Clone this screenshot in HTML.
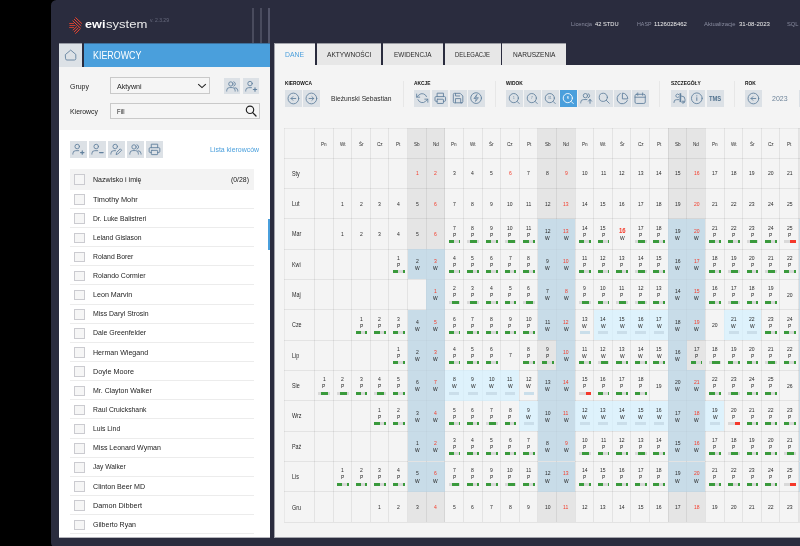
<!DOCTYPE html>
<html><head><meta charset="utf-8"><title>ewisystem</title>
<style>
html,body{margin:0;padding:0;background:#000;}
body{width:800px;height:546px;overflow:hidden;position:relative;font-family:"Liberation Sans",sans-serif;}
#app{will-change:transform;position:absolute;left:0;top:0;width:800px;height:546px;overflow:hidden;background:#000;}
</style></head><body><div id="app">
<div style="position:absolute;left:51.00px;top:0.00px;width:760.00px;height:547.50px;background:#2a2c3e;border-radius:5.5px 0 0 5.5px;"></div>
<svg style="position:absolute;left:69.00px;top:17.00px;" width="13.2" height="17.6" viewBox="0 0 13.2 17.6" fill="none"><g stroke="#f0452f" stroke-width="1.0" stroke-linecap="butt"><line x1="3.60" y1="3.70" x2="11.70" y2="11.40"/><line stroke-width="1.0" x1="3.80" y1="13.30" x2="7.90" y2="9.50"/><line x1="5.00" y1="2.05" x2="12.30" y2="9.00"/><line stroke-width="1.0" x1="5.10" y1="15.00" x2="9.45" y2="10.80"/><line x1="6.40" y1="0.40" x2="12.90" y2="6.60"/><line stroke-width="1.0" x1="6.40" y1="16.70" x2="11.00" y2="12.10"/><g stroke-width="0.8"><line x1="0.2" y1="6.5" x2="5.0" y2="6.5"/><line x1="0.5" y1="8.5" x2="6.4" y2="8.5"/><line x1="0.2" y1="10.5" x2="5.0" y2="10.5"/></g></g></svg>
<div style="position:absolute;left:84.90px;top:17.66px;font-size:11.8px;line-height:13.57px;color:#fff;white-space:nowrap;font-weight:bold;transform:scaleX(1.0726);transform-origin:0 50%;">ewi</div>
<div style="position:absolute;left:105.60px;top:17.66px;font-size:11.8px;line-height:13.57px;color:#ececec;white-space:nowrap;transform:scaleX(1.1078);transform-origin:0 50%;">system</div>
<div style="position:absolute;left:149.80px;top:17.96px;font-size:4.6px;line-height:5.29px;color:#686b7e;white-space:nowrap;transform:scaleX(1.0980);transform-origin:0 50%;">v. 2.3.29</div>
<div style="position:absolute;left:252.00px;top:8.00px;width:1.90px;height:35.50px;background:#494b5d;"></div>
<div style="position:absolute;left:260.30px;top:8.00px;width:1.90px;height:35.50px;background:#494b5d;"></div>
<div style="position:absolute;left:268.20px;top:8.00px;width:1.90px;height:35.50px;background:#525468;"></div>
<div style="position:absolute;left:571.40px;top:21.01px;font-size:5.9px;line-height:6.79px;color:#888b9e;white-space:nowrap;transform:scaleX(0.9701);transform-origin:0 50%;">Licencja</div>
<div style="position:absolute;left:595.40px;top:21.01px;font-size:5.9px;line-height:6.79px;color:#f0f0f0;white-space:nowrap;transform:scaleX(0.9727);transform-origin:0 50%;">42 STDU</div>
<div style="position:absolute;left:636.50px;top:21.01px;font-size:5.9px;line-height:6.79px;color:#888b9e;white-space:nowrap;transform:scaleX(0.9025);transform-origin:0 50%;">HASP</div>
<div style="position:absolute;left:654.00px;top:21.01px;font-size:5.9px;line-height:6.79px;color:#f0f0f0;white-space:nowrap;transform:scaleX(1.0193);transform-origin:0 50%;">1126028462</div>
<div style="position:absolute;left:704.00px;top:21.01px;font-size:5.9px;line-height:6.79px;color:#888b9e;white-space:nowrap;">Aktualizacje</div>
<div style="position:absolute;left:739.00px;top:21.01px;font-size:5.9px;line-height:6.79px;color:#f0f0f0;white-space:nowrap;transform:scaleX(1.0271);transform-origin:0 50%;">31-08-2023</div>
<div style="position:absolute;left:787.40px;top:21.01px;font-size:5.9px;line-height:6.79px;color:#888b9e;white-space:nowrap;transform:scaleX(0.9741);transform-origin:0 50%;">SQL</div>
<div style="position:absolute;left:59.00px;top:43.20px;width:211.10px;height:494.50px;background:#fff;"></div>
<div style="position:absolute;left:59.00px;top:43.20px;width:23.00px;height:23.60px;background:#dce1e6;"></div>
<div style="position:absolute;left:82.00px;top:43.20px;width:1.70px;height:23.60px;background:#2a2c3e;"></div>
<div style="position:absolute;left:83.70px;top:43.20px;width:186.40px;height:23.60px;background:#4a9fdc;"></div>
<svg style="position:absolute;left:64.00px;top:49.00px;" width="14" height="13" viewBox="0 0 14 13" fill="none"><path d="M1.6 5.4 L6.7 1.1 L11.8 5.4 V9.6 a1.4 1.4 0 0 1 -1.4 1.4 H2.9 a1.4 1.4 0 0 1 -1.4 -1.4 Z" stroke="#62819e" stroke-width="0.9" stroke-linecap="round" stroke-linejoin="round" fill="none"/></svg>
<div style="position:absolute;left:92.90px;top:49.53px;font-size:10.2px;line-height:11.73px;color:#fff;white-space:nowrap;transform:scaleX(0.8715);transform-origin:0 50%;">KIEROWCY</div>
<div style="position:absolute;left:59.00px;top:66.80px;width:211.10px;height:63.40px;background:#f4f4f4;"></div>
<div style="position:absolute;left:69.60px;top:82.83px;font-size:7.6px;line-height:8.74px;color:#222;white-space:nowrap;transform:scaleX(0.9180);transform-origin:0 50%;">Grupy</div>
<div style="position:absolute;left:110.00px;top:77.30px;width:99.80px;height:17.20px;background:#f5f5f5;box-sizing:border-box;border:1px solid #c9c9c9;"></div>
<div style="position:absolute;left:117.00px;top:82.53px;font-size:7.6px;line-height:8.74px;color:#222;white-space:nowrap;transform:scaleX(0.9395);transform-origin:0 50%;">Aktywni</div>
<svg style="position:absolute;left:196.60px;top:83.40px;" width="10" height="6" viewBox="0 0 10 6" fill="none"><path d="M1.2 1.2 L5 4.6 L8.8 1.2" stroke="#222" stroke-width="1.1" fill="none"/></svg>
<div style="position:absolute;left:223.70px;top:77.50px;width:16.60px;height:16.80px;background:#dce1e6;"></div>
<div style="position:absolute;left:242.90px;top:77.50px;width:16.60px;height:16.80px;background:#dce1e6;"></div>
<svg style="position:absolute;left:223.70px;top:77.50px;" width="16.6" height="16.8" viewBox="0 0 17 17" fill="none"><g stroke="#62819e" stroke-width="0.9" stroke-linecap="round" stroke-linejoin="round" fill="none"><circle cx="7.0" cy="6.0" r="2.2"/><path d="M2.8 13.3 v-0.7 a2.9 2.9 0 0 1 2.9 -2.9 h2.8 a2.9 2.9 0 0 1 2.9 2.9 v0.7"/><path d="M10.0 3.8 a2.3 2.3 0 0 1 0 4.4"/><path d="M11.3 9.8 a3.0 3.0 0 0 1 2.8 2.9 v0.6"/></g></svg>
<svg style="position:absolute;left:242.90px;top:77.50px;" width="16.6" height="16.8" viewBox="0 0 17 17" fill="none"><g stroke="#62819e" stroke-width="0.9" stroke-linecap="round" stroke-linejoin="round" fill="none"><circle cx="7.2" cy="5.6" r="2.3"/><path d="M2.8 13.3 v-0.6 a2.9 2.9 0 0 1 2.9 -2.9 h3.0"/><path d="M10.6 11.7 h3.4 M12.3 10 v3.4" stroke-width="1.2"/></g></svg>
<div style="position:absolute;left:69.60px;top:108.03px;font-size:7.6px;line-height:8.74px;color:#222;white-space:nowrap;transform:scaleX(0.9082);transform-origin:0 50%;">Kierowcy</div>
<div style="position:absolute;left:110.00px;top:103.10px;width:149.70px;height:16.40px;background:#f5f5f5;box-sizing:border-box;border:1px solid #c9c9c9;"></div>
<div style="position:absolute;left:117.00px;top:107.93px;font-size:7.6px;line-height:8.74px;color:#222;white-space:nowrap;transform:scaleX(0.7828);transform-origin:0 50%;">Fill</div>
<svg style="position:absolute;left:244.00px;top:103.70px;" width="14" height="14" viewBox="0 0 14 14" fill="none"><circle cx="6" cy="5.8" r="3.7" stroke="#222" stroke-width="1.15"/><path d="M8.7 8.6 L12 12" stroke="#222" stroke-width="1.3" stroke-linecap="round"/></svg>
<div style="position:absolute;left:69.60px;top:141.00px;width:17.00px;height:16.80px;background:#dce1e6;"></div>
<svg style="position:absolute;left:69.60px;top:141.40px;" width="17" height="16.8" viewBox="0 0 17 17" fill="none"><g stroke="#62819e" stroke-width="0.9" stroke-linecap="round" stroke-linejoin="round" fill="none"><circle cx="7.2" cy="5.6" r="2.3"/><path d="M2.8 13.3 v-0.6 a2.9 2.9 0 0 1 2.9 -2.9 h3.0"/><path d="M10.6 11.7 h3.4 M12.3 10 v3.4" stroke-width="1.2"/></g></svg>
<div style="position:absolute;left:88.80px;top:141.00px;width:17.00px;height:16.80px;background:#dce1e6;"></div>
<svg style="position:absolute;left:88.80px;top:141.40px;" width="17" height="16.8" viewBox="0 0 17 17" fill="none"><g stroke="#62819e" stroke-width="0.9" stroke-linecap="round" stroke-linejoin="round" fill="none"><circle cx="7.2" cy="5.6" r="2.3"/><path d="M2.8 13.3 v-0.6 a2.9 2.9 0 0 1 2.9 -2.9 h3.0"/><path d="M10.6 11.7 h3.6" stroke-width="1.2"/></g></svg>
<div style="position:absolute;left:108.00px;top:141.00px;width:17.00px;height:16.80px;background:#dce1e6;"></div>
<svg style="position:absolute;left:108.00px;top:141.40px;" width="17" height="16.8" viewBox="0 0 17 17" fill="none"><g stroke="#62819e" stroke-width="0.9" stroke-linecap="round" stroke-linejoin="round" fill="none"><circle cx="7.2" cy="5.6" r="2.3"/><path d="M2.8 13.3 v-0.6 a2.9 2.9 0 0 1 2.9 -2.9 h1.8"/><path d="M8.2 13.4 l0.5 -1.9 l3.6 -3.6 l1.4 1.4 l-3.6 3.6 Z"/></g></svg>
<div style="position:absolute;left:127.10px;top:141.00px;width:17.00px;height:16.80px;background:#dce1e6;"></div>
<svg style="position:absolute;left:127.10px;top:141.40px;" width="17" height="16.8" viewBox="0 0 17 17" fill="none"><g stroke="#62819e" stroke-width="0.9" stroke-linecap="round" stroke-linejoin="round" fill="none"><circle cx="7.0" cy="6.0" r="2.2"/><path d="M2.8 13.3 v-0.7 a2.9 2.9 0 0 1 2.9 -2.9 h2.8 a2.9 2.9 0 0 1 2.9 2.9 v0.7"/><path d="M10.0 3.8 a2.3 2.3 0 0 1 0 4.4"/><path d="M11.3 9.8 a3.0 3.0 0 0 1 2.8 2.9 v0.6"/></g></svg>
<div style="position:absolute;left:146.20px;top:141.00px;width:17.00px;height:16.80px;background:#dce1e6;"></div>
<svg style="position:absolute;left:146.20px;top:141.40px;" width="17" height="16.8" viewBox="0 0 17 17" fill="none"><g transform="translate(2.0 1.9) scale(0.54)" stroke="#62819e" stroke-width="1.7" stroke-linecap="round" stroke-linejoin="round" fill="none"><polyline points="6 9 6 2.5 18 2.5 18 9"/><path d="M6 18H4a2 2 0 0 1-2-2v-5a2 2 0 0 1 2-2h16a2 2 0 0 1 2 2v5a2 2 0 0 1-2 2h-2"/><rect x="6" y="14" width="12" height="8" rx="1"/></g></svg>
<div style="position:absolute;left:209.90px;top:145.62px;font-size:7.8px;line-height:8.97px;color:#4a9fdc;white-space:nowrap;transform:scaleX(0.8918);transform-origin:0 50%;">Lista kierowców</div>
<div style="position:absolute;left:69.60px;top:168.90px;width:184.70px;height:20.70px;background:#f3f3f3;"></div>
<div style="position:absolute;left:74px;top:174.15px;width:10.5px;height:10.5px;box-sizing:border-box;border:1px solid #cbcbd0;background:#f6f6f6"></div>
<div style="position:absolute;left:93.00px;top:175.82px;font-size:7.7px;line-height:8.85px;color:#1c1c1c;white-space:nowrap;transform:scaleX(0.9160);transform-origin:0 50%;">Nazwisko i imię</div>
<div style="position:absolute;left:74px;top:194.25px;width:10.5px;height:10.5px;box-sizing:border-box;border:1px solid #cbcbd0;background:#f6f6f6"></div>
<div style="position:absolute;left:93.00px;top:195.52px;font-size:7.7px;line-height:8.85px;color:#1c1c1c;white-space:nowrap;transform:scaleX(0.9577);transform-origin:0 50%;">Timothy Mohr</div>
<div style="position:absolute;left:69.60px;top:207.95px;width:184.70px;height:0.80px;background:#ececec;"></div>
<div style="position:absolute;left:74px;top:213.38px;width:10.5px;height:10.5px;box-sizing:border-box;border:1px solid #cbcbd0;background:#f6f6f6"></div>
<div style="position:absolute;left:93.00px;top:214.66px;font-size:7.7px;line-height:8.85px;color:#1c1c1c;white-space:nowrap;transform:scaleX(0.8771);transform-origin:0 50%;">Dr. Luke Balistreri</div>
<div style="position:absolute;left:69.60px;top:227.08px;width:184.70px;height:0.80px;background:#ececec;"></div>
<div style="position:absolute;left:74px;top:232.52px;width:10.5px;height:10.5px;box-sizing:border-box;border:1px solid #cbcbd0;background:#f6f6f6"></div>
<div style="position:absolute;left:93.00px;top:233.79px;font-size:7.7px;line-height:8.85px;color:#1c1c1c;white-space:nowrap;transform:scaleX(0.8801);transform-origin:0 50%;">Leland Gislason</div>
<div style="position:absolute;left:69.60px;top:246.22px;width:184.70px;height:0.80px;background:#ececec;"></div>
<div style="position:absolute;left:74px;top:251.66px;width:10.5px;height:10.5px;box-sizing:border-box;border:1px solid #cbcbd0;background:#f6f6f6"></div>
<div style="position:absolute;left:93.00px;top:252.93px;font-size:7.7px;line-height:8.85px;color:#1c1c1c;white-space:nowrap;transform:scaleX(0.8904);transform-origin:0 50%;">Roland Borer</div>
<div style="position:absolute;left:69.60px;top:265.36px;width:184.70px;height:0.80px;background:#ececec;"></div>
<div style="position:absolute;left:74px;top:270.79px;width:10.5px;height:10.5px;box-sizing:border-box;border:1px solid #cbcbd0;background:#f6f6f6"></div>
<div style="position:absolute;left:93.00px;top:272.06px;font-size:7.7px;line-height:8.85px;color:#1c1c1c;white-space:nowrap;transform:scaleX(0.9054);transform-origin:0 50%;">Rolando Cormier</div>
<div style="position:absolute;left:69.60px;top:284.49px;width:184.70px;height:0.80px;background:#ececec;"></div>
<div style="position:absolute;left:74px;top:289.93px;width:10.5px;height:10.5px;box-sizing:border-box;border:1px solid #cbcbd0;background:#f6f6f6"></div>
<div style="position:absolute;left:93.00px;top:291.20px;font-size:7.7px;line-height:8.85px;color:#1c1c1c;white-space:nowrap;transform:scaleX(0.9275);transform-origin:0 50%;">Leon Marvin</div>
<div style="position:absolute;left:69.60px;top:303.62px;width:184.70px;height:0.80px;background:#ececec;"></div>
<div style="position:absolute;left:74px;top:309.06px;width:10.5px;height:10.5px;box-sizing:border-box;border:1px solid #cbcbd0;background:#f6f6f6"></div>
<div style="position:absolute;left:93.00px;top:310.33px;font-size:7.7px;line-height:8.85px;color:#1c1c1c;white-space:nowrap;transform:scaleX(0.8978);transform-origin:0 50%;">Miss Daryl Strosin</div>
<div style="position:absolute;left:69.60px;top:322.76px;width:184.70px;height:0.80px;background:#ececec;"></div>
<div style="position:absolute;left:74px;top:328.19px;width:10.5px;height:10.5px;box-sizing:border-box;border:1px solid #cbcbd0;background:#f6f6f6"></div>
<div style="position:absolute;left:93.00px;top:329.47px;font-size:7.7px;line-height:8.85px;color:#1c1c1c;white-space:nowrap;transform:scaleX(0.9072);transform-origin:0 50%;">Dale Greenfelder</div>
<div style="position:absolute;left:69.60px;top:341.89px;width:184.70px;height:0.80px;background:#ececec;"></div>
<div style="position:absolute;left:74px;top:347.33px;width:10.5px;height:10.5px;box-sizing:border-box;border:1px solid #cbcbd0;background:#f6f6f6"></div>
<div style="position:absolute;left:93.00px;top:348.60px;font-size:7.7px;line-height:8.85px;color:#1c1c1c;white-space:nowrap;transform:scaleX(0.9213);transform-origin:0 50%;">Herman Wiegand</div>
<div style="position:absolute;left:69.60px;top:361.03px;width:184.70px;height:0.80px;background:#ececec;"></div>
<div style="position:absolute;left:74px;top:366.46px;width:10.5px;height:10.5px;box-sizing:border-box;border:1px solid #cbcbd0;background:#f6f6f6"></div>
<div style="position:absolute;left:93.00px;top:367.74px;font-size:7.7px;line-height:8.85px;color:#1c1c1c;white-space:nowrap;transform:scaleX(0.9415);transform-origin:0 50%;">Doyle Moore</div>
<div style="position:absolute;left:69.60px;top:380.16px;width:184.70px;height:0.80px;background:#ececec;"></div>
<div style="position:absolute;left:74px;top:385.60px;width:10.5px;height:10.5px;box-sizing:border-box;border:1px solid #cbcbd0;background:#f6f6f6"></div>
<div style="position:absolute;left:93.00px;top:386.87px;font-size:7.7px;line-height:8.85px;color:#1c1c1c;white-space:nowrap;transform:scaleX(0.9081);transform-origin:0 50%;">Mr. Clayton Walker</div>
<div style="position:absolute;left:69.60px;top:399.30px;width:184.70px;height:0.80px;background:#ececec;"></div>
<div style="position:absolute;left:74px;top:404.74px;width:10.5px;height:10.5px;box-sizing:border-box;border:1px solid #cbcbd0;background:#f6f6f6"></div>
<div style="position:absolute;left:93.00px;top:406.01px;font-size:7.7px;line-height:8.85px;color:#1c1c1c;white-space:nowrap;transform:scaleX(0.8850);transform-origin:0 50%;">Raul Cruickshank</div>
<div style="position:absolute;left:69.60px;top:418.44px;width:184.70px;height:0.80px;background:#ececec;"></div>
<div style="position:absolute;left:74px;top:423.87px;width:10.5px;height:10.5px;box-sizing:border-box;border:1px solid #cbcbd0;background:#f6f6f6"></div>
<div style="position:absolute;left:93.00px;top:425.14px;font-size:7.7px;line-height:8.85px;color:#1c1c1c;white-space:nowrap;transform:scaleX(0.8824);transform-origin:0 50%;">Luis Lind</div>
<div style="position:absolute;left:69.60px;top:437.57px;width:184.70px;height:0.80px;background:#ececec;"></div>
<div style="position:absolute;left:74px;top:443.01px;width:10.5px;height:10.5px;box-sizing:border-box;border:1px solid #cbcbd0;background:#f6f6f6"></div>
<div style="position:absolute;left:93.00px;top:444.28px;font-size:7.7px;line-height:8.85px;color:#1c1c1c;white-space:nowrap;transform:scaleX(0.9127);transform-origin:0 50%;">Miss Leonard Wyman</div>
<div style="position:absolute;left:69.60px;top:456.71px;width:184.70px;height:0.80px;background:#ececec;"></div>
<div style="position:absolute;left:74px;top:462.14px;width:10.5px;height:10.5px;box-sizing:border-box;border:1px solid #cbcbd0;background:#f6f6f6"></div>
<div style="position:absolute;left:93.00px;top:463.41px;font-size:7.7px;line-height:8.85px;color:#1c1c1c;white-space:nowrap;transform:scaleX(0.8652);transform-origin:0 50%;">Jay Walker</div>
<div style="position:absolute;left:69.60px;top:475.84px;width:184.70px;height:0.80px;background:#ececec;"></div>
<div style="position:absolute;left:74px;top:481.28px;width:10.5px;height:10.5px;box-sizing:border-box;border:1px solid #cbcbd0;background:#f6f6f6"></div>
<div style="position:absolute;left:93.00px;top:482.55px;font-size:7.7px;line-height:8.85px;color:#1c1c1c;white-space:nowrap;transform:scaleX(0.9241);transform-origin:0 50%;">Clinton Beer MD</div>
<div style="position:absolute;left:69.60px;top:494.98px;width:184.70px;height:0.80px;background:#ececec;"></div>
<div style="position:absolute;left:74px;top:500.41px;width:10.5px;height:10.5px;box-sizing:border-box;border:1px solid #cbcbd0;background:#f6f6f6"></div>
<div style="position:absolute;left:93.00px;top:501.68px;font-size:7.7px;line-height:8.85px;color:#1c1c1c;white-space:nowrap;transform:scaleX(0.9501);transform-origin:0 50%;">Damon Dibbert</div>
<div style="position:absolute;left:69.60px;top:514.11px;width:184.70px;height:0.80px;background:#ececec;"></div>
<div style="position:absolute;left:74px;top:519.54px;width:10.5px;height:10.5px;box-sizing:border-box;border:1px solid #cbcbd0;background:#f6f6f6"></div>
<div style="position:absolute;left:93.00px;top:520.82px;font-size:7.7px;line-height:8.85px;color:#1c1c1c;white-space:nowrap;transform:scaleX(0.9155);transform-origin:0 50%;">Gilberto Ryan</div>
<div style="position:absolute;left:69.60px;top:533.25px;width:184.70px;height:0.80px;background:#ececec;"></div>
<div style="position:absolute;left:231.10px;top:175.52px;font-size:7.7px;line-height:8.85px;color:#222;white-space:nowrap;transform:scaleX(0.8948);transform-origin:0 50%;">(0/28)</div>
<div style="position:absolute;left:267.60px;top:218.60px;width:2.50px;height:31.60px;background:#4a9fdc;"></div>
<div style="position:absolute;left:274.20px;top:64.60px;width:525.80px;height:473.00px;background:#f4f4f4;"></div>
<div style="position:absolute;left:274.20px;top:43.20px;width:40.80px;height:21.60px;background:#f4f4f4;"></div>
<div style="position:absolute;left:285.10px;top:50.74px;font-size:7.4px;line-height:8.51px;color:#4a9fdc;white-space:nowrap;transform:scaleX(0.9241);transform-origin:0 50%;">DANE</div>
<div style="position:absolute;left:316.70px;top:43.20px;width:64.70px;height:21.60px;background:#e7e7e7;"></div>
<div style="position:absolute;left:326.85px;top:50.74px;font-size:7.4px;line-height:8.51px;color:#2a2a2a;white-space:nowrap;transform:scaleX(0.8925);transform-origin:0 50%;">AKTYWNOŚCI</div>
<div style="position:absolute;left:383.00px;top:43.20px;width:59.60px;height:21.60px;background:#e7e7e7;"></div>
<div style="position:absolute;left:394.05px;top:50.74px;font-size:7.4px;line-height:8.51px;color:#2a2a2a;white-space:nowrap;transform:scaleX(0.8605);transform-origin:0 50%;">EWIDENCJA</div>
<div style="position:absolute;left:444.50px;top:43.20px;width:56.10px;height:21.60px;background:#e7e7e7;"></div>
<div style="position:absolute;left:455.05px;top:50.74px;font-size:7.4px;line-height:8.51px;color:#2a2a2a;white-space:nowrap;transform:scaleX(0.7954);transform-origin:0 50%;">DELEGACJE</div>
<div style="position:absolute;left:502.40px;top:43.20px;width:63.60px;height:21.60px;background:#e7e7e7;"></div>
<div style="position:absolute;left:512.95px;top:50.74px;font-size:7.4px;line-height:8.51px;color:#2a2a2a;white-space:nowrap;transform:scaleX(0.8910);transform-origin:0 50%;">NARUSZENIA</div>
<div style="position:absolute;left:285.00px;top:80.09px;font-size:5.4px;line-height:6.21px;color:#111;white-space:nowrap;font-weight:bold;transform:scaleX(0.9000);transform-origin:0 50%;">KIEROWCA</div>
<div style="position:absolute;left:285.00px;top:90.20px;width:16.60px;height:16.60px;background:#dce1e6;"></div>
<svg style="position:absolute;left:285.00px;top:90.20px;" width="16.6" height="16.6" viewBox="0 0 17 17" fill="none"><g stroke="#62819e" stroke-width="0.9" stroke-linecap="round" stroke-linejoin="round" fill="none"><circle cx="8.6" cy="8.7" r="5.5"/><path d="M11.0 8.7 H6.2 M8.1 6.8 L6.2 8.7 L8.1 10.6"/></g></svg>
<div style="position:absolute;left:303.30px;top:90.20px;width:16.60px;height:16.60px;background:#dce1e6;"></div>
<svg style="position:absolute;left:303.30px;top:90.20px;" width="16.6" height="16.6" viewBox="0 0 17 17" fill="none"><g stroke="#62819e" stroke-width="0.9" stroke-linecap="round" stroke-linejoin="round" fill="none"><circle cx="8.6" cy="8.7" r="5.5"/><path d="M6.2 8.7 H11.0 M9.1 6.8 L11.0 8.7 L9.1 10.6"/></g></svg>
<div style="position:absolute;left:331.00px;top:95.45px;font-size:7.4px;line-height:8.51px;color:#2a2a2a;white-space:nowrap;transform:scaleX(0.9093);transform-origin:0 50%;">Bieżunski Sebastian</div>
<div style="position:absolute;left:403.20px;top:81.00px;width:0.90px;height:25.80px;background:#e7e7e7;"></div>
<div style="position:absolute;left:495.20px;top:81.00px;width:0.90px;height:25.80px;background:#e7e7e7;"></div>
<div style="position:absolute;left:659.40px;top:81.00px;width:0.90px;height:25.80px;background:#e7e7e7;"></div>
<div style="position:absolute;left:734.20px;top:81.00px;width:0.90px;height:25.80px;background:#e7e7e7;"></div>
<div style="position:absolute;left:413.60px;top:80.09px;font-size:5.4px;line-height:6.21px;color:#111;white-space:nowrap;font-weight:bold;transform:scaleX(0.9000);transform-origin:0 50%;">AKCJE</div>
<div style="position:absolute;left:413.70px;top:90.20px;width:16.60px;height:16.60px;background:#dce1e6;"></div>
<svg style="position:absolute;left:413.70px;top:90.20px;" width="16.6" height="16.6" viewBox="0 0 17 17" fill="none"><g transform="translate(2.2 2.1) scale(0.52)" stroke="#62819e" stroke-width="1.7" stroke-linecap="round" stroke-linejoin="round" fill="none"><polyline points="1 4 1 10 7 10"/><polyline points="23 20 23 14 17 14"/><path d="M20.49 9A9 9 0 0 0 5.64 5.64L1 10m22 4l-4.64 4.36A9 9 0 0 1 3.51 15"/></g></svg>
<div style="position:absolute;left:431.87px;top:90.20px;width:16.60px;height:16.60px;background:#dce1e6;"></div>
<svg style="position:absolute;left:431.87px;top:90.20px;" width="16.6" height="16.6" viewBox="0 0 17 17" fill="none"><g transform="translate(2.0 1.9) scale(0.54)" stroke="#62819e" stroke-width="1.7" stroke-linecap="round" stroke-linejoin="round" fill="none"><polyline points="6 9 6 2.5 18 2.5 18 9"/><path d="M6 18H4a2 2 0 0 1-2-2v-5a2 2 0 0 1 2-2h16a2 2 0 0 1 2 2v5a2 2 0 0 1-2 2h-2"/><rect x="6" y="14" width="12" height="8" rx="1"/></g></svg>
<div style="position:absolute;left:450.04px;top:90.20px;width:16.60px;height:16.60px;background:#dce1e6;"></div>
<svg style="position:absolute;left:450.04px;top:90.20px;" width="16.6" height="16.6" viewBox="0 0 17 17" fill="none"><g transform="translate(1.8 1.8) scale(0.54)" stroke="#62819e" stroke-width="1.7" stroke-linecap="round" stroke-linejoin="round" fill="none"><path d="M19 21H5a2 2 0 0 1-2-2V5a2 2 0 0 1 2-2h11l5 5v11a2 2 0 0 1-2 2z"/><polyline points="17 21 17 13 7 13 7 21"/><polyline points="7 3 7 8 15 8"/></g></svg>
<div style="position:absolute;left:468.21px;top:90.20px;width:16.60px;height:16.60px;background:#dce1e6;"></div>
<svg style="position:absolute;left:468.21px;top:90.20px;" width="16.6" height="16.6" viewBox="0 0 17 17" fill="none"><g stroke="#62819e" stroke-width="0.9" stroke-linecap="round" stroke-linejoin="round" fill="none"><circle cx="8.3" cy="8.3" r="5.5"/><path d="M9 4.9 L6.1 8.7 H8.5 L7.7 11.7 L10.6 7.9 H8.2 Z" stroke-width="0.8"/></g></svg>
<div style="position:absolute;left:506.20px;top:80.09px;font-size:5.4px;line-height:6.21px;color:#111;white-space:nowrap;font-weight:bold;transform:scaleX(0.9000);transform-origin:0 50%;">WIDOK</div>
<div style="position:absolute;left:506.20px;top:90.20px;width:16.60px;height:16.60px;background:#dce1e6;"></div>
<svg style="position:absolute;left:506.20px;top:90.20px;" width="16.6" height="16.6" viewBox="0 0 17 17" fill="none"><g stroke="#62819e" stroke-width="0.9" stroke-linecap="round" stroke-linejoin="round" fill="none"><circle cx="8.0" cy="8.3" r="4.7"/><path d="M11.5 11.8 L13.6 13.9"/></g><text x="8.0" y="9.4" font-size="3.2" font-family="Liberation Sans, sans-serif" fill="#62819e" text-anchor="middle">1</text></svg>
<div style="position:absolute;left:524.20px;top:90.20px;width:16.60px;height:16.60px;background:#dce1e6;"></div>
<svg style="position:absolute;left:524.20px;top:90.20px;" width="16.6" height="16.6" viewBox="0 0 17 17" fill="none"><g stroke="#62819e" stroke-width="0.9" stroke-linecap="round" stroke-linejoin="round" fill="none"><circle cx="8.0" cy="8.3" r="4.7"/><path d="M11.5 11.8 L13.6 13.9"/></g><text x="8.0" y="9.4" font-size="3.2" font-family="Liberation Sans, sans-serif" fill="#62819e" text-anchor="middle">7</text></svg>
<div style="position:absolute;left:542.20px;top:90.20px;width:16.60px;height:16.60px;background:#dce1e6;"></div>
<svg style="position:absolute;left:542.20px;top:90.20px;" width="16.6" height="16.6" viewBox="0 0 17 17" fill="none"><g stroke="#62819e" stroke-width="0.9" stroke-linecap="round" stroke-linejoin="round" fill="none"><circle cx="8.0" cy="8.3" r="4.7"/><path d="M11.5 11.8 L13.6 13.9"/></g><text x="8.0" y="9.4" font-size="3.2" font-family="Liberation Sans, sans-serif" fill="#62819e" text-anchor="middle">31</text></svg>
<div style="position:absolute;left:560.20px;top:90.20px;width:16.60px;height:16.60px;background:#4a9fdc;"></div>
<svg style="position:absolute;left:560.20px;top:90.20px;" width="16.6" height="16.6" viewBox="0 0 17 17" fill="none"><g stroke="#ffffff" stroke-width="0.9" stroke-linecap="round" stroke-linejoin="round" fill="none"><circle cx="8.0" cy="8.3" r="4.7"/><path d="M11.5 11.8 L13.6 13.9"/></g><text x="8.0" y="9.4" font-size="3.2" font-family="Liberation Sans, sans-serif" fill="#ffffff" text-anchor="middle">R</text></svg>
<div style="position:absolute;left:578.20px;top:90.20px;width:16.60px;height:16.60px;background:#dce1e6;"></div>
<svg style="position:absolute;left:578.20px;top:90.20px;" width="16.6" height="16.6" viewBox="0 0 17 17" fill="none"><g stroke="#62819e" stroke-width="0.9" stroke-linecap="round" stroke-linejoin="round" fill="none"><circle cx="7.6" cy="5.8" r="2.2"/><path d="M2.8 13.3 v-0.6 a2.9 2.9 0 0 1 2.9 -2.9 h3.4"/><path d="M10.4 3.8 a2.2 2.2 0 0 1 0 4.2"/><path d="M12.3 13.6 V9.7 M10.7 11.4 L12.3 9.7 L13.9 11.4" stroke-width="1.0"/></g></svg>
<div style="position:absolute;left:596.20px;top:90.20px;width:16.60px;height:16.60px;background:#dce1e6;"></div>
<svg style="position:absolute;left:596.20px;top:90.20px;" width="16.6" height="16.6" viewBox="0 0 17 17" fill="none"><g stroke="#62819e" stroke-width="0.9" stroke-linecap="round" stroke-linejoin="round" fill="none"><circle cx="7.5" cy="7.5" r="4.2"/><path d="M10.6 10.6 L13.6 13.6"/></g></svg>
<div style="position:absolute;left:614.20px;top:90.20px;width:16.60px;height:16.60px;background:#dce1e6;"></div>
<svg style="position:absolute;left:614.20px;top:90.20px;" width="16.6" height="16.6" viewBox="0 0 17 17" fill="none"><g transform="translate(2.0 2.1) scale(0.55)" stroke="#62819e" stroke-width="1.7" stroke-linecap="round" stroke-linejoin="round" fill="none"><path d="M21.21 15.89A10 10 0 1 1 8 2.83"/><path d="M22 12A10 10 0 0 0 12 2v10z"/></g></svg>
<div style="position:absolute;left:632.20px;top:90.20px;width:16.60px;height:16.60px;background:#dce1e6;"></div>
<svg style="position:absolute;left:632.20px;top:90.20px;" width="16.6" height="16.6" viewBox="0 0 17 17" fill="none"><g stroke="#62819e" stroke-width="0.9" stroke-linecap="round" stroke-linejoin="round" fill="none"><rect x="3.1" y="4.4" width="10.5" height="9.4" rx="1.5"/><path d="M3.1 7.4 H13.6 M5.9 3.0 V5.4 M10.9 3.0 V5.4"/></g></svg>
<div style="position:absolute;left:670.50px;top:80.09px;font-size:5.4px;line-height:6.21px;color:#111;white-space:nowrap;font-weight:bold;transform:scaleX(0.9000);transform-origin:0 50%;">SZCZEGÓŁY</div>
<div style="position:absolute;left:670.50px;top:90.20px;width:16.60px;height:16.60px;background:#dce1e6;"></div>
<svg style="position:absolute;left:670.50px;top:90.20px;" width="16.6" height="16.6" viewBox="0 0 17 17" fill="none"><g stroke="#62819e" stroke-width="0.9" stroke-linecap="round" stroke-linejoin="round" fill="none"><path d="M7.9 4.6 a1.75 1.75 0 1 0 0 2.6"/><path d="M3.1 12.8 v-0.5 a2.5 2.5 0 0 1 2.5 -2.4 h2.3"/><path d="M9.6 3.3 V12.4" stroke-width="1.7" stroke-linecap="butt"/><path d="M10.5 6.3 h0.6 a3.2 3.2 0 0 1 3.2 3.2 V11.6 a0.6 0.6 0 0 1 -0.6 0.6"/><circle cx="12.3" cy="12.4" r="1.15" fill="#dce1e6"/></g></svg>
<div style="position:absolute;left:688.75px;top:90.20px;width:16.60px;height:16.60px;background:#dce1e6;"></div>
<svg style="position:absolute;left:688.75px;top:90.20px;" width="16.6" height="16.6" viewBox="0 0 17 17" fill="none"><g stroke="#62819e" stroke-width="0.9" stroke-linecap="round" stroke-linejoin="round" fill="none"><circle cx="8.0" cy="8.5" r="5.5"/><path d="M8.0 7.9 V10.7" stroke-width="1.0"/><circle cx="8.0" cy="6.0" r="0.6" fill="#62819e" stroke="none"/></g></svg>
<div style="position:absolute;left:707.00px;top:90.20px;width:16.60px;height:16.60px;background:#dce1e6;"></div>
<div style="position:absolute;left:709.10px;top:95.16px;font-size:6.5px;line-height:7.47px;color:#53738f;white-space:nowrap;font-weight:bold;transform:scaleX(0.8891);transform-origin:0 50%;">TMS</div>
<div style="position:absolute;left:744.80px;top:80.09px;font-size:5.4px;line-height:6.21px;color:#111;white-space:nowrap;font-weight:bold;transform:scaleX(0.9000);transform-origin:0 50%;">ROK</div>
<div style="position:absolute;left:745.00px;top:90.20px;width:16.60px;height:16.60px;background:#dce1e6;"></div>
<svg style="position:absolute;left:745.00px;top:90.20px;" width="16.6" height="16.6" viewBox="0 0 17 17" fill="none"><g stroke="#62819e" stroke-width="0.9" stroke-linecap="round" stroke-linejoin="round" fill="none"><circle cx="8.6" cy="8.7" r="5.5"/><path d="M11.0 8.7 H6.2 M8.1 6.8 L6.2 8.7 L8.1 10.6"/></g></svg>
<div style="position:absolute;left:772.00px;top:95.05px;font-size:7.4px;line-height:8.51px;color:#6d8399;white-space:nowrap;transform:scaleX(0.9476);transform-origin:0 50%;">2023</div>
<div style="position:absolute;left:799.00px;top:90.20px;width:2.00px;height:16.60px;background:#dce1e6;"></div>
<div style="position:absolute;left:284.40px;top:128.00px;width:0.90px;height:394.20px;background:rgba(0,0,0,0.048);"></div>
<div style="position:absolute;left:313.95px;top:128.00px;width:0.90px;height:394.20px;background:rgba(0,0,0,0.048);"></div>
<div style="position:absolute;left:332.57px;top:128.00px;width:0.90px;height:394.20px;background:rgba(0,0,0,0.048);"></div>
<div style="position:absolute;left:351.19px;top:128.00px;width:0.90px;height:394.20px;background:rgba(0,0,0,0.048);"></div>
<div style="position:absolute;left:369.81px;top:128.00px;width:0.90px;height:394.20px;background:rgba(0,0,0,0.048);"></div>
<div style="position:absolute;left:388.43px;top:128.00px;width:0.90px;height:394.20px;background:rgba(0,0,0,0.048);"></div>
<div style="position:absolute;left:407.05px;top:128.00px;width:0.90px;height:394.20px;background:rgba(0,0,0,0.048);"></div>
<div style="position:absolute;left:425.67px;top:128.00px;width:0.90px;height:394.20px;background:rgba(0,0,0,0.048);"></div>
<div style="position:absolute;left:444.29px;top:128.00px;width:0.90px;height:394.20px;background:rgba(0,0,0,0.048);"></div>
<div style="position:absolute;left:462.91px;top:128.00px;width:0.90px;height:394.20px;background:rgba(0,0,0,0.048);"></div>
<div style="position:absolute;left:481.53px;top:128.00px;width:0.90px;height:394.20px;background:rgba(0,0,0,0.048);"></div>
<div style="position:absolute;left:500.15px;top:128.00px;width:0.90px;height:394.20px;background:rgba(0,0,0,0.048);"></div>
<div style="position:absolute;left:518.77px;top:128.00px;width:0.90px;height:394.20px;background:rgba(0,0,0,0.048);"></div>
<div style="position:absolute;left:537.39px;top:128.00px;width:0.90px;height:394.20px;background:rgba(0,0,0,0.048);"></div>
<div style="position:absolute;left:556.01px;top:128.00px;width:0.90px;height:394.20px;background:rgba(0,0,0,0.048);"></div>
<div style="position:absolute;left:574.63px;top:128.00px;width:0.90px;height:394.20px;background:rgba(0,0,0,0.048);"></div>
<div style="position:absolute;left:593.25px;top:128.00px;width:0.90px;height:394.20px;background:rgba(0,0,0,0.048);"></div>
<div style="position:absolute;left:611.87px;top:128.00px;width:0.90px;height:394.20px;background:rgba(0,0,0,0.048);"></div>
<div style="position:absolute;left:630.49px;top:128.00px;width:0.90px;height:394.20px;background:rgba(0,0,0,0.048);"></div>
<div style="position:absolute;left:649.11px;top:128.00px;width:0.90px;height:394.20px;background:rgba(0,0,0,0.048);"></div>
<div style="position:absolute;left:667.73px;top:128.00px;width:0.90px;height:394.20px;background:rgba(0,0,0,0.048);"></div>
<div style="position:absolute;left:686.35px;top:128.00px;width:0.90px;height:394.20px;background:rgba(0,0,0,0.048);"></div>
<div style="position:absolute;left:704.97px;top:128.00px;width:0.90px;height:394.20px;background:rgba(0,0,0,0.048);"></div>
<div style="position:absolute;left:723.59px;top:128.00px;width:0.90px;height:394.20px;background:rgba(0,0,0,0.048);"></div>
<div style="position:absolute;left:742.21px;top:128.00px;width:0.90px;height:394.20px;background:rgba(0,0,0,0.048);"></div>
<div style="position:absolute;left:760.83px;top:128.00px;width:0.90px;height:394.20px;background:rgba(0,0,0,0.048);"></div>
<div style="position:absolute;left:779.45px;top:128.00px;width:0.90px;height:394.20px;background:rgba(0,0,0,0.048);"></div>
<div style="position:absolute;left:798.07px;top:128.00px;width:0.90px;height:394.20px;background:rgba(0,0,0,0.048);"></div>
<div style="position:absolute;left:816.69px;top:128.00px;width:0.90px;height:394.20px;background:rgba(0,0,0,0.048);"></div>
<div style="position:absolute;left:284.40px;top:127.55px;width:515.60px;height:0.90px;background:rgba(0,0,0,0.048);"></div>
<div style="position:absolute;left:284.40px;top:157.55px;width:515.60px;height:0.90px;background:rgba(0,0,0,0.048);"></div>
<div style="position:absolute;left:284.40px;top:187.90px;width:515.60px;height:0.90px;background:rgba(0,0,0,0.048);"></div>
<div style="position:absolute;left:284.40px;top:218.25px;width:515.60px;height:0.90px;background:rgba(0,0,0,0.048);"></div>
<div style="position:absolute;left:284.40px;top:248.60px;width:515.60px;height:0.90px;background:rgba(0,0,0,0.048);"></div>
<div style="position:absolute;left:284.40px;top:278.95px;width:515.60px;height:0.90px;background:rgba(0,0,0,0.048);"></div>
<div style="position:absolute;left:284.40px;top:309.30px;width:515.60px;height:0.90px;background:rgba(0,0,0,0.048);"></div>
<div style="position:absolute;left:284.40px;top:339.65px;width:515.60px;height:0.90px;background:rgba(0,0,0,0.048);"></div>
<div style="position:absolute;left:284.40px;top:370.00px;width:515.60px;height:0.90px;background:rgba(0,0,0,0.048);"></div>
<div style="position:absolute;left:284.40px;top:400.35px;width:515.60px;height:0.90px;background:rgba(0,0,0,0.048);"></div>
<div style="position:absolute;left:284.40px;top:430.70px;width:515.60px;height:0.90px;background:rgba(0,0,0,0.048);"></div>
<div style="position:absolute;left:284.40px;top:461.05px;width:515.60px;height:0.90px;background:rgba(0,0,0,0.048);"></div>
<div style="position:absolute;left:284.40px;top:491.40px;width:515.60px;height:0.90px;background:rgba(0,0,0,0.048);"></div>
<div style="position:absolute;left:284.40px;top:521.75px;width:515.60px;height:0.90px;background:rgba(0,0,0,0.048);"></div>
<div style="position:absolute;left:321.08px;top:140.54px;font-size:5.5px;line-height:6.32px;color:#2a2a2a;white-space:nowrap;transform:scaleX(0.8400);transform-origin:0 50%;">Pn</div>
<div style="position:absolute;left:339.71px;top:140.54px;font-size:5.5px;line-height:6.32px;color:#2a2a2a;white-space:nowrap;transform:scaleX(0.8400);transform-origin:0 50%;">Wt</div>
<div style="position:absolute;left:358.84px;top:140.54px;font-size:5.5px;line-height:6.32px;color:#2a2a2a;white-space:nowrap;transform:scaleX(0.8400);transform-origin:0 50%;">Śr</div>
<div style="position:absolute;left:376.95px;top:140.54px;font-size:5.5px;line-height:6.32px;color:#2a2a2a;white-space:nowrap;transform:scaleX(0.8400);transform-origin:0 50%;">Cz</div>
<div style="position:absolute;left:396.21px;top:140.54px;font-size:5.5px;line-height:6.32px;color:#2a2a2a;white-space:nowrap;transform:scaleX(0.8400);transform-origin:0 50%;">Pt</div>
<div style="position:absolute;left:407.50px;top:128.00px;width:18.62px;height:30.00px;background:rgba(0,0,0,0.058);"></div>
<div style="position:absolute;left:414.18px;top:140.54px;font-size:5.5px;line-height:6.32px;color:#2a2a2a;white-space:nowrap;transform:scaleX(0.8400);transform-origin:0 50%;">Sb</div>
<div style="position:absolute;left:426.12px;top:128.00px;width:18.62px;height:30.00px;background:rgba(0,0,0,0.058);"></div>
<div style="position:absolute;left:432.68px;top:140.54px;font-size:5.5px;line-height:6.32px;color:#2a2a2a;white-space:nowrap;transform:scaleX(0.8400);transform-origin:0 50%;">Nd</div>
<div style="position:absolute;left:451.42px;top:140.54px;font-size:5.5px;line-height:6.32px;color:#2a2a2a;white-space:nowrap;transform:scaleX(0.8400);transform-origin:0 50%;">Pn</div>
<div style="position:absolute;left:470.05px;top:140.54px;font-size:5.5px;line-height:6.32px;color:#2a2a2a;white-space:nowrap;transform:scaleX(0.8400);transform-origin:0 50%;">Wt</div>
<div style="position:absolute;left:489.18px;top:140.54px;font-size:5.5px;line-height:6.32px;color:#2a2a2a;white-space:nowrap;transform:scaleX(0.8400);transform-origin:0 50%;">Śr</div>
<div style="position:absolute;left:507.29px;top:140.54px;font-size:5.5px;line-height:6.32px;color:#2a2a2a;white-space:nowrap;transform:scaleX(0.8400);transform-origin:0 50%;">Cz</div>
<div style="position:absolute;left:526.55px;top:140.54px;font-size:5.5px;line-height:6.32px;color:#2a2a2a;white-space:nowrap;transform:scaleX(0.8400);transform-origin:0 50%;">Pt</div>
<div style="position:absolute;left:537.84px;top:128.00px;width:18.62px;height:30.00px;background:rgba(0,0,0,0.058);"></div>
<div style="position:absolute;left:544.52px;top:140.54px;font-size:5.5px;line-height:6.32px;color:#2a2a2a;white-space:nowrap;transform:scaleX(0.8400);transform-origin:0 50%;">Sb</div>
<div style="position:absolute;left:556.46px;top:128.00px;width:18.62px;height:30.00px;background:rgba(0,0,0,0.058);"></div>
<div style="position:absolute;left:563.02px;top:140.54px;font-size:5.5px;line-height:6.32px;color:#2a2a2a;white-space:nowrap;transform:scaleX(0.8400);transform-origin:0 50%;">Nd</div>
<div style="position:absolute;left:581.76px;top:140.54px;font-size:5.5px;line-height:6.32px;color:#2a2a2a;white-space:nowrap;transform:scaleX(0.8400);transform-origin:0 50%;">Pn</div>
<div style="position:absolute;left:600.39px;top:140.54px;font-size:5.5px;line-height:6.32px;color:#2a2a2a;white-space:nowrap;transform:scaleX(0.8400);transform-origin:0 50%;">Wt</div>
<div style="position:absolute;left:619.52px;top:140.54px;font-size:5.5px;line-height:6.32px;color:#2a2a2a;white-space:nowrap;transform:scaleX(0.8400);transform-origin:0 50%;">Śr</div>
<div style="position:absolute;left:637.63px;top:140.54px;font-size:5.5px;line-height:6.32px;color:#2a2a2a;white-space:nowrap;transform:scaleX(0.8400);transform-origin:0 50%;">Cz</div>
<div style="position:absolute;left:656.89px;top:140.54px;font-size:5.5px;line-height:6.32px;color:#2a2a2a;white-space:nowrap;transform:scaleX(0.8400);transform-origin:0 50%;">Pt</div>
<div style="position:absolute;left:668.18px;top:128.00px;width:18.62px;height:30.00px;background:rgba(0,0,0,0.058);"></div>
<div style="position:absolute;left:674.86px;top:140.54px;font-size:5.5px;line-height:6.32px;color:#2a2a2a;white-space:nowrap;transform:scaleX(0.8400);transform-origin:0 50%;">Sb</div>
<div style="position:absolute;left:686.80px;top:128.00px;width:18.62px;height:30.00px;background:rgba(0,0,0,0.058);"></div>
<div style="position:absolute;left:693.36px;top:140.54px;font-size:5.5px;line-height:6.32px;color:#2a2a2a;white-space:nowrap;transform:scaleX(0.8400);transform-origin:0 50%;">Nd</div>
<div style="position:absolute;left:712.10px;top:140.54px;font-size:5.5px;line-height:6.32px;color:#2a2a2a;white-space:nowrap;transform:scaleX(0.8400);transform-origin:0 50%;">Pn</div>
<div style="position:absolute;left:730.73px;top:140.54px;font-size:5.5px;line-height:6.32px;color:#2a2a2a;white-space:nowrap;transform:scaleX(0.8400);transform-origin:0 50%;">Wt</div>
<div style="position:absolute;left:749.86px;top:140.54px;font-size:5.5px;line-height:6.32px;color:#2a2a2a;white-space:nowrap;transform:scaleX(0.8400);transform-origin:0 50%;">Śr</div>
<div style="position:absolute;left:767.97px;top:140.54px;font-size:5.5px;line-height:6.32px;color:#2a2a2a;white-space:nowrap;transform:scaleX(0.8400);transform-origin:0 50%;">Cz</div>
<div style="position:absolute;left:787.23px;top:140.54px;font-size:5.5px;line-height:6.32px;color:#2a2a2a;white-space:nowrap;transform:scaleX(0.8400);transform-origin:0 50%;">Pt</div>
<div style="position:absolute;left:798.52px;top:128.00px;width:18.62px;height:30.00px;background:rgba(0,0,0,0.058);"></div>
<div style="position:absolute;left:805.20px;top:140.54px;font-size:5.5px;line-height:6.32px;color:#2a2a2a;white-space:nowrap;transform:scaleX(0.8400);transform-origin:0 50%;">Sb</div>
<div style="position:absolute;left:291.70px;top:169.66px;font-size:6.5px;line-height:7.47px;color:#2a2a2a;white-space:nowrap;transform:scaleX(0.8300);transform-origin:0 50%;">Sty</div>
<div style="position:absolute;left:407.50px;top:158.00px;width:18.62px;height:30.35px;background:rgba(0,0,0,0.058);"></div>
<div style="position:absolute;left:415.61px;top:170.22px;font-size:5.7px;line-height:6.55px;color:#f43b2a;white-space:nowrap;transform:scaleX(0.8849);transform-origin:0 50%;">1</div>
<div style="position:absolute;left:426.12px;top:158.00px;width:18.62px;height:30.35px;background:rgba(0,0,0,0.058);"></div>
<div style="position:absolute;left:434.23px;top:170.22px;font-size:5.7px;line-height:6.55px;color:#f43b2a;white-space:nowrap;transform:scaleX(0.8849);transform-origin:0 50%;">2</div>
<div style="position:absolute;left:452.85px;top:170.22px;font-size:5.7px;line-height:6.55px;color:#2a2a2a;white-space:nowrap;transform:scaleX(0.8849);transform-origin:0 50%;">3</div>
<div style="position:absolute;left:471.47px;top:170.22px;font-size:5.7px;line-height:6.55px;color:#2a2a2a;white-space:nowrap;transform:scaleX(0.8849);transform-origin:0 50%;">4</div>
<div style="position:absolute;left:490.09px;top:170.22px;font-size:5.7px;line-height:6.55px;color:#2a2a2a;white-space:nowrap;transform:scaleX(0.8849);transform-origin:0 50%;">5</div>
<div style="position:absolute;left:508.71px;top:170.22px;font-size:5.7px;line-height:6.55px;color:#f43b2a;white-space:nowrap;transform:scaleX(0.8849);transform-origin:0 50%;">6</div>
<div style="position:absolute;left:527.33px;top:170.22px;font-size:5.7px;line-height:6.55px;color:#2a2a2a;white-space:nowrap;transform:scaleX(0.8849);transform-origin:0 50%;">7</div>
<div style="position:absolute;left:537.84px;top:158.00px;width:18.62px;height:30.35px;background:rgba(0,0,0,0.058);"></div>
<div style="position:absolute;left:545.95px;top:170.22px;font-size:5.7px;line-height:6.55px;color:#2a2a2a;white-space:nowrap;transform:scaleX(0.8849);transform-origin:0 50%;">8</div>
<div style="position:absolute;left:556.46px;top:158.00px;width:18.62px;height:30.35px;background:rgba(0,0,0,0.058);"></div>
<div style="position:absolute;left:564.57px;top:170.22px;font-size:5.7px;line-height:6.55px;color:#f43b2a;white-space:nowrap;transform:scaleX(0.8849);transform-origin:0 50%;">9</div>
<div style="position:absolute;left:581.78px;top:170.22px;font-size:5.7px;line-height:6.55px;color:#2a2a2a;white-space:nowrap;transform:scaleX(0.8849);transform-origin:0 50%;">10</div>
<div style="position:absolute;left:600.59px;top:170.22px;font-size:5.7px;line-height:6.55px;color:#2a2a2a;white-space:nowrap;transform:scaleX(0.8849);transform-origin:0 50%;">11</div>
<div style="position:absolute;left:619.02px;top:170.22px;font-size:5.7px;line-height:6.55px;color:#2a2a2a;white-space:nowrap;transform:scaleX(0.8849);transform-origin:0 50%;">12</div>
<div style="position:absolute;left:637.64px;top:170.22px;font-size:5.7px;line-height:6.55px;color:#2a2a2a;white-space:nowrap;transform:scaleX(0.8849);transform-origin:0 50%;">13</div>
<div style="position:absolute;left:656.26px;top:170.22px;font-size:5.7px;line-height:6.55px;color:#2a2a2a;white-space:nowrap;transform:scaleX(0.8849);transform-origin:0 50%;">14</div>
<div style="position:absolute;left:668.18px;top:158.00px;width:18.62px;height:30.35px;background:rgba(0,0,0,0.058);"></div>
<div style="position:absolute;left:674.88px;top:170.22px;font-size:5.7px;line-height:6.55px;color:#2a2a2a;white-space:nowrap;transform:scaleX(0.8849);transform-origin:0 50%;">15</div>
<div style="position:absolute;left:686.80px;top:158.00px;width:18.62px;height:30.35px;background:rgba(0,0,0,0.058);"></div>
<div style="position:absolute;left:693.50px;top:170.22px;font-size:5.7px;line-height:6.55px;color:#f43b2a;white-space:nowrap;transform:scaleX(0.8849);transform-origin:0 50%;">16</div>
<div style="position:absolute;left:712.12px;top:170.22px;font-size:5.7px;line-height:6.55px;color:#2a2a2a;white-space:nowrap;transform:scaleX(0.8849);transform-origin:0 50%;">17</div>
<div style="position:absolute;left:730.74px;top:170.22px;font-size:5.7px;line-height:6.55px;color:#2a2a2a;white-space:nowrap;transform:scaleX(0.8849);transform-origin:0 50%;">18</div>
<div style="position:absolute;left:749.36px;top:170.22px;font-size:5.7px;line-height:6.55px;color:#2a2a2a;white-space:nowrap;transform:scaleX(0.8849);transform-origin:0 50%;">19</div>
<div style="position:absolute;left:767.98px;top:170.22px;font-size:5.7px;line-height:6.55px;color:#2a2a2a;white-space:nowrap;transform:scaleX(0.8849);transform-origin:0 50%;">20</div>
<div style="position:absolute;left:786.60px;top:170.22px;font-size:5.7px;line-height:6.55px;color:#2a2a2a;white-space:nowrap;transform:scaleX(0.8849);transform-origin:0 50%;">21</div>
<div style="position:absolute;left:798.52px;top:158.00px;width:18.62px;height:30.35px;background:rgba(0,0,0,0.058);"></div>
<div style="position:absolute;left:805.22px;top:170.22px;font-size:5.7px;line-height:6.55px;color:#2a2a2a;white-space:nowrap;transform:scaleX(0.8849);transform-origin:0 50%;">22</div>
<div style="position:absolute;left:291.70px;top:200.01px;font-size:6.5px;line-height:7.47px;color:#2a2a2a;white-space:nowrap;transform:scaleX(0.8300);transform-origin:0 50%;">Lut</div>
<div style="position:absolute;left:341.13px;top:200.57px;font-size:5.7px;line-height:6.55px;color:#2a2a2a;white-space:nowrap;transform:scaleX(0.8849);transform-origin:0 50%;">1</div>
<div style="position:absolute;left:359.75px;top:200.57px;font-size:5.7px;line-height:6.55px;color:#2a2a2a;white-space:nowrap;transform:scaleX(0.8849);transform-origin:0 50%;">2</div>
<div style="position:absolute;left:378.37px;top:200.57px;font-size:5.7px;line-height:6.55px;color:#2a2a2a;white-space:nowrap;transform:scaleX(0.8849);transform-origin:0 50%;">3</div>
<div style="position:absolute;left:396.99px;top:200.57px;font-size:5.7px;line-height:6.55px;color:#2a2a2a;white-space:nowrap;transform:scaleX(0.8849);transform-origin:0 50%;">4</div>
<div style="position:absolute;left:407.50px;top:188.35px;width:18.62px;height:30.35px;background:rgba(0,0,0,0.058);"></div>
<div style="position:absolute;left:415.61px;top:200.57px;font-size:5.7px;line-height:6.55px;color:#2a2a2a;white-space:nowrap;transform:scaleX(0.8849);transform-origin:0 50%;">5</div>
<div style="position:absolute;left:426.12px;top:188.35px;width:18.62px;height:30.35px;background:rgba(0,0,0,0.058);"></div>
<div style="position:absolute;left:434.23px;top:200.57px;font-size:5.7px;line-height:6.55px;color:#f43b2a;white-space:nowrap;transform:scaleX(0.8849);transform-origin:0 50%;">6</div>
<div style="position:absolute;left:452.85px;top:200.57px;font-size:5.7px;line-height:6.55px;color:#2a2a2a;white-space:nowrap;transform:scaleX(0.8849);transform-origin:0 50%;">7</div>
<div style="position:absolute;left:471.47px;top:200.57px;font-size:5.7px;line-height:6.55px;color:#2a2a2a;white-space:nowrap;transform:scaleX(0.8849);transform-origin:0 50%;">8</div>
<div style="position:absolute;left:490.09px;top:200.57px;font-size:5.7px;line-height:6.55px;color:#2a2a2a;white-space:nowrap;transform:scaleX(0.8849);transform-origin:0 50%;">9</div>
<div style="position:absolute;left:507.30px;top:200.57px;font-size:5.7px;line-height:6.55px;color:#2a2a2a;white-space:nowrap;transform:scaleX(0.8849);transform-origin:0 50%;">10</div>
<div style="position:absolute;left:526.11px;top:200.57px;font-size:5.7px;line-height:6.55px;color:#2a2a2a;white-space:nowrap;transform:scaleX(0.8849);transform-origin:0 50%;">11</div>
<div style="position:absolute;left:537.84px;top:188.35px;width:18.62px;height:30.35px;background:rgba(0,0,0,0.058);"></div>
<div style="position:absolute;left:544.54px;top:200.57px;font-size:5.7px;line-height:6.55px;color:#2a2a2a;white-space:nowrap;transform:scaleX(0.8849);transform-origin:0 50%;">12</div>
<div style="position:absolute;left:556.46px;top:188.35px;width:18.62px;height:30.35px;background:rgba(0,0,0,0.058);"></div>
<div style="position:absolute;left:563.16px;top:200.57px;font-size:5.7px;line-height:6.55px;color:#f43b2a;white-space:nowrap;transform:scaleX(0.8849);transform-origin:0 50%;">13</div>
<div style="position:absolute;left:581.78px;top:200.57px;font-size:5.7px;line-height:6.55px;color:#2a2a2a;white-space:nowrap;transform:scaleX(0.8849);transform-origin:0 50%;">14</div>
<div style="position:absolute;left:600.40px;top:200.57px;font-size:5.7px;line-height:6.55px;color:#2a2a2a;white-space:nowrap;transform:scaleX(0.8849);transform-origin:0 50%;">15</div>
<div style="position:absolute;left:619.02px;top:200.57px;font-size:5.7px;line-height:6.55px;color:#2a2a2a;white-space:nowrap;transform:scaleX(0.8849);transform-origin:0 50%;">16</div>
<div style="position:absolute;left:637.64px;top:200.57px;font-size:5.7px;line-height:6.55px;color:#2a2a2a;white-space:nowrap;transform:scaleX(0.8849);transform-origin:0 50%;">17</div>
<div style="position:absolute;left:656.26px;top:200.57px;font-size:5.7px;line-height:6.55px;color:#2a2a2a;white-space:nowrap;transform:scaleX(0.8849);transform-origin:0 50%;">18</div>
<div style="position:absolute;left:668.18px;top:188.35px;width:18.62px;height:30.35px;background:rgba(0,0,0,0.058);"></div>
<div style="position:absolute;left:674.88px;top:200.57px;font-size:5.7px;line-height:6.55px;color:#2a2a2a;white-space:nowrap;transform:scaleX(0.8849);transform-origin:0 50%;">19</div>
<div style="position:absolute;left:686.80px;top:188.35px;width:18.62px;height:30.35px;background:rgba(0,0,0,0.058);"></div>
<div style="position:absolute;left:693.50px;top:200.57px;font-size:5.7px;line-height:6.55px;color:#f43b2a;white-space:nowrap;transform:scaleX(0.8849);transform-origin:0 50%;">20</div>
<div style="position:absolute;left:712.12px;top:200.57px;font-size:5.7px;line-height:6.55px;color:#2a2a2a;white-space:nowrap;transform:scaleX(0.8849);transform-origin:0 50%;">21</div>
<div style="position:absolute;left:730.74px;top:200.57px;font-size:5.7px;line-height:6.55px;color:#2a2a2a;white-space:nowrap;transform:scaleX(0.8849);transform-origin:0 50%;">22</div>
<div style="position:absolute;left:749.36px;top:200.57px;font-size:5.7px;line-height:6.55px;color:#2a2a2a;white-space:nowrap;transform:scaleX(0.8849);transform-origin:0 50%;">23</div>
<div style="position:absolute;left:767.98px;top:200.57px;font-size:5.7px;line-height:6.55px;color:#2a2a2a;white-space:nowrap;transform:scaleX(0.8849);transform-origin:0 50%;">24</div>
<div style="position:absolute;left:786.60px;top:200.57px;font-size:5.7px;line-height:6.55px;color:#2a2a2a;white-space:nowrap;transform:scaleX(0.8849);transform-origin:0 50%;">25</div>
<div style="position:absolute;left:798.52px;top:188.35px;width:18.62px;height:30.35px;background:rgba(0,0,0,0.058);"></div>
<div style="position:absolute;left:805.22px;top:200.57px;font-size:5.7px;line-height:6.55px;color:#2a2a2a;white-space:nowrap;transform:scaleX(0.8849);transform-origin:0 50%;">26</div>
<div style="position:absolute;left:291.70px;top:230.36px;font-size:6.5px;line-height:7.47px;color:#2a2a2a;white-space:nowrap;transform:scaleX(0.8300);transform-origin:0 50%;">Mar</div>
<div style="position:absolute;left:341.13px;top:230.92px;font-size:5.7px;line-height:6.55px;color:#2a2a2a;white-space:nowrap;transform:scaleX(0.8849);transform-origin:0 50%;">1</div>
<div style="position:absolute;left:359.75px;top:230.92px;font-size:5.7px;line-height:6.55px;color:#2a2a2a;white-space:nowrap;transform:scaleX(0.8849);transform-origin:0 50%;">2</div>
<div style="position:absolute;left:378.37px;top:230.92px;font-size:5.7px;line-height:6.55px;color:#2a2a2a;white-space:nowrap;transform:scaleX(0.8849);transform-origin:0 50%;">3</div>
<div style="position:absolute;left:396.99px;top:230.92px;font-size:5.7px;line-height:6.55px;color:#2a2a2a;white-space:nowrap;transform:scaleX(0.8849);transform-origin:0 50%;">4</div>
<div style="position:absolute;left:407.50px;top:218.70px;width:18.62px;height:30.35px;background:rgba(0,0,0,0.058);"></div>
<div style="position:absolute;left:415.61px;top:230.92px;font-size:5.7px;line-height:6.55px;color:#2a2a2a;white-space:nowrap;transform:scaleX(0.8849);transform-origin:0 50%;">5</div>
<div style="position:absolute;left:426.12px;top:218.70px;width:18.62px;height:30.35px;background:rgba(0,0,0,0.058);"></div>
<div style="position:absolute;left:434.23px;top:230.92px;font-size:5.7px;line-height:6.55px;color:#f43b2a;white-space:nowrap;transform:scaleX(0.8849);transform-origin:0 50%;">6</div>
<div style="position:absolute;left:452.85px;top:224.62px;font-size:5.7px;line-height:6.55px;color:#2a2a2a;white-space:nowrap;transform:scaleX(0.8849);transform-origin:0 50%;">7</div>
<div style="position:absolute;left:452.60px;top:231.51px;font-size:5.2px;line-height:5.98px;color:#222;white-space:nowrap;transform:scaleX(0.9500);transform-origin:0 50%;">P</div>
<div style="position:absolute;left:448.64px;top:240.00px;width:11.80px;height:2.90px;background:#d9d9d9;"></div>
<div style="position:absolute;left:448.64px;top:240.00px;width:5.40px;height:2.90px;background:#3a9a3c;"></div>
<div style="position:absolute;left:458.54px;top:240.00px;width:1.90px;height:2.90px;background:#3a9a3c;"></div>
<div style="position:absolute;left:471.47px;top:224.62px;font-size:5.7px;line-height:6.55px;color:#2a2a2a;white-space:nowrap;transform:scaleX(0.8849);transform-origin:0 50%;">8</div>
<div style="position:absolute;left:471.22px;top:231.51px;font-size:5.2px;line-height:5.98px;color:#222;white-space:nowrap;transform:scaleX(0.9500);transform-origin:0 50%;">P</div>
<div style="position:absolute;left:467.26px;top:240.00px;width:11.80px;height:2.90px;background:#d9d9d9;"></div>
<div style="position:absolute;left:470.26px;top:240.00px;width:7.20px;height:2.90px;background:#3a9a3c;"></div>
<div style="position:absolute;left:490.09px;top:224.62px;font-size:5.7px;line-height:6.55px;color:#2a2a2a;white-space:nowrap;transform:scaleX(0.8849);transform-origin:0 50%;">9</div>
<div style="position:absolute;left:489.84px;top:231.51px;font-size:5.2px;line-height:5.98px;color:#222;white-space:nowrap;transform:scaleX(0.9500);transform-origin:0 50%;">P</div>
<div style="position:absolute;left:485.88px;top:240.00px;width:11.80px;height:2.90px;background:#d9d9d9;"></div>
<div style="position:absolute;left:485.88px;top:240.00px;width:5.40px;height:2.90px;background:#3a9a3c;"></div>
<div style="position:absolute;left:495.78px;top:240.00px;width:1.90px;height:2.90px;background:#3a9a3c;"></div>
<div style="position:absolute;left:507.30px;top:224.62px;font-size:5.7px;line-height:6.55px;color:#2a2a2a;white-space:nowrap;transform:scaleX(0.8849);transform-origin:0 50%;">10</div>
<div style="position:absolute;left:508.46px;top:231.51px;font-size:5.2px;line-height:5.98px;color:#222;white-space:nowrap;transform:scaleX(0.9500);transform-origin:0 50%;">P</div>
<div style="position:absolute;left:504.50px;top:240.00px;width:11.80px;height:2.90px;background:#d9d9d9;"></div>
<div style="position:absolute;left:507.50px;top:240.00px;width:7.20px;height:2.90px;background:#3a9a3c;"></div>
<div style="position:absolute;left:526.11px;top:224.62px;font-size:5.7px;line-height:6.55px;color:#2a2a2a;white-space:nowrap;transform:scaleX(0.8849);transform-origin:0 50%;">11</div>
<div style="position:absolute;left:527.08px;top:231.51px;font-size:5.2px;line-height:5.98px;color:#222;white-space:nowrap;transform:scaleX(0.9500);transform-origin:0 50%;">P</div>
<div style="position:absolute;left:523.12px;top:240.00px;width:11.80px;height:2.90px;background:#d9d9d9;"></div>
<div style="position:absolute;left:523.12px;top:240.00px;width:5.40px;height:2.90px;background:#3a9a3c;"></div>
<div style="position:absolute;left:533.02px;top:240.00px;width:1.90px;height:2.90px;background:#3a9a3c;"></div>
<div style="position:absolute;left:537.84px;top:218.70px;width:18.62px;height:30.35px;background:#c8dce8;"></div>
<div style="position:absolute;left:544.54px;top:227.62px;font-size:5.7px;line-height:6.55px;color:#2a2a2a;white-space:nowrap;transform:scaleX(0.8849);transform-origin:0 50%;">12</div>
<div style="position:absolute;left:545.02px;top:234.71px;font-size:5.2px;line-height:5.98px;color:#222;white-space:nowrap;transform:scaleX(0.9500);transform-origin:0 50%;">W</div>
<div style="position:absolute;left:556.46px;top:218.70px;width:18.62px;height:30.35px;background:#c8dce8;"></div>
<div style="position:absolute;left:563.16px;top:227.62px;font-size:5.7px;line-height:6.55px;color:#f43b2a;white-space:nowrap;transform:scaleX(0.8849);transform-origin:0 50%;">13</div>
<div style="position:absolute;left:563.64px;top:234.71px;font-size:5.2px;line-height:5.98px;color:#222;white-space:nowrap;transform:scaleX(0.9500);transform-origin:0 50%;">W</div>
<div style="position:absolute;left:581.78px;top:224.62px;font-size:5.7px;line-height:6.55px;color:#2a2a2a;white-space:nowrap;transform:scaleX(0.8849);transform-origin:0 50%;">14</div>
<div style="position:absolute;left:582.94px;top:231.51px;font-size:5.2px;line-height:5.98px;color:#222;white-space:nowrap;transform:scaleX(0.9500);transform-origin:0 50%;">P</div>
<div style="position:absolute;left:578.98px;top:240.00px;width:11.80px;height:2.90px;background:#d9d9d9;"></div>
<div style="position:absolute;left:578.98px;top:240.00px;width:5.40px;height:2.90px;background:#3a9a3c;"></div>
<div style="position:absolute;left:588.88px;top:240.00px;width:1.90px;height:2.90px;background:#3a9a3c;"></div>
<div style="position:absolute;left:600.40px;top:224.62px;font-size:5.7px;line-height:6.55px;color:#2a2a2a;white-space:nowrap;transform:scaleX(0.8849);transform-origin:0 50%;">15</div>
<div style="position:absolute;left:601.56px;top:231.51px;font-size:5.2px;line-height:5.98px;color:#222;white-space:nowrap;transform:scaleX(0.9500);transform-origin:0 50%;">P</div>
<div style="position:absolute;left:597.60px;top:240.00px;width:11.80px;height:2.90px;background:#d9d9d9;"></div>
<div style="position:absolute;left:597.60px;top:240.00px;width:5.40px;height:2.90px;background:#3a9a3c;"></div>
<div style="position:absolute;left:607.50px;top:240.00px;width:1.90px;height:2.90px;background:#3a9a3c;"></div>
<div style="position:absolute;left:618.50px;top:227.08px;font-size:6.3px;line-height:7.24px;color:#f43b2a;white-space:nowrap;font-weight:bold;transform:scaleX(0.9500);transform-origin:0 50%;">16</div>
<div style="position:absolute;left:619.50px;top:235.01px;font-size:5.2px;line-height:5.98px;color:#222;white-space:nowrap;transform:scaleX(0.9500);transform-origin:0 50%;">W</div>
<div style="position:absolute;left:637.64px;top:224.62px;font-size:5.7px;line-height:6.55px;color:#2a2a2a;white-space:nowrap;transform:scaleX(0.8849);transform-origin:0 50%;">17</div>
<div style="position:absolute;left:638.80px;top:231.51px;font-size:5.2px;line-height:5.98px;color:#222;white-space:nowrap;transform:scaleX(0.9500);transform-origin:0 50%;">P</div>
<div style="position:absolute;left:634.84px;top:240.00px;width:11.80px;height:2.90px;background:#d9d9d9;"></div>
<div style="position:absolute;left:637.84px;top:240.00px;width:7.20px;height:2.90px;background:#3a9a3c;"></div>
<div style="position:absolute;left:656.26px;top:224.62px;font-size:5.7px;line-height:6.55px;color:#2a2a2a;white-space:nowrap;transform:scaleX(0.8849);transform-origin:0 50%;">18</div>
<div style="position:absolute;left:657.42px;top:231.51px;font-size:5.2px;line-height:5.98px;color:#222;white-space:nowrap;transform:scaleX(0.9500);transform-origin:0 50%;">P</div>
<div style="position:absolute;left:653.46px;top:240.00px;width:11.80px;height:2.90px;background:#d9d9d9;"></div>
<div style="position:absolute;left:653.46px;top:240.00px;width:5.40px;height:2.90px;background:#3a9a3c;"></div>
<div style="position:absolute;left:663.36px;top:240.00px;width:1.90px;height:2.90px;background:#3a9a3c;"></div>
<div style="position:absolute;left:668.18px;top:218.70px;width:18.62px;height:30.35px;background:#c8dce8;"></div>
<div style="position:absolute;left:674.88px;top:227.62px;font-size:5.7px;line-height:6.55px;color:#2a2a2a;white-space:nowrap;transform:scaleX(0.8849);transform-origin:0 50%;">19</div>
<div style="position:absolute;left:675.36px;top:234.71px;font-size:5.2px;line-height:5.98px;color:#222;white-space:nowrap;transform:scaleX(0.9500);transform-origin:0 50%;">W</div>
<div style="position:absolute;left:686.80px;top:218.70px;width:18.62px;height:30.35px;background:#c8dce8;"></div>
<div style="position:absolute;left:693.50px;top:227.62px;font-size:5.7px;line-height:6.55px;color:#f43b2a;white-space:nowrap;transform:scaleX(0.8849);transform-origin:0 50%;">20</div>
<div style="position:absolute;left:693.98px;top:234.71px;font-size:5.2px;line-height:5.98px;color:#222;white-space:nowrap;transform:scaleX(0.9500);transform-origin:0 50%;">W</div>
<div style="position:absolute;left:712.12px;top:224.62px;font-size:5.7px;line-height:6.55px;color:#2a2a2a;white-space:nowrap;transform:scaleX(0.8849);transform-origin:0 50%;">21</div>
<div style="position:absolute;left:713.28px;top:231.51px;font-size:5.2px;line-height:5.98px;color:#222;white-space:nowrap;transform:scaleX(0.9500);transform-origin:0 50%;">P</div>
<div style="position:absolute;left:709.32px;top:240.00px;width:11.80px;height:2.90px;background:#d9d9d9;"></div>
<div style="position:absolute;left:709.32px;top:240.00px;width:5.40px;height:2.90px;background:#3a9a3c;"></div>
<div style="position:absolute;left:719.22px;top:240.00px;width:1.90px;height:2.90px;background:#3a9a3c;"></div>
<div style="position:absolute;left:730.74px;top:224.62px;font-size:5.7px;line-height:6.55px;color:#2a2a2a;white-space:nowrap;transform:scaleX(0.8849);transform-origin:0 50%;">22</div>
<div style="position:absolute;left:731.90px;top:231.51px;font-size:5.2px;line-height:5.98px;color:#222;white-space:nowrap;transform:scaleX(0.9500);transform-origin:0 50%;">P</div>
<div style="position:absolute;left:727.94px;top:240.00px;width:11.80px;height:2.90px;background:#d9d9d9;"></div>
<div style="position:absolute;left:727.94px;top:240.00px;width:5.40px;height:2.90px;background:#3a9a3c;"></div>
<div style="position:absolute;left:737.84px;top:240.00px;width:1.90px;height:2.90px;background:#3a9a3c;"></div>
<div style="position:absolute;left:749.36px;top:224.62px;font-size:5.7px;line-height:6.55px;color:#2a2a2a;white-space:nowrap;transform:scaleX(0.8849);transform-origin:0 50%;">23</div>
<div style="position:absolute;left:750.52px;top:231.51px;font-size:5.2px;line-height:5.98px;color:#222;white-space:nowrap;transform:scaleX(0.9500);transform-origin:0 50%;">P</div>
<div style="position:absolute;left:746.56px;top:240.00px;width:11.80px;height:2.90px;background:#d9d9d9;"></div>
<div style="position:absolute;left:749.56px;top:240.00px;width:7.20px;height:2.90px;background:#3a9a3c;"></div>
<div style="position:absolute;left:767.98px;top:224.62px;font-size:5.7px;line-height:6.55px;color:#2a2a2a;white-space:nowrap;transform:scaleX(0.8849);transform-origin:0 50%;">24</div>
<div style="position:absolute;left:769.14px;top:231.51px;font-size:5.2px;line-height:5.98px;color:#222;white-space:nowrap;transform:scaleX(0.9500);transform-origin:0 50%;">P</div>
<div style="position:absolute;left:765.18px;top:240.00px;width:11.80px;height:2.90px;background:#d9d9d9;"></div>
<div style="position:absolute;left:765.18px;top:240.00px;width:5.40px;height:2.90px;background:#3a9a3c;"></div>
<div style="position:absolute;left:775.08px;top:240.00px;width:1.90px;height:2.90px;background:#3a9a3c;"></div>
<div style="position:absolute;left:786.60px;top:224.62px;font-size:5.7px;line-height:6.55px;color:#2a2a2a;white-space:nowrap;transform:scaleX(0.8849);transform-origin:0 50%;">25</div>
<div style="position:absolute;left:787.76px;top:231.51px;font-size:5.2px;line-height:5.98px;color:#222;white-space:nowrap;transform:scaleX(0.9500);transform-origin:0 50%;">P</div>
<div style="position:absolute;left:783.80px;top:240.00px;width:11.80px;height:2.90px;background:#d9d9d9;"></div>
<div style="position:absolute;left:790.40px;top:240.00px;width:5.20px;height:2.90px;background:#f5382a;"></div>
<div style="position:absolute;left:798.52px;top:218.70px;width:18.62px;height:30.35px;background:#c8dce8;"></div>
<div style="position:absolute;left:805.22px;top:227.62px;font-size:5.7px;line-height:6.55px;color:#2a2a2a;white-space:nowrap;transform:scaleX(0.8849);transform-origin:0 50%;">26</div>
<div style="position:absolute;left:805.70px;top:234.71px;font-size:5.2px;line-height:5.98px;color:#222;white-space:nowrap;transform:scaleX(0.9500);transform-origin:0 50%;">W</div>
<div style="position:absolute;left:291.70px;top:260.71px;font-size:6.5px;line-height:7.47px;color:#2a2a2a;white-space:nowrap;transform:scaleX(0.8300);transform-origin:0 50%;">Kwi</div>
<div style="position:absolute;left:396.99px;top:254.97px;font-size:5.7px;line-height:6.55px;color:#2a2a2a;white-space:nowrap;transform:scaleX(0.8849);transform-origin:0 50%;">1</div>
<div style="position:absolute;left:396.74px;top:261.86px;font-size:5.2px;line-height:5.98px;color:#222;white-space:nowrap;transform:scaleX(0.9500);transform-origin:0 50%;">P</div>
<div style="position:absolute;left:392.78px;top:270.35px;width:11.80px;height:2.90px;background:#d9d9d9;"></div>
<div style="position:absolute;left:392.78px;top:270.35px;width:5.40px;height:2.90px;background:#3a9a3c;"></div>
<div style="position:absolute;left:402.68px;top:270.35px;width:1.90px;height:2.90px;background:#3a9a3c;"></div>
<div style="position:absolute;left:407.50px;top:249.05px;width:18.62px;height:30.35px;background:#c8dce8;"></div>
<div style="position:absolute;left:415.61px;top:257.97px;font-size:5.7px;line-height:6.55px;color:#2a2a2a;white-space:nowrap;transform:scaleX(0.8849);transform-origin:0 50%;">2</div>
<div style="position:absolute;left:414.68px;top:265.06px;font-size:5.2px;line-height:5.98px;color:#222;white-space:nowrap;transform:scaleX(0.9500);transform-origin:0 50%;">W</div>
<div style="position:absolute;left:426.12px;top:249.05px;width:18.62px;height:30.35px;background:#c8dce8;"></div>
<div style="position:absolute;left:434.23px;top:257.97px;font-size:5.7px;line-height:6.55px;color:#f43b2a;white-space:nowrap;transform:scaleX(0.8849);transform-origin:0 50%;">3</div>
<div style="position:absolute;left:433.30px;top:265.06px;font-size:5.2px;line-height:5.98px;color:#222;white-space:nowrap;transform:scaleX(0.9500);transform-origin:0 50%;">W</div>
<div style="position:absolute;left:452.85px;top:254.97px;font-size:5.7px;line-height:6.55px;color:#2a2a2a;white-space:nowrap;transform:scaleX(0.8849);transform-origin:0 50%;">4</div>
<div style="position:absolute;left:452.60px;top:261.86px;font-size:5.2px;line-height:5.98px;color:#222;white-space:nowrap;transform:scaleX(0.9500);transform-origin:0 50%;">P</div>
<div style="position:absolute;left:448.64px;top:270.35px;width:11.80px;height:2.90px;background:#d9d9d9;"></div>
<div style="position:absolute;left:448.64px;top:270.35px;width:5.40px;height:2.90px;background:#3a9a3c;"></div>
<div style="position:absolute;left:458.54px;top:270.35px;width:1.90px;height:2.90px;background:#3a9a3c;"></div>
<div style="position:absolute;left:471.47px;top:254.97px;font-size:5.7px;line-height:6.55px;color:#2a2a2a;white-space:nowrap;transform:scaleX(0.8849);transform-origin:0 50%;">5</div>
<div style="position:absolute;left:471.22px;top:261.86px;font-size:5.2px;line-height:5.98px;color:#222;white-space:nowrap;transform:scaleX(0.9500);transform-origin:0 50%;">P</div>
<div style="position:absolute;left:467.26px;top:270.35px;width:11.80px;height:2.90px;background:#d9d9d9;"></div>
<div style="position:absolute;left:467.26px;top:270.35px;width:5.40px;height:2.90px;background:#3a9a3c;"></div>
<div style="position:absolute;left:477.16px;top:270.35px;width:1.90px;height:2.90px;background:#3a9a3c;"></div>
<div style="position:absolute;left:490.09px;top:254.97px;font-size:5.7px;line-height:6.55px;color:#2a2a2a;white-space:nowrap;transform:scaleX(0.8849);transform-origin:0 50%;">6</div>
<div style="position:absolute;left:489.84px;top:261.86px;font-size:5.2px;line-height:5.98px;color:#222;white-space:nowrap;transform:scaleX(0.9500);transform-origin:0 50%;">P</div>
<div style="position:absolute;left:485.88px;top:270.35px;width:11.80px;height:2.90px;background:#d9d9d9;"></div>
<div style="position:absolute;left:485.88px;top:270.35px;width:5.40px;height:2.90px;background:#3a9a3c;"></div>
<div style="position:absolute;left:495.78px;top:270.35px;width:1.90px;height:2.90px;background:#3a9a3c;"></div>
<div style="position:absolute;left:508.71px;top:254.97px;font-size:5.7px;line-height:6.55px;color:#2a2a2a;white-space:nowrap;transform:scaleX(0.8849);transform-origin:0 50%;">7</div>
<div style="position:absolute;left:508.46px;top:261.86px;font-size:5.2px;line-height:5.98px;color:#222;white-space:nowrap;transform:scaleX(0.9500);transform-origin:0 50%;">P</div>
<div style="position:absolute;left:504.50px;top:270.35px;width:11.80px;height:2.90px;background:#d9d9d9;"></div>
<div style="position:absolute;left:504.50px;top:270.35px;width:5.40px;height:2.90px;background:#3a9a3c;"></div>
<div style="position:absolute;left:514.40px;top:270.35px;width:1.90px;height:2.90px;background:#3a9a3c;"></div>
<div style="position:absolute;left:527.33px;top:254.97px;font-size:5.7px;line-height:6.55px;color:#2a2a2a;white-space:nowrap;transform:scaleX(0.8849);transform-origin:0 50%;">8</div>
<div style="position:absolute;left:527.08px;top:261.86px;font-size:5.2px;line-height:5.98px;color:#222;white-space:nowrap;transform:scaleX(0.9500);transform-origin:0 50%;">P</div>
<div style="position:absolute;left:523.12px;top:270.35px;width:11.80px;height:2.90px;background:#d9d9d9;"></div>
<div style="position:absolute;left:523.12px;top:270.35px;width:5.40px;height:2.90px;background:#3a9a3c;"></div>
<div style="position:absolute;left:533.02px;top:270.35px;width:1.90px;height:2.90px;background:#3a9a3c;"></div>
<div style="position:absolute;left:537.84px;top:249.05px;width:18.62px;height:30.35px;background:#c8dce8;"></div>
<div style="position:absolute;left:545.95px;top:257.97px;font-size:5.7px;line-height:6.55px;color:#2a2a2a;white-space:nowrap;transform:scaleX(0.8849);transform-origin:0 50%;">9</div>
<div style="position:absolute;left:545.02px;top:265.06px;font-size:5.2px;line-height:5.98px;color:#222;white-space:nowrap;transform:scaleX(0.9500);transform-origin:0 50%;">W</div>
<div style="position:absolute;left:556.46px;top:249.05px;width:18.62px;height:30.35px;background:#c8dce8;"></div>
<div style="position:absolute;left:563.16px;top:257.97px;font-size:5.7px;line-height:6.55px;color:#f43b2a;white-space:nowrap;transform:scaleX(0.8849);transform-origin:0 50%;">10</div>
<div style="position:absolute;left:563.64px;top:265.06px;font-size:5.2px;line-height:5.98px;color:#222;white-space:nowrap;transform:scaleX(0.9500);transform-origin:0 50%;">W</div>
<div style="position:absolute;left:581.97px;top:254.97px;font-size:5.7px;line-height:6.55px;color:#2a2a2a;white-space:nowrap;transform:scaleX(0.8849);transform-origin:0 50%;">11</div>
<div style="position:absolute;left:582.94px;top:261.86px;font-size:5.2px;line-height:5.98px;color:#222;white-space:nowrap;transform:scaleX(0.9500);transform-origin:0 50%;">P</div>
<div style="position:absolute;left:578.98px;top:270.35px;width:11.80px;height:2.90px;background:#d9d9d9;"></div>
<div style="position:absolute;left:578.98px;top:270.35px;width:5.40px;height:2.90px;background:#3a9a3c;"></div>
<div style="position:absolute;left:588.88px;top:270.35px;width:1.90px;height:2.90px;background:#3a9a3c;"></div>
<div style="position:absolute;left:600.40px;top:254.97px;font-size:5.7px;line-height:6.55px;color:#2a2a2a;white-space:nowrap;transform:scaleX(0.8849);transform-origin:0 50%;">12</div>
<div style="position:absolute;left:601.56px;top:261.86px;font-size:5.2px;line-height:5.98px;color:#222;white-space:nowrap;transform:scaleX(0.9500);transform-origin:0 50%;">P</div>
<div style="position:absolute;left:597.60px;top:270.35px;width:11.80px;height:2.90px;background:#d9d9d9;"></div>
<div style="position:absolute;left:597.60px;top:270.35px;width:5.40px;height:2.90px;background:#3a9a3c;"></div>
<div style="position:absolute;left:607.50px;top:270.35px;width:1.90px;height:2.90px;background:#3a9a3c;"></div>
<div style="position:absolute;left:619.02px;top:254.97px;font-size:5.7px;line-height:6.55px;color:#2a2a2a;white-space:nowrap;transform:scaleX(0.8849);transform-origin:0 50%;">13</div>
<div style="position:absolute;left:620.18px;top:261.86px;font-size:5.2px;line-height:5.98px;color:#222;white-space:nowrap;transform:scaleX(0.9500);transform-origin:0 50%;">P</div>
<div style="position:absolute;left:616.22px;top:270.35px;width:11.80px;height:2.90px;background:#d9d9d9;"></div>
<div style="position:absolute;left:616.22px;top:270.35px;width:5.40px;height:2.90px;background:#3a9a3c;"></div>
<div style="position:absolute;left:626.12px;top:270.35px;width:1.90px;height:2.90px;background:#3a9a3c;"></div>
<div style="position:absolute;left:637.64px;top:254.97px;font-size:5.7px;line-height:6.55px;color:#2a2a2a;white-space:nowrap;transform:scaleX(0.8849);transform-origin:0 50%;">14</div>
<div style="position:absolute;left:638.80px;top:261.86px;font-size:5.2px;line-height:5.98px;color:#222;white-space:nowrap;transform:scaleX(0.9500);transform-origin:0 50%;">P</div>
<div style="position:absolute;left:634.84px;top:270.35px;width:11.80px;height:2.90px;background:#d9d9d9;"></div>
<div style="position:absolute;left:637.84px;top:270.35px;width:7.20px;height:2.90px;background:#3a9a3c;"></div>
<div style="position:absolute;left:656.26px;top:254.97px;font-size:5.7px;line-height:6.55px;color:#2a2a2a;white-space:nowrap;transform:scaleX(0.8849);transform-origin:0 50%;">15</div>
<div style="position:absolute;left:657.42px;top:261.86px;font-size:5.2px;line-height:5.98px;color:#222;white-space:nowrap;transform:scaleX(0.9500);transform-origin:0 50%;">P</div>
<div style="position:absolute;left:653.46px;top:270.35px;width:11.80px;height:2.90px;background:#d9d9d9;"></div>
<div style="position:absolute;left:653.46px;top:270.35px;width:5.40px;height:2.90px;background:#3a9a3c;"></div>
<div style="position:absolute;left:663.36px;top:270.35px;width:1.90px;height:2.90px;background:#3a9a3c;"></div>
<div style="position:absolute;left:668.18px;top:249.05px;width:18.62px;height:30.35px;background:#c8dce8;"></div>
<div style="position:absolute;left:674.88px;top:257.97px;font-size:5.7px;line-height:6.55px;color:#2a2a2a;white-space:nowrap;transform:scaleX(0.8849);transform-origin:0 50%;">16</div>
<div style="position:absolute;left:675.36px;top:265.06px;font-size:5.2px;line-height:5.98px;color:#222;white-space:nowrap;transform:scaleX(0.9500);transform-origin:0 50%;">W</div>
<div style="position:absolute;left:686.80px;top:249.05px;width:18.62px;height:30.35px;background:#c8dce8;"></div>
<div style="position:absolute;left:693.50px;top:257.97px;font-size:5.7px;line-height:6.55px;color:#f43b2a;white-space:nowrap;transform:scaleX(0.8849);transform-origin:0 50%;">17</div>
<div style="position:absolute;left:693.98px;top:265.06px;font-size:5.2px;line-height:5.98px;color:#222;white-space:nowrap;transform:scaleX(0.9500);transform-origin:0 50%;">W</div>
<div style="position:absolute;left:712.12px;top:254.97px;font-size:5.7px;line-height:6.55px;color:#2a2a2a;white-space:nowrap;transform:scaleX(0.8849);transform-origin:0 50%;">18</div>
<div style="position:absolute;left:713.28px;top:261.86px;font-size:5.2px;line-height:5.98px;color:#222;white-space:nowrap;transform:scaleX(0.9500);transform-origin:0 50%;">P</div>
<div style="position:absolute;left:709.32px;top:270.35px;width:11.80px;height:2.90px;background:#d9d9d9;"></div>
<div style="position:absolute;left:709.32px;top:270.35px;width:5.40px;height:2.90px;background:#3a9a3c;"></div>
<div style="position:absolute;left:719.22px;top:270.35px;width:1.90px;height:2.90px;background:#3a9a3c;"></div>
<div style="position:absolute;left:730.74px;top:254.97px;font-size:5.7px;line-height:6.55px;color:#2a2a2a;white-space:nowrap;transform:scaleX(0.8849);transform-origin:0 50%;">19</div>
<div style="position:absolute;left:731.90px;top:261.86px;font-size:5.2px;line-height:5.98px;color:#222;white-space:nowrap;transform:scaleX(0.9500);transform-origin:0 50%;">P</div>
<div style="position:absolute;left:727.94px;top:270.35px;width:11.80px;height:2.90px;background:#d9d9d9;"></div>
<div style="position:absolute;left:730.94px;top:270.35px;width:7.20px;height:2.90px;background:#3a9a3c;"></div>
<div style="position:absolute;left:749.36px;top:254.97px;font-size:5.7px;line-height:6.55px;color:#2a2a2a;white-space:nowrap;transform:scaleX(0.8849);transform-origin:0 50%;">20</div>
<div style="position:absolute;left:750.52px;top:261.86px;font-size:5.2px;line-height:5.98px;color:#222;white-space:nowrap;transform:scaleX(0.9500);transform-origin:0 50%;">P</div>
<div style="position:absolute;left:746.56px;top:270.35px;width:11.80px;height:2.90px;background:#d9d9d9;"></div>
<div style="position:absolute;left:746.56px;top:270.35px;width:5.40px;height:2.90px;background:#3a9a3c;"></div>
<div style="position:absolute;left:756.46px;top:270.35px;width:1.90px;height:2.90px;background:#3a9a3c;"></div>
<div style="position:absolute;left:767.98px;top:254.97px;font-size:5.7px;line-height:6.55px;color:#2a2a2a;white-space:nowrap;transform:scaleX(0.8849);transform-origin:0 50%;">21</div>
<div style="position:absolute;left:769.14px;top:261.86px;font-size:5.2px;line-height:5.98px;color:#222;white-space:nowrap;transform:scaleX(0.9500);transform-origin:0 50%;">P</div>
<div style="position:absolute;left:765.18px;top:270.35px;width:11.80px;height:2.90px;background:#d9d9d9;"></div>
<div style="position:absolute;left:768.18px;top:270.35px;width:7.20px;height:2.90px;background:#3a9a3c;"></div>
<div style="position:absolute;left:786.60px;top:254.97px;font-size:5.7px;line-height:6.55px;color:#2a2a2a;white-space:nowrap;transform:scaleX(0.8849);transform-origin:0 50%;">22</div>
<div style="position:absolute;left:787.76px;top:261.86px;font-size:5.2px;line-height:5.98px;color:#222;white-space:nowrap;transform:scaleX(0.9500);transform-origin:0 50%;">P</div>
<div style="position:absolute;left:783.80px;top:270.35px;width:11.80px;height:2.90px;background:#d9d9d9;"></div>
<div style="position:absolute;left:783.80px;top:270.35px;width:5.40px;height:2.90px;background:#3a9a3c;"></div>
<div style="position:absolute;left:793.70px;top:270.35px;width:1.90px;height:2.90px;background:#3a9a3c;"></div>
<div style="position:absolute;left:798.52px;top:249.05px;width:18.62px;height:30.35px;background:#c8dce8;"></div>
<div style="position:absolute;left:805.22px;top:257.97px;font-size:5.7px;line-height:6.55px;color:#2a2a2a;white-space:nowrap;transform:scaleX(0.8849);transform-origin:0 50%;">23</div>
<div style="position:absolute;left:805.70px;top:265.06px;font-size:5.2px;line-height:5.98px;color:#222;white-space:nowrap;transform:scaleX(0.9500);transform-origin:0 50%;">W</div>
<div style="position:absolute;left:291.70px;top:291.06px;font-size:6.5px;line-height:7.47px;color:#2a2a2a;white-space:nowrap;transform:scaleX(0.8300);transform-origin:0 50%;">Maj</div>
<div style="position:absolute;left:426.12px;top:279.40px;width:18.62px;height:30.35px;background:#c8dce8;"></div>
<div style="position:absolute;left:434.23px;top:288.32px;font-size:5.7px;line-height:6.55px;color:#f43b2a;white-space:nowrap;transform:scaleX(0.8849);transform-origin:0 50%;">1</div>
<div style="position:absolute;left:433.30px;top:295.41px;font-size:5.2px;line-height:5.98px;color:#222;white-space:nowrap;transform:scaleX(0.9500);transform-origin:0 50%;">W</div>
<div style="position:absolute;left:452.85px;top:285.32px;font-size:5.7px;line-height:6.55px;color:#2a2a2a;white-space:nowrap;transform:scaleX(0.8849);transform-origin:0 50%;">2</div>
<div style="position:absolute;left:452.60px;top:292.21px;font-size:5.2px;line-height:5.98px;color:#222;white-space:nowrap;transform:scaleX(0.9500);transform-origin:0 50%;">P</div>
<div style="position:absolute;left:448.64px;top:300.70px;width:11.80px;height:2.90px;background:#d9d9d9;"></div>
<div style="position:absolute;left:451.64px;top:300.70px;width:7.20px;height:2.90px;background:#3a9a3c;"></div>
<div style="position:absolute;left:471.47px;top:285.32px;font-size:5.7px;line-height:6.55px;color:#2a2a2a;white-space:nowrap;transform:scaleX(0.8849);transform-origin:0 50%;">3</div>
<div style="position:absolute;left:471.22px;top:292.21px;font-size:5.2px;line-height:5.98px;color:#222;white-space:nowrap;transform:scaleX(0.9500);transform-origin:0 50%;">P</div>
<div style="position:absolute;left:467.26px;top:300.70px;width:11.80px;height:2.90px;background:#d9d9d9;"></div>
<div style="position:absolute;left:470.26px;top:300.70px;width:7.20px;height:2.90px;background:#3a9a3c;"></div>
<div style="position:absolute;left:490.09px;top:285.32px;font-size:5.7px;line-height:6.55px;color:#2a2a2a;white-space:nowrap;transform:scaleX(0.8849);transform-origin:0 50%;">4</div>
<div style="position:absolute;left:489.84px;top:292.21px;font-size:5.2px;line-height:5.98px;color:#222;white-space:nowrap;transform:scaleX(0.9500);transform-origin:0 50%;">P</div>
<div style="position:absolute;left:485.88px;top:300.70px;width:11.80px;height:2.90px;background:#d9d9d9;"></div>
<div style="position:absolute;left:485.88px;top:300.70px;width:5.40px;height:2.90px;background:#3a9a3c;"></div>
<div style="position:absolute;left:495.78px;top:300.70px;width:1.90px;height:2.90px;background:#3a9a3c;"></div>
<div style="position:absolute;left:508.71px;top:285.32px;font-size:5.7px;line-height:6.55px;color:#2a2a2a;white-space:nowrap;transform:scaleX(0.8849);transform-origin:0 50%;">5</div>
<div style="position:absolute;left:508.46px;top:292.21px;font-size:5.2px;line-height:5.98px;color:#222;white-space:nowrap;transform:scaleX(0.9500);transform-origin:0 50%;">P</div>
<div style="position:absolute;left:504.50px;top:300.70px;width:11.80px;height:2.90px;background:#d9d9d9;"></div>
<div style="position:absolute;left:504.50px;top:300.70px;width:5.40px;height:2.90px;background:#3a9a3c;"></div>
<div style="position:absolute;left:514.40px;top:300.70px;width:1.90px;height:2.90px;background:#3a9a3c;"></div>
<div style="position:absolute;left:527.33px;top:285.32px;font-size:5.7px;line-height:6.55px;color:#2a2a2a;white-space:nowrap;transform:scaleX(0.8849);transform-origin:0 50%;">6</div>
<div style="position:absolute;left:527.08px;top:292.21px;font-size:5.2px;line-height:5.98px;color:#222;white-space:nowrap;transform:scaleX(0.9500);transform-origin:0 50%;">P</div>
<div style="position:absolute;left:523.12px;top:300.70px;width:11.80px;height:2.90px;background:#d9d9d9;"></div>
<div style="position:absolute;left:526.12px;top:300.70px;width:7.20px;height:2.90px;background:#3a9a3c;"></div>
<div style="position:absolute;left:537.84px;top:279.40px;width:18.62px;height:30.35px;background:#c8dce8;"></div>
<div style="position:absolute;left:545.95px;top:288.32px;font-size:5.7px;line-height:6.55px;color:#2a2a2a;white-space:nowrap;transform:scaleX(0.8849);transform-origin:0 50%;">7</div>
<div style="position:absolute;left:545.02px;top:295.41px;font-size:5.2px;line-height:5.98px;color:#222;white-space:nowrap;transform:scaleX(0.9500);transform-origin:0 50%;">W</div>
<div style="position:absolute;left:556.46px;top:279.40px;width:18.62px;height:30.35px;background:#c8dce8;"></div>
<div style="position:absolute;left:564.57px;top:288.32px;font-size:5.7px;line-height:6.55px;color:#f43b2a;white-space:nowrap;transform:scaleX(0.8849);transform-origin:0 50%;">8</div>
<div style="position:absolute;left:563.64px;top:295.41px;font-size:5.2px;line-height:5.98px;color:#222;white-space:nowrap;transform:scaleX(0.9500);transform-origin:0 50%;">W</div>
<div style="position:absolute;left:583.19px;top:285.32px;font-size:5.7px;line-height:6.55px;color:#2a2a2a;white-space:nowrap;transform:scaleX(0.8849);transform-origin:0 50%;">9</div>
<div style="position:absolute;left:582.94px;top:292.21px;font-size:5.2px;line-height:5.98px;color:#222;white-space:nowrap;transform:scaleX(0.9500);transform-origin:0 50%;">P</div>
<div style="position:absolute;left:578.98px;top:300.70px;width:11.80px;height:2.90px;background:#d9d9d9;"></div>
<div style="position:absolute;left:581.98px;top:300.70px;width:7.20px;height:2.90px;background:#3a9a3c;"></div>
<div style="position:absolute;left:600.40px;top:285.32px;font-size:5.7px;line-height:6.55px;color:#2a2a2a;white-space:nowrap;transform:scaleX(0.8849);transform-origin:0 50%;">10</div>
<div style="position:absolute;left:601.56px;top:292.21px;font-size:5.2px;line-height:5.98px;color:#222;white-space:nowrap;transform:scaleX(0.9500);transform-origin:0 50%;">P</div>
<div style="position:absolute;left:597.60px;top:300.70px;width:11.80px;height:2.90px;background:#d9d9d9;"></div>
<div style="position:absolute;left:597.60px;top:300.70px;width:5.40px;height:2.90px;background:#3a9a3c;"></div>
<div style="position:absolute;left:607.50px;top:300.70px;width:1.90px;height:2.90px;background:#3a9a3c;"></div>
<div style="position:absolute;left:619.21px;top:285.32px;font-size:5.7px;line-height:6.55px;color:#2a2a2a;white-space:nowrap;transform:scaleX(0.8849);transform-origin:0 50%;">11</div>
<div style="position:absolute;left:620.18px;top:292.21px;font-size:5.2px;line-height:5.98px;color:#222;white-space:nowrap;transform:scaleX(0.9500);transform-origin:0 50%;">P</div>
<div style="position:absolute;left:616.22px;top:300.70px;width:11.80px;height:2.90px;background:#d9d9d9;"></div>
<div style="position:absolute;left:619.22px;top:300.70px;width:7.20px;height:2.90px;background:#3a9a3c;"></div>
<div style="position:absolute;left:637.64px;top:285.32px;font-size:5.7px;line-height:6.55px;color:#2a2a2a;white-space:nowrap;transform:scaleX(0.8849);transform-origin:0 50%;">12</div>
<div style="position:absolute;left:638.80px;top:292.21px;font-size:5.2px;line-height:5.98px;color:#222;white-space:nowrap;transform:scaleX(0.9500);transform-origin:0 50%;">P</div>
<div style="position:absolute;left:634.84px;top:300.70px;width:11.80px;height:2.90px;background:#d9d9d9;"></div>
<div style="position:absolute;left:637.84px;top:300.70px;width:7.20px;height:2.90px;background:#3a9a3c;"></div>
<div style="position:absolute;left:656.26px;top:285.32px;font-size:5.7px;line-height:6.55px;color:#2a2a2a;white-space:nowrap;transform:scaleX(0.8849);transform-origin:0 50%;">13</div>
<div style="position:absolute;left:657.42px;top:292.21px;font-size:5.2px;line-height:5.98px;color:#222;white-space:nowrap;transform:scaleX(0.9500);transform-origin:0 50%;">P</div>
<div style="position:absolute;left:653.46px;top:300.70px;width:11.80px;height:2.90px;background:#d9d9d9;"></div>
<div style="position:absolute;left:653.46px;top:300.70px;width:5.40px;height:2.90px;background:#3a9a3c;"></div>
<div style="position:absolute;left:663.36px;top:300.70px;width:1.90px;height:2.90px;background:#3a9a3c;"></div>
<div style="position:absolute;left:668.18px;top:279.40px;width:18.62px;height:30.35px;background:#c8dce8;"></div>
<div style="position:absolute;left:674.88px;top:288.32px;font-size:5.7px;line-height:6.55px;color:#2a2a2a;white-space:nowrap;transform:scaleX(0.8849);transform-origin:0 50%;">14</div>
<div style="position:absolute;left:675.36px;top:295.41px;font-size:5.2px;line-height:5.98px;color:#222;white-space:nowrap;transform:scaleX(0.9500);transform-origin:0 50%;">W</div>
<div style="position:absolute;left:686.80px;top:279.40px;width:18.62px;height:30.35px;background:#c8dce8;"></div>
<div style="position:absolute;left:693.50px;top:288.32px;font-size:5.7px;line-height:6.55px;color:#f43b2a;white-space:nowrap;transform:scaleX(0.8849);transform-origin:0 50%;">15</div>
<div style="position:absolute;left:693.98px;top:295.41px;font-size:5.2px;line-height:5.98px;color:#222;white-space:nowrap;transform:scaleX(0.9500);transform-origin:0 50%;">W</div>
<div style="position:absolute;left:712.12px;top:285.32px;font-size:5.7px;line-height:6.55px;color:#2a2a2a;white-space:nowrap;transform:scaleX(0.8849);transform-origin:0 50%;">16</div>
<div style="position:absolute;left:713.28px;top:292.21px;font-size:5.2px;line-height:5.98px;color:#222;white-space:nowrap;transform:scaleX(0.9500);transform-origin:0 50%;">P</div>
<div style="position:absolute;left:709.32px;top:300.70px;width:11.80px;height:2.90px;background:#d9d9d9;"></div>
<div style="position:absolute;left:709.32px;top:300.70px;width:5.40px;height:2.90px;background:#3a9a3c;"></div>
<div style="position:absolute;left:719.22px;top:300.70px;width:1.90px;height:2.90px;background:#3a9a3c;"></div>
<div style="position:absolute;left:730.74px;top:285.32px;font-size:5.7px;line-height:6.55px;color:#2a2a2a;white-space:nowrap;transform:scaleX(0.8849);transform-origin:0 50%;">17</div>
<div style="position:absolute;left:731.90px;top:292.21px;font-size:5.2px;line-height:5.98px;color:#222;white-space:nowrap;transform:scaleX(0.9500);transform-origin:0 50%;">P</div>
<div style="position:absolute;left:727.94px;top:300.70px;width:11.80px;height:2.90px;background:#d9d9d9;"></div>
<div style="position:absolute;left:730.94px;top:300.70px;width:7.20px;height:2.90px;background:#3a9a3c;"></div>
<div style="position:absolute;left:749.36px;top:285.32px;font-size:5.7px;line-height:6.55px;color:#2a2a2a;white-space:nowrap;transform:scaleX(0.8849);transform-origin:0 50%;">18</div>
<div style="position:absolute;left:750.52px;top:292.21px;font-size:5.2px;line-height:5.98px;color:#222;white-space:nowrap;transform:scaleX(0.9500);transform-origin:0 50%;">P</div>
<div style="position:absolute;left:746.56px;top:300.70px;width:11.80px;height:2.90px;background:#d9d9d9;"></div>
<div style="position:absolute;left:746.56px;top:300.70px;width:5.40px;height:2.90px;background:#3a9a3c;"></div>
<div style="position:absolute;left:756.46px;top:300.70px;width:1.90px;height:2.90px;background:#3a9a3c;"></div>
<div style="position:absolute;left:767.98px;top:285.32px;font-size:5.7px;line-height:6.55px;color:#2a2a2a;white-space:nowrap;transform:scaleX(0.8849);transform-origin:0 50%;">19</div>
<div style="position:absolute;left:769.14px;top:292.21px;font-size:5.2px;line-height:5.98px;color:#222;white-space:nowrap;transform:scaleX(0.9500);transform-origin:0 50%;">P</div>
<div style="position:absolute;left:765.18px;top:300.70px;width:11.80px;height:2.90px;background:#d9d9d9;"></div>
<div style="position:absolute;left:765.18px;top:300.70px;width:5.40px;height:2.90px;background:#3a9a3c;"></div>
<div style="position:absolute;left:775.08px;top:300.70px;width:1.90px;height:2.90px;background:#3a9a3c;"></div>
<div style="position:absolute;left:786.60px;top:291.62px;font-size:5.7px;line-height:6.55px;color:#2a2a2a;white-space:nowrap;transform:scaleX(0.8849);transform-origin:0 50%;">20</div>
<div style="position:absolute;left:798.52px;top:279.40px;width:18.62px;height:30.35px;background:#c8dce8;"></div>
<div style="position:absolute;left:805.22px;top:288.32px;font-size:5.7px;line-height:6.55px;color:#2a2a2a;white-space:nowrap;transform:scaleX(0.8849);transform-origin:0 50%;">21</div>
<div style="position:absolute;left:805.70px;top:295.41px;font-size:5.2px;line-height:5.98px;color:#222;white-space:nowrap;transform:scaleX(0.9500);transform-origin:0 50%;">W</div>
<div style="position:absolute;left:291.70px;top:321.41px;font-size:6.5px;line-height:7.47px;color:#2a2a2a;white-space:nowrap;transform:scaleX(0.8300);transform-origin:0 50%;">Cze</div>
<div style="position:absolute;left:359.75px;top:315.67px;font-size:5.7px;line-height:6.55px;color:#2a2a2a;white-space:nowrap;transform:scaleX(0.8849);transform-origin:0 50%;">1</div>
<div style="position:absolute;left:359.50px;top:322.56px;font-size:5.2px;line-height:5.98px;color:#222;white-space:nowrap;transform:scaleX(0.9500);transform-origin:0 50%;">P</div>
<div style="position:absolute;left:355.54px;top:331.05px;width:11.80px;height:2.90px;background:#d9d9d9;"></div>
<div style="position:absolute;left:355.54px;top:331.05px;width:5.40px;height:2.90px;background:#3a9a3c;"></div>
<div style="position:absolute;left:365.44px;top:331.05px;width:1.90px;height:2.90px;background:#3a9a3c;"></div>
<div style="position:absolute;left:378.37px;top:315.67px;font-size:5.7px;line-height:6.55px;color:#2a2a2a;white-space:nowrap;transform:scaleX(0.8849);transform-origin:0 50%;">2</div>
<div style="position:absolute;left:378.12px;top:322.56px;font-size:5.2px;line-height:5.98px;color:#222;white-space:nowrap;transform:scaleX(0.9500);transform-origin:0 50%;">P</div>
<div style="position:absolute;left:374.16px;top:331.05px;width:11.80px;height:2.90px;background:#d9d9d9;"></div>
<div style="position:absolute;left:374.16px;top:331.05px;width:5.40px;height:2.90px;background:#3a9a3c;"></div>
<div style="position:absolute;left:384.06px;top:331.05px;width:1.90px;height:2.90px;background:#3a9a3c;"></div>
<div style="position:absolute;left:396.99px;top:315.67px;font-size:5.7px;line-height:6.55px;color:#2a2a2a;white-space:nowrap;transform:scaleX(0.8849);transform-origin:0 50%;">3</div>
<div style="position:absolute;left:396.74px;top:322.56px;font-size:5.2px;line-height:5.98px;color:#222;white-space:nowrap;transform:scaleX(0.9500);transform-origin:0 50%;">P</div>
<div style="position:absolute;left:392.78px;top:331.05px;width:11.80px;height:2.90px;background:#d9d9d9;"></div>
<div style="position:absolute;left:392.78px;top:331.05px;width:5.40px;height:2.90px;background:#3a9a3c;"></div>
<div style="position:absolute;left:402.68px;top:331.05px;width:1.90px;height:2.90px;background:#3a9a3c;"></div>
<div style="position:absolute;left:407.50px;top:309.75px;width:18.62px;height:30.35px;background:#c8dce8;"></div>
<div style="position:absolute;left:415.61px;top:318.67px;font-size:5.7px;line-height:6.55px;color:#2a2a2a;white-space:nowrap;transform:scaleX(0.8849);transform-origin:0 50%;">4</div>
<div style="position:absolute;left:414.68px;top:325.76px;font-size:5.2px;line-height:5.98px;color:#222;white-space:nowrap;transform:scaleX(0.9500);transform-origin:0 50%;">W</div>
<div style="position:absolute;left:426.12px;top:309.75px;width:18.62px;height:30.35px;background:#c8dce8;"></div>
<div style="position:absolute;left:434.23px;top:318.67px;font-size:5.7px;line-height:6.55px;color:#f43b2a;white-space:nowrap;transform:scaleX(0.8849);transform-origin:0 50%;">5</div>
<div style="position:absolute;left:433.30px;top:325.76px;font-size:5.2px;line-height:5.98px;color:#222;white-space:nowrap;transform:scaleX(0.9500);transform-origin:0 50%;">W</div>
<div style="position:absolute;left:452.85px;top:315.67px;font-size:5.7px;line-height:6.55px;color:#2a2a2a;white-space:nowrap;transform:scaleX(0.8849);transform-origin:0 50%;">6</div>
<div style="position:absolute;left:452.60px;top:322.56px;font-size:5.2px;line-height:5.98px;color:#222;white-space:nowrap;transform:scaleX(0.9500);transform-origin:0 50%;">P</div>
<div style="position:absolute;left:448.64px;top:331.05px;width:11.80px;height:2.90px;background:#d9d9d9;"></div>
<div style="position:absolute;left:448.64px;top:331.05px;width:5.40px;height:2.90px;background:#3a9a3c;"></div>
<div style="position:absolute;left:458.54px;top:331.05px;width:1.90px;height:2.90px;background:#3a9a3c;"></div>
<div style="position:absolute;left:471.47px;top:315.67px;font-size:5.7px;line-height:6.55px;color:#2a2a2a;white-space:nowrap;transform:scaleX(0.8849);transform-origin:0 50%;">7</div>
<div style="position:absolute;left:471.22px;top:322.56px;font-size:5.2px;line-height:5.98px;color:#222;white-space:nowrap;transform:scaleX(0.9500);transform-origin:0 50%;">P</div>
<div style="position:absolute;left:467.26px;top:331.05px;width:11.80px;height:2.90px;background:#d9d9d9;"></div>
<div style="position:absolute;left:467.26px;top:331.05px;width:5.40px;height:2.90px;background:#3a9a3c;"></div>
<div style="position:absolute;left:477.16px;top:331.05px;width:1.90px;height:2.90px;background:#3a9a3c;"></div>
<div style="position:absolute;left:490.09px;top:315.67px;font-size:5.7px;line-height:6.55px;color:#2a2a2a;white-space:nowrap;transform:scaleX(0.8849);transform-origin:0 50%;">8</div>
<div style="position:absolute;left:489.84px;top:322.56px;font-size:5.2px;line-height:5.98px;color:#222;white-space:nowrap;transform:scaleX(0.9500);transform-origin:0 50%;">P</div>
<div style="position:absolute;left:485.88px;top:331.05px;width:11.80px;height:2.90px;background:#d9d9d9;"></div>
<div style="position:absolute;left:485.88px;top:331.05px;width:5.40px;height:2.90px;background:#3a9a3c;"></div>
<div style="position:absolute;left:495.78px;top:331.05px;width:1.90px;height:2.90px;background:#3a9a3c;"></div>
<div style="position:absolute;left:508.71px;top:315.67px;font-size:5.7px;line-height:6.55px;color:#2a2a2a;white-space:nowrap;transform:scaleX(0.8849);transform-origin:0 50%;">9</div>
<div style="position:absolute;left:508.46px;top:322.56px;font-size:5.2px;line-height:5.98px;color:#222;white-space:nowrap;transform:scaleX(0.9500);transform-origin:0 50%;">P</div>
<div style="position:absolute;left:504.50px;top:331.05px;width:11.80px;height:2.90px;background:#d9d9d9;"></div>
<div style="position:absolute;left:504.50px;top:331.05px;width:5.40px;height:2.90px;background:#3a9a3c;"></div>
<div style="position:absolute;left:514.40px;top:331.05px;width:1.90px;height:2.90px;background:#3a9a3c;"></div>
<div style="position:absolute;left:525.92px;top:315.67px;font-size:5.7px;line-height:6.55px;color:#2a2a2a;white-space:nowrap;transform:scaleX(0.8849);transform-origin:0 50%;">10</div>
<div style="position:absolute;left:527.08px;top:322.56px;font-size:5.2px;line-height:5.98px;color:#222;white-space:nowrap;transform:scaleX(0.9500);transform-origin:0 50%;">P</div>
<div style="position:absolute;left:523.12px;top:331.05px;width:11.80px;height:2.90px;background:#d9d9d9;"></div>
<div style="position:absolute;left:523.12px;top:331.05px;width:5.40px;height:2.90px;background:#3a9a3c;"></div>
<div style="position:absolute;left:533.02px;top:331.05px;width:1.90px;height:2.90px;background:#3a9a3c;"></div>
<div style="position:absolute;left:537.84px;top:309.75px;width:18.62px;height:30.35px;background:#c8dce8;"></div>
<div style="position:absolute;left:544.73px;top:318.67px;font-size:5.7px;line-height:6.55px;color:#2a2a2a;white-space:nowrap;transform:scaleX(0.8849);transform-origin:0 50%;">11</div>
<div style="position:absolute;left:545.02px;top:325.76px;font-size:5.2px;line-height:5.98px;color:#222;white-space:nowrap;transform:scaleX(0.9500);transform-origin:0 50%;">W</div>
<div style="position:absolute;left:556.46px;top:309.75px;width:18.62px;height:30.35px;background:#c8dce8;"></div>
<div style="position:absolute;left:563.16px;top:318.67px;font-size:5.7px;line-height:6.55px;color:#f43b2a;white-space:nowrap;transform:scaleX(0.8849);transform-origin:0 50%;">12</div>
<div style="position:absolute;left:563.64px;top:325.76px;font-size:5.2px;line-height:5.98px;color:#222;white-space:nowrap;transform:scaleX(0.9500);transform-origin:0 50%;">W</div>
<div style="position:absolute;left:581.78px;top:315.67px;font-size:5.7px;line-height:6.55px;color:#2a2a2a;white-space:nowrap;transform:scaleX(0.8849);transform-origin:0 50%;">13</div>
<div style="position:absolute;left:582.26px;top:322.56px;font-size:5.2px;line-height:5.98px;color:#222;white-space:nowrap;transform:scaleX(0.9500);transform-origin:0 50%;">W</div>
<div style="position:absolute;left:579.58px;top:331.05px;width:10.20px;height:2.90px;background:#cadeea;"></div>
<div style="position:absolute;left:593.70px;top:309.75px;width:18.62px;height:30.35px;background:#def2fc;"></div>
<div style="position:absolute;left:600.40px;top:315.67px;font-size:5.7px;line-height:6.55px;color:#2a2a2a;white-space:nowrap;transform:scaleX(0.8849);transform-origin:0 50%;">14</div>
<div style="position:absolute;left:600.88px;top:322.56px;font-size:5.2px;line-height:5.98px;color:#222;white-space:nowrap;transform:scaleX(0.9500);transform-origin:0 50%;">W</div>
<div style="position:absolute;left:598.20px;top:331.05px;width:10.20px;height:2.90px;background:#cadeea;"></div>
<div style="position:absolute;left:612.32px;top:309.75px;width:18.62px;height:30.35px;background:#def2fc;"></div>
<div style="position:absolute;left:619.02px;top:315.67px;font-size:5.7px;line-height:6.55px;color:#2a2a2a;white-space:nowrap;transform:scaleX(0.8849);transform-origin:0 50%;">15</div>
<div style="position:absolute;left:619.50px;top:322.56px;font-size:5.2px;line-height:5.98px;color:#222;white-space:nowrap;transform:scaleX(0.9500);transform-origin:0 50%;">W</div>
<div style="position:absolute;left:616.82px;top:331.05px;width:10.20px;height:2.90px;background:#cadeea;"></div>
<div style="position:absolute;left:630.94px;top:309.75px;width:18.62px;height:30.35px;background:#def2fc;"></div>
<div style="position:absolute;left:637.64px;top:315.67px;font-size:5.7px;line-height:6.55px;color:#2a2a2a;white-space:nowrap;transform:scaleX(0.8849);transform-origin:0 50%;">16</div>
<div style="position:absolute;left:638.12px;top:322.56px;font-size:5.2px;line-height:5.98px;color:#222;white-space:nowrap;transform:scaleX(0.9500);transform-origin:0 50%;">W</div>
<div style="position:absolute;left:635.44px;top:331.05px;width:10.20px;height:2.90px;background:#cadeea;"></div>
<div style="position:absolute;left:649.56px;top:309.75px;width:18.62px;height:30.35px;background:#def2fc;"></div>
<div style="position:absolute;left:656.26px;top:315.67px;font-size:5.7px;line-height:6.55px;color:#2a2a2a;white-space:nowrap;transform:scaleX(0.8849);transform-origin:0 50%;">17</div>
<div style="position:absolute;left:656.74px;top:322.56px;font-size:5.2px;line-height:5.98px;color:#222;white-space:nowrap;transform:scaleX(0.9500);transform-origin:0 50%;">W</div>
<div style="position:absolute;left:654.06px;top:331.05px;width:10.20px;height:2.90px;background:#cadeea;"></div>
<div style="position:absolute;left:668.18px;top:309.75px;width:18.62px;height:30.35px;background:#c8dce8;"></div>
<div style="position:absolute;left:674.88px;top:318.67px;font-size:5.7px;line-height:6.55px;color:#2a2a2a;white-space:nowrap;transform:scaleX(0.8849);transform-origin:0 50%;">18</div>
<div style="position:absolute;left:675.36px;top:325.76px;font-size:5.2px;line-height:5.98px;color:#222;white-space:nowrap;transform:scaleX(0.9500);transform-origin:0 50%;">W</div>
<div style="position:absolute;left:686.80px;top:309.75px;width:18.62px;height:30.35px;background:#c8dce8;"></div>
<div style="position:absolute;left:693.50px;top:318.67px;font-size:5.7px;line-height:6.55px;color:#f43b2a;white-space:nowrap;transform:scaleX(0.8849);transform-origin:0 50%;">19</div>
<div style="position:absolute;left:693.98px;top:325.76px;font-size:5.2px;line-height:5.98px;color:#222;white-space:nowrap;transform:scaleX(0.9500);transform-origin:0 50%;">W</div>
<div style="position:absolute;left:712.12px;top:321.97px;font-size:5.7px;line-height:6.55px;color:#2a2a2a;white-space:nowrap;transform:scaleX(0.8849);transform-origin:0 50%;">20</div>
<div style="position:absolute;left:724.04px;top:309.75px;width:18.62px;height:30.35px;background:#def2fc;"></div>
<div style="position:absolute;left:730.74px;top:315.67px;font-size:5.7px;line-height:6.55px;color:#2a2a2a;white-space:nowrap;transform:scaleX(0.8849);transform-origin:0 50%;">21</div>
<div style="position:absolute;left:731.22px;top:322.56px;font-size:5.2px;line-height:5.98px;color:#222;white-space:nowrap;transform:scaleX(0.9500);transform-origin:0 50%;">W</div>
<div style="position:absolute;left:728.54px;top:331.05px;width:10.20px;height:2.90px;background:#cadeea;"></div>
<div style="position:absolute;left:742.66px;top:309.75px;width:18.62px;height:30.35px;background:#def2fc;"></div>
<div style="position:absolute;left:749.36px;top:315.67px;font-size:5.7px;line-height:6.55px;color:#2a2a2a;white-space:nowrap;transform:scaleX(0.8849);transform-origin:0 50%;">22</div>
<div style="position:absolute;left:749.84px;top:322.56px;font-size:5.2px;line-height:5.98px;color:#222;white-space:nowrap;transform:scaleX(0.9500);transform-origin:0 50%;">W</div>
<div style="position:absolute;left:747.16px;top:331.05px;width:10.20px;height:2.90px;background:#cadeea;"></div>
<div style="position:absolute;left:767.98px;top:315.67px;font-size:5.7px;line-height:6.55px;color:#2a2a2a;white-space:nowrap;transform:scaleX(0.8849);transform-origin:0 50%;">23</div>
<div style="position:absolute;left:769.14px;top:322.56px;font-size:5.2px;line-height:5.98px;color:#222;white-space:nowrap;transform:scaleX(0.9500);transform-origin:0 50%;">P</div>
<div style="position:absolute;left:765.18px;top:331.05px;width:11.80px;height:2.90px;background:#d9d9d9;"></div>
<div style="position:absolute;left:765.18px;top:331.05px;width:5.40px;height:2.90px;background:#3a9a3c;"></div>
<div style="position:absolute;left:775.08px;top:331.05px;width:1.90px;height:2.90px;background:#3a9a3c;"></div>
<div style="position:absolute;left:786.60px;top:315.67px;font-size:5.7px;line-height:6.55px;color:#2a2a2a;white-space:nowrap;transform:scaleX(0.8849);transform-origin:0 50%;">24</div>
<div style="position:absolute;left:787.76px;top:322.56px;font-size:5.2px;line-height:5.98px;color:#222;white-space:nowrap;transform:scaleX(0.9500);transform-origin:0 50%;">P</div>
<div style="position:absolute;left:783.80px;top:331.05px;width:11.80px;height:2.90px;background:#d9d9d9;"></div>
<div style="position:absolute;left:783.80px;top:331.05px;width:5.40px;height:2.90px;background:#3a9a3c;"></div>
<div style="position:absolute;left:793.70px;top:331.05px;width:1.90px;height:2.90px;background:#3a9a3c;"></div>
<div style="position:absolute;left:798.52px;top:309.75px;width:18.62px;height:30.35px;background:#c8dce8;"></div>
<div style="position:absolute;left:805.22px;top:318.67px;font-size:5.7px;line-height:6.55px;color:#2a2a2a;white-space:nowrap;transform:scaleX(0.8849);transform-origin:0 50%;">25</div>
<div style="position:absolute;left:805.70px;top:325.76px;font-size:5.2px;line-height:5.98px;color:#222;white-space:nowrap;transform:scaleX(0.9500);transform-origin:0 50%;">W</div>
<div style="position:absolute;left:291.70px;top:351.76px;font-size:6.5px;line-height:7.47px;color:#2a2a2a;white-space:nowrap;transform:scaleX(0.8300);transform-origin:0 50%;">Lip</div>
<div style="position:absolute;left:396.99px;top:346.02px;font-size:5.7px;line-height:6.55px;color:#2a2a2a;white-space:nowrap;transform:scaleX(0.8849);transform-origin:0 50%;">1</div>
<div style="position:absolute;left:396.74px;top:352.91px;font-size:5.2px;line-height:5.98px;color:#222;white-space:nowrap;transform:scaleX(0.9500);transform-origin:0 50%;">P</div>
<div style="position:absolute;left:392.78px;top:361.40px;width:11.80px;height:2.90px;background:#d9d9d9;"></div>
<div style="position:absolute;left:392.78px;top:361.40px;width:5.40px;height:2.90px;background:#3a9a3c;"></div>
<div style="position:absolute;left:402.68px;top:361.40px;width:1.90px;height:2.90px;background:#3a9a3c;"></div>
<div style="position:absolute;left:407.50px;top:340.10px;width:18.62px;height:30.35px;background:#c8dce8;"></div>
<div style="position:absolute;left:415.61px;top:349.02px;font-size:5.7px;line-height:6.55px;color:#2a2a2a;white-space:nowrap;transform:scaleX(0.8849);transform-origin:0 50%;">2</div>
<div style="position:absolute;left:414.68px;top:356.11px;font-size:5.2px;line-height:5.98px;color:#222;white-space:nowrap;transform:scaleX(0.9500);transform-origin:0 50%;">W</div>
<div style="position:absolute;left:426.12px;top:340.10px;width:18.62px;height:30.35px;background:#c8dce8;"></div>
<div style="position:absolute;left:434.23px;top:349.02px;font-size:5.7px;line-height:6.55px;color:#f43b2a;white-space:nowrap;transform:scaleX(0.8849);transform-origin:0 50%;">3</div>
<div style="position:absolute;left:433.30px;top:356.11px;font-size:5.2px;line-height:5.98px;color:#222;white-space:nowrap;transform:scaleX(0.9500);transform-origin:0 50%;">W</div>
<div style="position:absolute;left:452.85px;top:346.02px;font-size:5.7px;line-height:6.55px;color:#2a2a2a;white-space:nowrap;transform:scaleX(0.8849);transform-origin:0 50%;">4</div>
<div style="position:absolute;left:452.60px;top:352.91px;font-size:5.2px;line-height:5.98px;color:#222;white-space:nowrap;transform:scaleX(0.9500);transform-origin:0 50%;">P</div>
<div style="position:absolute;left:448.64px;top:361.40px;width:11.80px;height:2.90px;background:#d9d9d9;"></div>
<div style="position:absolute;left:448.64px;top:361.40px;width:5.40px;height:2.90px;background:#3a9a3c;"></div>
<div style="position:absolute;left:458.54px;top:361.40px;width:1.90px;height:2.90px;background:#3a9a3c;"></div>
<div style="position:absolute;left:471.47px;top:346.02px;font-size:5.7px;line-height:6.55px;color:#2a2a2a;white-space:nowrap;transform:scaleX(0.8849);transform-origin:0 50%;">5</div>
<div style="position:absolute;left:471.22px;top:352.91px;font-size:5.2px;line-height:5.98px;color:#222;white-space:nowrap;transform:scaleX(0.9500);transform-origin:0 50%;">P</div>
<div style="position:absolute;left:467.26px;top:361.40px;width:11.80px;height:2.90px;background:#d9d9d9;"></div>
<div style="position:absolute;left:467.26px;top:361.40px;width:5.40px;height:2.90px;background:#3a9a3c;"></div>
<div style="position:absolute;left:477.16px;top:361.40px;width:1.90px;height:2.90px;background:#3a9a3c;"></div>
<div style="position:absolute;left:490.09px;top:346.02px;font-size:5.7px;line-height:6.55px;color:#2a2a2a;white-space:nowrap;transform:scaleX(0.8849);transform-origin:0 50%;">6</div>
<div style="position:absolute;left:489.84px;top:352.91px;font-size:5.2px;line-height:5.98px;color:#222;white-space:nowrap;transform:scaleX(0.9500);transform-origin:0 50%;">P</div>
<div style="position:absolute;left:485.88px;top:361.40px;width:11.80px;height:2.90px;background:#d9d9d9;"></div>
<div style="position:absolute;left:485.88px;top:361.40px;width:5.40px;height:2.90px;background:#3a9a3c;"></div>
<div style="position:absolute;left:495.78px;top:361.40px;width:1.90px;height:2.90px;background:#3a9a3c;"></div>
<div style="position:absolute;left:508.71px;top:352.32px;font-size:5.7px;line-height:6.55px;color:#2a2a2a;white-space:nowrap;transform:scaleX(0.8849);transform-origin:0 50%;">7</div>
<div style="position:absolute;left:527.33px;top:346.02px;font-size:5.7px;line-height:6.55px;color:#2a2a2a;white-space:nowrap;transform:scaleX(0.8849);transform-origin:0 50%;">8</div>
<div style="position:absolute;left:527.08px;top:352.91px;font-size:5.2px;line-height:5.98px;color:#222;white-space:nowrap;transform:scaleX(0.9500);transform-origin:0 50%;">P</div>
<div style="position:absolute;left:523.12px;top:361.40px;width:11.80px;height:2.90px;background:#d9d9d9;"></div>
<div style="position:absolute;left:523.12px;top:361.40px;width:5.40px;height:2.90px;background:#3a9a3c;"></div>
<div style="position:absolute;left:533.02px;top:361.40px;width:1.90px;height:2.90px;background:#3a9a3c;"></div>
<div style="position:absolute;left:537.84px;top:340.10px;width:18.62px;height:30.35px;background:rgba(0,0,0,0.058);"></div>
<div style="position:absolute;left:545.95px;top:346.02px;font-size:5.7px;line-height:6.55px;color:#2a2a2a;white-space:nowrap;transform:scaleX(0.8849);transform-origin:0 50%;">9</div>
<div style="position:absolute;left:545.70px;top:352.91px;font-size:5.2px;line-height:5.98px;color:#222;white-space:nowrap;transform:scaleX(0.9500);transform-origin:0 50%;">P</div>
<div style="position:absolute;left:541.74px;top:361.40px;width:11.80px;height:2.90px;background:#d9d9d9;"></div>
<div style="position:absolute;left:541.74px;top:361.40px;width:5.40px;height:2.90px;background:#3a9a3c;"></div>
<div style="position:absolute;left:551.64px;top:361.40px;width:1.90px;height:2.90px;background:#3a9a3c;"></div>
<div style="position:absolute;left:556.46px;top:340.10px;width:18.62px;height:30.35px;background:#c8dce8;"></div>
<div style="position:absolute;left:563.16px;top:349.02px;font-size:5.7px;line-height:6.55px;color:#f43b2a;white-space:nowrap;transform:scaleX(0.8849);transform-origin:0 50%;">10</div>
<div style="position:absolute;left:563.64px;top:356.11px;font-size:5.2px;line-height:5.98px;color:#222;white-space:nowrap;transform:scaleX(0.9500);transform-origin:0 50%;">W</div>
<div style="position:absolute;left:581.97px;top:346.02px;font-size:5.7px;line-height:6.55px;color:#2a2a2a;white-space:nowrap;transform:scaleX(0.8849);transform-origin:0 50%;">11</div>
<div style="position:absolute;left:582.26px;top:352.91px;font-size:5.2px;line-height:5.98px;color:#222;white-space:nowrap;transform:scaleX(0.9500);transform-origin:0 50%;">W</div>
<div style="position:absolute;left:578.98px;top:361.40px;width:11.80px;height:2.90px;background:#d9d9d9;"></div>
<div style="position:absolute;left:578.98px;top:361.40px;width:5.40px;height:2.90px;background:#3a9a3c;"></div>
<div style="position:absolute;left:588.88px;top:361.40px;width:1.90px;height:2.90px;background:#3a9a3c;"></div>
<div style="position:absolute;left:600.40px;top:346.02px;font-size:5.7px;line-height:6.55px;color:#2a2a2a;white-space:nowrap;transform:scaleX(0.8849);transform-origin:0 50%;">12</div>
<div style="position:absolute;left:600.88px;top:352.91px;font-size:5.2px;line-height:5.98px;color:#222;white-space:nowrap;transform:scaleX(0.9500);transform-origin:0 50%;">W</div>
<div style="position:absolute;left:597.60px;top:361.40px;width:11.80px;height:2.90px;background:#d9d9d9;"></div>
<div style="position:absolute;left:600.60px;top:361.40px;width:7.20px;height:2.90px;background:#3a9a3c;"></div>
<div style="position:absolute;left:619.02px;top:346.02px;font-size:5.7px;line-height:6.55px;color:#2a2a2a;white-space:nowrap;transform:scaleX(0.8849);transform-origin:0 50%;">13</div>
<div style="position:absolute;left:619.50px;top:352.91px;font-size:5.2px;line-height:5.98px;color:#222;white-space:nowrap;transform:scaleX(0.9500);transform-origin:0 50%;">W</div>
<div style="position:absolute;left:616.22px;top:361.40px;width:11.80px;height:2.90px;background:#d9d9d9;"></div>
<div style="position:absolute;left:616.22px;top:361.40px;width:5.40px;height:2.90px;background:#3a9a3c;"></div>
<div style="position:absolute;left:626.12px;top:361.40px;width:1.90px;height:2.90px;background:#3a9a3c;"></div>
<div style="position:absolute;left:637.64px;top:346.02px;font-size:5.7px;line-height:6.55px;color:#2a2a2a;white-space:nowrap;transform:scaleX(0.8849);transform-origin:0 50%;">14</div>
<div style="position:absolute;left:638.12px;top:352.91px;font-size:5.2px;line-height:5.98px;color:#222;white-space:nowrap;transform:scaleX(0.9500);transform-origin:0 50%;">W</div>
<div style="position:absolute;left:634.84px;top:361.40px;width:11.80px;height:2.90px;background:#d9d9d9;"></div>
<div style="position:absolute;left:634.84px;top:361.40px;width:5.40px;height:2.90px;background:#3a9a3c;"></div>
<div style="position:absolute;left:644.74px;top:361.40px;width:1.90px;height:2.90px;background:#3a9a3c;"></div>
<div style="position:absolute;left:656.26px;top:346.02px;font-size:5.7px;line-height:6.55px;color:#2a2a2a;white-space:nowrap;transform:scaleX(0.8849);transform-origin:0 50%;">15</div>
<div style="position:absolute;left:656.74px;top:352.91px;font-size:5.2px;line-height:5.98px;color:#222;white-space:nowrap;transform:scaleX(0.9500);transform-origin:0 50%;">W</div>
<div style="position:absolute;left:653.46px;top:361.40px;width:11.80px;height:2.90px;background:#d9d9d9;"></div>
<div style="position:absolute;left:653.46px;top:361.40px;width:5.40px;height:2.90px;background:#3a9a3c;"></div>
<div style="position:absolute;left:663.36px;top:361.40px;width:1.90px;height:2.90px;background:#3a9a3c;"></div>
<div style="position:absolute;left:668.18px;top:340.10px;width:18.62px;height:30.35px;background:#c8dce8;"></div>
<div style="position:absolute;left:674.88px;top:349.02px;font-size:5.7px;line-height:6.55px;color:#2a2a2a;white-space:nowrap;transform:scaleX(0.8849);transform-origin:0 50%;">16</div>
<div style="position:absolute;left:675.36px;top:356.11px;font-size:5.2px;line-height:5.98px;color:#222;white-space:nowrap;transform:scaleX(0.9500);transform-origin:0 50%;">W</div>
<div style="position:absolute;left:686.80px;top:340.10px;width:18.62px;height:30.35px;background:rgba(0,0,0,0.058);"></div>
<div style="position:absolute;left:693.50px;top:346.02px;font-size:5.7px;line-height:6.55px;color:#2a2a2a;white-space:nowrap;transform:scaleX(0.8849);transform-origin:0 50%;">17</div>
<div style="position:absolute;left:694.66px;top:352.91px;font-size:5.2px;line-height:5.98px;color:#222;white-space:nowrap;transform:scaleX(0.9500);transform-origin:0 50%;">P</div>
<div style="position:absolute;left:690.70px;top:361.40px;width:11.80px;height:2.90px;background:#d9d9d9;"></div>
<div style="position:absolute;left:690.70px;top:361.40px;width:5.40px;height:2.90px;background:#3a9a3c;"></div>
<div style="position:absolute;left:700.60px;top:361.40px;width:1.90px;height:2.90px;background:#3a9a3c;"></div>
<div style="position:absolute;left:712.12px;top:346.02px;font-size:5.7px;line-height:6.55px;color:#2a2a2a;white-space:nowrap;transform:scaleX(0.8849);transform-origin:0 50%;">18</div>
<div style="position:absolute;left:713.28px;top:352.91px;font-size:5.2px;line-height:5.98px;color:#222;white-space:nowrap;transform:scaleX(0.9500);transform-origin:0 50%;">P</div>
<div style="position:absolute;left:709.32px;top:361.40px;width:11.80px;height:2.90px;background:#d9d9d9;"></div>
<div style="position:absolute;left:712.32px;top:361.40px;width:7.20px;height:2.90px;background:#3a9a3c;"></div>
<div style="position:absolute;left:730.74px;top:346.02px;font-size:5.7px;line-height:6.55px;color:#2a2a2a;white-space:nowrap;transform:scaleX(0.8849);transform-origin:0 50%;">19</div>
<div style="position:absolute;left:731.90px;top:352.91px;font-size:5.2px;line-height:5.98px;color:#222;white-space:nowrap;transform:scaleX(0.9500);transform-origin:0 50%;">P</div>
<div style="position:absolute;left:727.94px;top:361.40px;width:11.80px;height:2.90px;background:#d9d9d9;"></div>
<div style="position:absolute;left:727.94px;top:361.40px;width:5.40px;height:2.90px;background:#3a9a3c;"></div>
<div style="position:absolute;left:737.84px;top:361.40px;width:1.90px;height:2.90px;background:#3a9a3c;"></div>
<div style="position:absolute;left:749.36px;top:346.02px;font-size:5.7px;line-height:6.55px;color:#2a2a2a;white-space:nowrap;transform:scaleX(0.8849);transform-origin:0 50%;">20</div>
<div style="position:absolute;left:750.52px;top:352.91px;font-size:5.2px;line-height:5.98px;color:#222;white-space:nowrap;transform:scaleX(0.9500);transform-origin:0 50%;">P</div>
<div style="position:absolute;left:746.56px;top:361.40px;width:11.80px;height:2.90px;background:#d9d9d9;"></div>
<div style="position:absolute;left:746.56px;top:361.40px;width:5.40px;height:2.90px;background:#3a9a3c;"></div>
<div style="position:absolute;left:756.46px;top:361.40px;width:1.90px;height:2.90px;background:#3a9a3c;"></div>
<div style="position:absolute;left:767.98px;top:346.02px;font-size:5.7px;line-height:6.55px;color:#2a2a2a;white-space:nowrap;transform:scaleX(0.8849);transform-origin:0 50%;">21</div>
<div style="position:absolute;left:769.14px;top:352.91px;font-size:5.2px;line-height:5.98px;color:#222;white-space:nowrap;transform:scaleX(0.9500);transform-origin:0 50%;">P</div>
<div style="position:absolute;left:765.18px;top:361.40px;width:11.80px;height:2.90px;background:#d9d9d9;"></div>
<div style="position:absolute;left:768.18px;top:361.40px;width:7.20px;height:2.90px;background:#3a9a3c;"></div>
<div style="position:absolute;left:786.60px;top:346.02px;font-size:5.7px;line-height:6.55px;color:#2a2a2a;white-space:nowrap;transform:scaleX(0.8849);transform-origin:0 50%;">22</div>
<div style="position:absolute;left:787.76px;top:352.91px;font-size:5.2px;line-height:5.98px;color:#222;white-space:nowrap;transform:scaleX(0.9500);transform-origin:0 50%;">P</div>
<div style="position:absolute;left:783.80px;top:361.40px;width:11.80px;height:2.90px;background:#d9d9d9;"></div>
<div style="position:absolute;left:783.80px;top:361.40px;width:5.40px;height:2.90px;background:#3a9a3c;"></div>
<div style="position:absolute;left:793.70px;top:361.40px;width:1.90px;height:2.90px;background:#3a9a3c;"></div>
<div style="position:absolute;left:798.52px;top:340.10px;width:18.62px;height:30.35px;background:#c8dce8;"></div>
<div style="position:absolute;left:805.22px;top:349.02px;font-size:5.7px;line-height:6.55px;color:#2a2a2a;white-space:nowrap;transform:scaleX(0.8849);transform-origin:0 50%;">23</div>
<div style="position:absolute;left:805.70px;top:356.11px;font-size:5.2px;line-height:5.98px;color:#222;white-space:nowrap;transform:scaleX(0.9500);transform-origin:0 50%;">W</div>
<div style="position:absolute;left:291.70px;top:382.11px;font-size:6.5px;line-height:7.47px;color:#2a2a2a;white-space:nowrap;transform:scaleX(0.8300);transform-origin:0 50%;">Sie</div>
<div style="position:absolute;left:322.51px;top:376.37px;font-size:5.7px;line-height:6.55px;color:#2a2a2a;white-space:nowrap;transform:scaleX(0.8849);transform-origin:0 50%;">1</div>
<div style="position:absolute;left:322.26px;top:383.26px;font-size:5.2px;line-height:5.98px;color:#222;white-space:nowrap;transform:scaleX(0.9500);transform-origin:0 50%;">P</div>
<div style="position:absolute;left:318.30px;top:391.75px;width:11.80px;height:2.90px;background:#d9d9d9;"></div>
<div style="position:absolute;left:321.30px;top:391.75px;width:7.20px;height:2.90px;background:#3a9a3c;"></div>
<div style="position:absolute;left:341.13px;top:376.37px;font-size:5.7px;line-height:6.55px;color:#2a2a2a;white-space:nowrap;transform:scaleX(0.8849);transform-origin:0 50%;">2</div>
<div style="position:absolute;left:340.88px;top:383.26px;font-size:5.2px;line-height:5.98px;color:#222;white-space:nowrap;transform:scaleX(0.9500);transform-origin:0 50%;">P</div>
<div style="position:absolute;left:336.92px;top:391.75px;width:11.80px;height:2.90px;background:#d9d9d9;"></div>
<div style="position:absolute;left:339.92px;top:391.75px;width:7.20px;height:2.90px;background:#3a9a3c;"></div>
<div style="position:absolute;left:359.75px;top:376.37px;font-size:5.7px;line-height:6.55px;color:#2a2a2a;white-space:nowrap;transform:scaleX(0.8849);transform-origin:0 50%;">3</div>
<div style="position:absolute;left:359.50px;top:383.26px;font-size:5.2px;line-height:5.98px;color:#222;white-space:nowrap;transform:scaleX(0.9500);transform-origin:0 50%;">P</div>
<div style="position:absolute;left:355.54px;top:391.75px;width:11.80px;height:2.90px;background:#d9d9d9;"></div>
<div style="position:absolute;left:355.54px;top:391.75px;width:5.40px;height:2.90px;background:#3a9a3c;"></div>
<div style="position:absolute;left:365.44px;top:391.75px;width:1.90px;height:2.90px;background:#3a9a3c;"></div>
<div style="position:absolute;left:378.37px;top:376.37px;font-size:5.7px;line-height:6.55px;color:#2a2a2a;white-space:nowrap;transform:scaleX(0.8849);transform-origin:0 50%;">4</div>
<div style="position:absolute;left:378.12px;top:383.26px;font-size:5.2px;line-height:5.98px;color:#222;white-space:nowrap;transform:scaleX(0.9500);transform-origin:0 50%;">P</div>
<div style="position:absolute;left:374.16px;top:391.75px;width:11.80px;height:2.90px;background:#d9d9d9;"></div>
<div style="position:absolute;left:377.16px;top:391.75px;width:7.20px;height:2.90px;background:#3a9a3c;"></div>
<div style="position:absolute;left:396.99px;top:376.37px;font-size:5.7px;line-height:6.55px;color:#2a2a2a;white-space:nowrap;transform:scaleX(0.8849);transform-origin:0 50%;">5</div>
<div style="position:absolute;left:396.74px;top:383.26px;font-size:5.2px;line-height:5.98px;color:#222;white-space:nowrap;transform:scaleX(0.9500);transform-origin:0 50%;">P</div>
<div style="position:absolute;left:392.78px;top:391.75px;width:11.80px;height:2.90px;background:#d9d9d9;"></div>
<div style="position:absolute;left:392.78px;top:391.75px;width:5.40px;height:2.90px;background:#3a9a3c;"></div>
<div style="position:absolute;left:402.68px;top:391.75px;width:1.90px;height:2.90px;background:#3a9a3c;"></div>
<div style="position:absolute;left:407.50px;top:370.45px;width:18.62px;height:30.35px;background:#c8dce8;"></div>
<div style="position:absolute;left:415.61px;top:379.37px;font-size:5.7px;line-height:6.55px;color:#2a2a2a;white-space:nowrap;transform:scaleX(0.8849);transform-origin:0 50%;">6</div>
<div style="position:absolute;left:414.68px;top:386.46px;font-size:5.2px;line-height:5.98px;color:#222;white-space:nowrap;transform:scaleX(0.9500);transform-origin:0 50%;">W</div>
<div style="position:absolute;left:426.12px;top:370.45px;width:18.62px;height:30.35px;background:#c8dce8;"></div>
<div style="position:absolute;left:434.23px;top:379.37px;font-size:5.7px;line-height:6.55px;color:#f43b2a;white-space:nowrap;transform:scaleX(0.8849);transform-origin:0 50%;">7</div>
<div style="position:absolute;left:433.30px;top:386.46px;font-size:5.2px;line-height:5.98px;color:#222;white-space:nowrap;transform:scaleX(0.9500);transform-origin:0 50%;">W</div>
<div style="position:absolute;left:444.74px;top:370.45px;width:18.62px;height:30.35px;background:#def2fc;"></div>
<div style="position:absolute;left:452.85px;top:376.37px;font-size:5.7px;line-height:6.55px;color:#2a2a2a;white-space:nowrap;transform:scaleX(0.8849);transform-origin:0 50%;">8</div>
<div style="position:absolute;left:451.92px;top:383.26px;font-size:5.2px;line-height:5.98px;color:#222;white-space:nowrap;transform:scaleX(0.9500);transform-origin:0 50%;">W</div>
<div style="position:absolute;left:449.24px;top:391.75px;width:10.20px;height:2.90px;background:#cadeea;"></div>
<div style="position:absolute;left:463.36px;top:370.45px;width:18.62px;height:30.35px;background:#def2fc;"></div>
<div style="position:absolute;left:471.47px;top:376.37px;font-size:5.7px;line-height:6.55px;color:#2a2a2a;white-space:nowrap;transform:scaleX(0.8849);transform-origin:0 50%;">9</div>
<div style="position:absolute;left:470.54px;top:383.26px;font-size:5.2px;line-height:5.98px;color:#222;white-space:nowrap;transform:scaleX(0.9500);transform-origin:0 50%;">W</div>
<div style="position:absolute;left:467.86px;top:391.75px;width:10.20px;height:2.90px;background:#cadeea;"></div>
<div style="position:absolute;left:481.98px;top:370.45px;width:18.62px;height:30.35px;background:#def2fc;"></div>
<div style="position:absolute;left:488.68px;top:376.37px;font-size:5.7px;line-height:6.55px;color:#2a2a2a;white-space:nowrap;transform:scaleX(0.8849);transform-origin:0 50%;">10</div>
<div style="position:absolute;left:489.16px;top:383.26px;font-size:5.2px;line-height:5.98px;color:#222;white-space:nowrap;transform:scaleX(0.9500);transform-origin:0 50%;">W</div>
<div style="position:absolute;left:486.48px;top:391.75px;width:10.20px;height:2.90px;background:#cadeea;"></div>
<div style="position:absolute;left:500.60px;top:370.45px;width:18.62px;height:30.35px;background:#def2fc;"></div>
<div style="position:absolute;left:507.49px;top:376.37px;font-size:5.7px;line-height:6.55px;color:#2a2a2a;white-space:nowrap;transform:scaleX(0.8849);transform-origin:0 50%;">11</div>
<div style="position:absolute;left:507.78px;top:383.26px;font-size:5.2px;line-height:5.98px;color:#222;white-space:nowrap;transform:scaleX(0.9500);transform-origin:0 50%;">W</div>
<div style="position:absolute;left:505.10px;top:391.75px;width:10.20px;height:2.90px;background:#cadeea;"></div>
<div style="position:absolute;left:525.92px;top:376.37px;font-size:5.7px;line-height:6.55px;color:#2a2a2a;white-space:nowrap;transform:scaleX(0.8849);transform-origin:0 50%;">12</div>
<div style="position:absolute;left:526.40px;top:383.26px;font-size:5.2px;line-height:5.98px;color:#222;white-space:nowrap;transform:scaleX(0.9500);transform-origin:0 50%;">W</div>
<div style="position:absolute;left:523.72px;top:391.75px;width:10.20px;height:2.90px;background:#cadeea;"></div>
<div style="position:absolute;left:537.84px;top:370.45px;width:18.62px;height:30.35px;background:#c8dce8;"></div>
<div style="position:absolute;left:544.54px;top:379.37px;font-size:5.7px;line-height:6.55px;color:#2a2a2a;white-space:nowrap;transform:scaleX(0.8849);transform-origin:0 50%;">13</div>
<div style="position:absolute;left:545.02px;top:386.46px;font-size:5.2px;line-height:5.98px;color:#222;white-space:nowrap;transform:scaleX(0.9500);transform-origin:0 50%;">W</div>
<div style="position:absolute;left:556.46px;top:370.45px;width:18.62px;height:30.35px;background:#c8dce8;"></div>
<div style="position:absolute;left:563.16px;top:379.37px;font-size:5.7px;line-height:6.55px;color:#f43b2a;white-space:nowrap;transform:scaleX(0.8849);transform-origin:0 50%;">14</div>
<div style="position:absolute;left:563.64px;top:386.46px;font-size:5.2px;line-height:5.98px;color:#222;white-space:nowrap;transform:scaleX(0.9500);transform-origin:0 50%;">W</div>
<div style="position:absolute;left:581.78px;top:376.37px;font-size:5.7px;line-height:6.55px;color:#2a2a2a;white-space:nowrap;transform:scaleX(0.8849);transform-origin:0 50%;">15</div>
<div style="position:absolute;left:582.94px;top:383.26px;font-size:5.2px;line-height:5.98px;color:#222;white-space:nowrap;transform:scaleX(0.9500);transform-origin:0 50%;">P</div>
<div style="position:absolute;left:578.98px;top:391.75px;width:11.80px;height:2.90px;background:#d9d9d9;"></div>
<div style="position:absolute;left:585.58px;top:391.75px;width:5.20px;height:2.90px;background:#f5382a;"></div>
<div style="position:absolute;left:600.40px;top:376.37px;font-size:5.7px;line-height:6.55px;color:#2a2a2a;white-space:nowrap;transform:scaleX(0.8849);transform-origin:0 50%;">16</div>
<div style="position:absolute;left:601.56px;top:383.26px;font-size:5.2px;line-height:5.98px;color:#222;white-space:nowrap;transform:scaleX(0.9500);transform-origin:0 50%;">P</div>
<div style="position:absolute;left:597.60px;top:391.75px;width:11.80px;height:2.90px;background:#d9d9d9;"></div>
<div style="position:absolute;left:597.60px;top:391.75px;width:5.40px;height:2.90px;background:#3a9a3c;"></div>
<div style="position:absolute;left:607.50px;top:391.75px;width:1.90px;height:2.90px;background:#3a9a3c;"></div>
<div style="position:absolute;left:619.02px;top:376.37px;font-size:5.7px;line-height:6.55px;color:#2a2a2a;white-space:nowrap;transform:scaleX(0.8849);transform-origin:0 50%;">17</div>
<div style="position:absolute;left:620.18px;top:383.26px;font-size:5.2px;line-height:5.98px;color:#222;white-space:nowrap;transform:scaleX(0.9500);transform-origin:0 50%;">P</div>
<div style="position:absolute;left:616.22px;top:391.75px;width:11.80px;height:2.90px;background:#d9d9d9;"></div>
<div style="position:absolute;left:616.22px;top:391.75px;width:5.40px;height:2.90px;background:#3a9a3c;"></div>
<div style="position:absolute;left:626.12px;top:391.75px;width:1.90px;height:2.90px;background:#3a9a3c;"></div>
<div style="position:absolute;left:637.64px;top:376.37px;font-size:5.7px;line-height:6.55px;color:#2a2a2a;white-space:nowrap;transform:scaleX(0.8849);transform-origin:0 50%;">18</div>
<div style="position:absolute;left:638.80px;top:383.26px;font-size:5.2px;line-height:5.98px;color:#222;white-space:nowrap;transform:scaleX(0.9500);transform-origin:0 50%;">P</div>
<div style="position:absolute;left:634.84px;top:391.75px;width:11.80px;height:2.90px;background:#d9d9d9;"></div>
<div style="position:absolute;left:634.84px;top:391.75px;width:5.40px;height:2.90px;background:#3a9a3c;"></div>
<div style="position:absolute;left:644.74px;top:391.75px;width:1.90px;height:2.90px;background:#3a9a3c;"></div>
<div style="position:absolute;left:656.26px;top:382.67px;font-size:5.7px;line-height:6.55px;color:#2a2a2a;white-space:nowrap;transform:scaleX(0.8849);transform-origin:0 50%;">19</div>
<div style="position:absolute;left:668.18px;top:370.45px;width:18.62px;height:30.35px;background:#c8dce8;"></div>
<div style="position:absolute;left:674.88px;top:379.37px;font-size:5.7px;line-height:6.55px;color:#2a2a2a;white-space:nowrap;transform:scaleX(0.8849);transform-origin:0 50%;">20</div>
<div style="position:absolute;left:675.36px;top:386.46px;font-size:5.2px;line-height:5.98px;color:#222;white-space:nowrap;transform:scaleX(0.9500);transform-origin:0 50%;">W</div>
<div style="position:absolute;left:686.80px;top:370.45px;width:18.62px;height:30.35px;background:#c8dce8;"></div>
<div style="position:absolute;left:693.50px;top:379.37px;font-size:5.7px;line-height:6.55px;color:#f43b2a;white-space:nowrap;transform:scaleX(0.8849);transform-origin:0 50%;">21</div>
<div style="position:absolute;left:693.98px;top:386.46px;font-size:5.2px;line-height:5.98px;color:#222;white-space:nowrap;transform:scaleX(0.9500);transform-origin:0 50%;">W</div>
<div style="position:absolute;left:712.12px;top:376.37px;font-size:5.7px;line-height:6.55px;color:#2a2a2a;white-space:nowrap;transform:scaleX(0.8849);transform-origin:0 50%;">22</div>
<div style="position:absolute;left:713.28px;top:383.26px;font-size:5.2px;line-height:5.98px;color:#222;white-space:nowrap;transform:scaleX(0.9500);transform-origin:0 50%;">P</div>
<div style="position:absolute;left:709.32px;top:391.75px;width:11.80px;height:2.90px;background:#d9d9d9;"></div>
<div style="position:absolute;left:709.32px;top:391.75px;width:5.40px;height:2.90px;background:#3a9a3c;"></div>
<div style="position:absolute;left:719.22px;top:391.75px;width:1.90px;height:2.90px;background:#3a9a3c;"></div>
<div style="position:absolute;left:730.74px;top:376.37px;font-size:5.7px;line-height:6.55px;color:#2a2a2a;white-space:nowrap;transform:scaleX(0.8849);transform-origin:0 50%;">23</div>
<div style="position:absolute;left:731.90px;top:383.26px;font-size:5.2px;line-height:5.98px;color:#222;white-space:nowrap;transform:scaleX(0.9500);transform-origin:0 50%;">P</div>
<div style="position:absolute;left:727.94px;top:391.75px;width:11.80px;height:2.90px;background:#d9d9d9;"></div>
<div style="position:absolute;left:730.94px;top:391.75px;width:7.20px;height:2.90px;background:#3a9a3c;"></div>
<div style="position:absolute;left:749.36px;top:376.37px;font-size:5.7px;line-height:6.55px;color:#2a2a2a;white-space:nowrap;transform:scaleX(0.8849);transform-origin:0 50%;">24</div>
<div style="position:absolute;left:750.52px;top:383.26px;font-size:5.2px;line-height:5.98px;color:#222;white-space:nowrap;transform:scaleX(0.9500);transform-origin:0 50%;">P</div>
<div style="position:absolute;left:746.56px;top:391.75px;width:11.80px;height:2.90px;background:#d9d9d9;"></div>
<div style="position:absolute;left:746.56px;top:391.75px;width:5.40px;height:2.90px;background:#3a9a3c;"></div>
<div style="position:absolute;left:756.46px;top:391.75px;width:1.90px;height:2.90px;background:#3a9a3c;"></div>
<div style="position:absolute;left:767.98px;top:376.37px;font-size:5.7px;line-height:6.55px;color:#2a2a2a;white-space:nowrap;transform:scaleX(0.8849);transform-origin:0 50%;">25</div>
<div style="position:absolute;left:769.14px;top:383.26px;font-size:5.2px;line-height:5.98px;color:#222;white-space:nowrap;transform:scaleX(0.9500);transform-origin:0 50%;">P</div>
<div style="position:absolute;left:765.18px;top:391.75px;width:11.80px;height:2.90px;background:#d9d9d9;"></div>
<div style="position:absolute;left:765.18px;top:391.75px;width:5.40px;height:2.90px;background:#3a9a3c;"></div>
<div style="position:absolute;left:775.08px;top:391.75px;width:1.90px;height:2.90px;background:#3a9a3c;"></div>
<div style="position:absolute;left:786.60px;top:382.67px;font-size:5.7px;line-height:6.55px;color:#2a2a2a;white-space:nowrap;transform:scaleX(0.8849);transform-origin:0 50%;">26</div>
<div style="position:absolute;left:798.52px;top:370.45px;width:18.62px;height:30.35px;background:#c8dce8;"></div>
<div style="position:absolute;left:805.22px;top:379.37px;font-size:5.7px;line-height:6.55px;color:#2a2a2a;white-space:nowrap;transform:scaleX(0.8849);transform-origin:0 50%;">27</div>
<div style="position:absolute;left:805.70px;top:386.46px;font-size:5.2px;line-height:5.98px;color:#222;white-space:nowrap;transform:scaleX(0.9500);transform-origin:0 50%;">W</div>
<div style="position:absolute;left:291.70px;top:412.46px;font-size:6.5px;line-height:7.47px;color:#2a2a2a;white-space:nowrap;transform:scaleX(0.8300);transform-origin:0 50%;">Wrz</div>
<div style="position:absolute;left:378.37px;top:406.72px;font-size:5.7px;line-height:6.55px;color:#2a2a2a;white-space:nowrap;transform:scaleX(0.8849);transform-origin:0 50%;">1</div>
<div style="position:absolute;left:378.12px;top:413.61px;font-size:5.2px;line-height:5.98px;color:#222;white-space:nowrap;transform:scaleX(0.9500);transform-origin:0 50%;">P</div>
<div style="position:absolute;left:374.16px;top:422.10px;width:11.80px;height:2.90px;background:#d9d9d9;"></div>
<div style="position:absolute;left:374.16px;top:422.10px;width:5.40px;height:2.90px;background:#3a9a3c;"></div>
<div style="position:absolute;left:384.06px;top:422.10px;width:1.90px;height:2.90px;background:#3a9a3c;"></div>
<div style="position:absolute;left:396.99px;top:406.72px;font-size:5.7px;line-height:6.55px;color:#2a2a2a;white-space:nowrap;transform:scaleX(0.8849);transform-origin:0 50%;">2</div>
<div style="position:absolute;left:396.74px;top:413.61px;font-size:5.2px;line-height:5.98px;color:#222;white-space:nowrap;transform:scaleX(0.9500);transform-origin:0 50%;">P</div>
<div style="position:absolute;left:392.78px;top:422.10px;width:11.80px;height:2.90px;background:#d9d9d9;"></div>
<div style="position:absolute;left:392.78px;top:422.10px;width:5.40px;height:2.90px;background:#3a9a3c;"></div>
<div style="position:absolute;left:402.68px;top:422.10px;width:1.90px;height:2.90px;background:#3a9a3c;"></div>
<div style="position:absolute;left:407.50px;top:400.80px;width:18.62px;height:30.35px;background:#c8dce8;"></div>
<div style="position:absolute;left:415.61px;top:409.72px;font-size:5.7px;line-height:6.55px;color:#2a2a2a;white-space:nowrap;transform:scaleX(0.8849);transform-origin:0 50%;">3</div>
<div style="position:absolute;left:414.68px;top:416.81px;font-size:5.2px;line-height:5.98px;color:#222;white-space:nowrap;transform:scaleX(0.9500);transform-origin:0 50%;">W</div>
<div style="position:absolute;left:426.12px;top:400.80px;width:18.62px;height:30.35px;background:#c8dce8;"></div>
<div style="position:absolute;left:434.23px;top:409.72px;font-size:5.7px;line-height:6.55px;color:#f43b2a;white-space:nowrap;transform:scaleX(0.8849);transform-origin:0 50%;">4</div>
<div style="position:absolute;left:433.30px;top:416.81px;font-size:5.2px;line-height:5.98px;color:#222;white-space:nowrap;transform:scaleX(0.9500);transform-origin:0 50%;">W</div>
<div style="position:absolute;left:452.85px;top:406.72px;font-size:5.7px;line-height:6.55px;color:#2a2a2a;white-space:nowrap;transform:scaleX(0.8849);transform-origin:0 50%;">5</div>
<div style="position:absolute;left:452.60px;top:413.61px;font-size:5.2px;line-height:5.98px;color:#222;white-space:nowrap;transform:scaleX(0.9500);transform-origin:0 50%;">P</div>
<div style="position:absolute;left:448.64px;top:422.10px;width:11.80px;height:2.90px;background:#d9d9d9;"></div>
<div style="position:absolute;left:448.64px;top:422.10px;width:5.40px;height:2.90px;background:#3a9a3c;"></div>
<div style="position:absolute;left:458.54px;top:422.10px;width:1.90px;height:2.90px;background:#3a9a3c;"></div>
<div style="position:absolute;left:471.47px;top:406.72px;font-size:5.7px;line-height:6.55px;color:#2a2a2a;white-space:nowrap;transform:scaleX(0.8849);transform-origin:0 50%;">6</div>
<div style="position:absolute;left:471.22px;top:413.61px;font-size:5.2px;line-height:5.98px;color:#222;white-space:nowrap;transform:scaleX(0.9500);transform-origin:0 50%;">P</div>
<div style="position:absolute;left:467.26px;top:422.10px;width:11.80px;height:2.90px;background:#d9d9d9;"></div>
<div style="position:absolute;left:467.26px;top:422.10px;width:5.40px;height:2.90px;background:#3a9a3c;"></div>
<div style="position:absolute;left:477.16px;top:422.10px;width:1.90px;height:2.90px;background:#3a9a3c;"></div>
<div style="position:absolute;left:490.09px;top:406.72px;font-size:5.7px;line-height:6.55px;color:#2a2a2a;white-space:nowrap;transform:scaleX(0.8849);transform-origin:0 50%;">7</div>
<div style="position:absolute;left:489.84px;top:413.61px;font-size:5.2px;line-height:5.98px;color:#222;white-space:nowrap;transform:scaleX(0.9500);transform-origin:0 50%;">P</div>
<div style="position:absolute;left:485.88px;top:422.10px;width:11.80px;height:2.90px;background:#d9d9d9;"></div>
<div style="position:absolute;left:488.88px;top:422.10px;width:7.20px;height:2.90px;background:#3a9a3c;"></div>
<div style="position:absolute;left:508.71px;top:406.72px;font-size:5.7px;line-height:6.55px;color:#2a2a2a;white-space:nowrap;transform:scaleX(0.8849);transform-origin:0 50%;">8</div>
<div style="position:absolute;left:508.46px;top:413.61px;font-size:5.2px;line-height:5.98px;color:#222;white-space:nowrap;transform:scaleX(0.9500);transform-origin:0 50%;">P</div>
<div style="position:absolute;left:504.50px;top:422.10px;width:11.80px;height:2.90px;background:#d9d9d9;"></div>
<div style="position:absolute;left:504.50px;top:422.10px;width:5.40px;height:2.90px;background:#3a9a3c;"></div>
<div style="position:absolute;left:514.40px;top:422.10px;width:1.90px;height:2.90px;background:#3a9a3c;"></div>
<div style="position:absolute;left:519.22px;top:400.80px;width:18.62px;height:30.35px;background:#def2fc;"></div>
<div style="position:absolute;left:527.33px;top:406.72px;font-size:5.7px;line-height:6.55px;color:#2a2a2a;white-space:nowrap;transform:scaleX(0.8849);transform-origin:0 50%;">9</div>
<div style="position:absolute;left:526.40px;top:413.61px;font-size:5.2px;line-height:5.98px;color:#222;white-space:nowrap;transform:scaleX(0.9500);transform-origin:0 50%;">W</div>
<div style="position:absolute;left:523.72px;top:422.10px;width:10.20px;height:2.90px;background:#cadeea;"></div>
<div style="position:absolute;left:537.84px;top:400.80px;width:18.62px;height:30.35px;background:#c8dce8;"></div>
<div style="position:absolute;left:544.54px;top:409.72px;font-size:5.7px;line-height:6.55px;color:#2a2a2a;white-space:nowrap;transform:scaleX(0.8849);transform-origin:0 50%;">10</div>
<div style="position:absolute;left:545.02px;top:416.81px;font-size:5.2px;line-height:5.98px;color:#222;white-space:nowrap;transform:scaleX(0.9500);transform-origin:0 50%;">W</div>
<div style="position:absolute;left:556.46px;top:400.80px;width:18.62px;height:30.35px;background:#c8dce8;"></div>
<div style="position:absolute;left:563.35px;top:409.72px;font-size:5.7px;line-height:6.55px;color:#f43b2a;white-space:nowrap;transform:scaleX(0.8849);transform-origin:0 50%;">11</div>
<div style="position:absolute;left:563.64px;top:416.81px;font-size:5.2px;line-height:5.98px;color:#222;white-space:nowrap;transform:scaleX(0.9500);transform-origin:0 50%;">W</div>
<div style="position:absolute;left:575.08px;top:400.80px;width:18.62px;height:30.35px;background:#def2fc;"></div>
<div style="position:absolute;left:581.78px;top:406.72px;font-size:5.7px;line-height:6.55px;color:#2a2a2a;white-space:nowrap;transform:scaleX(0.8849);transform-origin:0 50%;">12</div>
<div style="position:absolute;left:582.26px;top:413.61px;font-size:5.2px;line-height:5.98px;color:#222;white-space:nowrap;transform:scaleX(0.9500);transform-origin:0 50%;">W</div>
<div style="position:absolute;left:579.58px;top:422.10px;width:10.20px;height:2.90px;background:#cadeea;"></div>
<div style="position:absolute;left:593.70px;top:400.80px;width:18.62px;height:30.35px;background:#def2fc;"></div>
<div style="position:absolute;left:600.40px;top:406.72px;font-size:5.7px;line-height:6.55px;color:#2a2a2a;white-space:nowrap;transform:scaleX(0.8849);transform-origin:0 50%;">13</div>
<div style="position:absolute;left:600.88px;top:413.61px;font-size:5.2px;line-height:5.98px;color:#222;white-space:nowrap;transform:scaleX(0.9500);transform-origin:0 50%;">W</div>
<div style="position:absolute;left:598.20px;top:422.10px;width:10.20px;height:2.90px;background:#cadeea;"></div>
<div style="position:absolute;left:612.32px;top:400.80px;width:18.62px;height:30.35px;background:#def2fc;"></div>
<div style="position:absolute;left:619.02px;top:406.72px;font-size:5.7px;line-height:6.55px;color:#2a2a2a;white-space:nowrap;transform:scaleX(0.8849);transform-origin:0 50%;">14</div>
<div style="position:absolute;left:619.50px;top:413.61px;font-size:5.2px;line-height:5.98px;color:#222;white-space:nowrap;transform:scaleX(0.9500);transform-origin:0 50%;">W</div>
<div style="position:absolute;left:616.82px;top:422.10px;width:10.20px;height:2.90px;background:#cadeea;"></div>
<div style="position:absolute;left:630.94px;top:400.80px;width:18.62px;height:30.35px;background:#def2fc;"></div>
<div style="position:absolute;left:637.64px;top:406.72px;font-size:5.7px;line-height:6.55px;color:#2a2a2a;white-space:nowrap;transform:scaleX(0.8849);transform-origin:0 50%;">15</div>
<div style="position:absolute;left:638.12px;top:413.61px;font-size:5.2px;line-height:5.98px;color:#222;white-space:nowrap;transform:scaleX(0.9500);transform-origin:0 50%;">W</div>
<div style="position:absolute;left:635.44px;top:422.10px;width:10.20px;height:2.90px;background:#cadeea;"></div>
<div style="position:absolute;left:649.56px;top:400.80px;width:18.62px;height:30.35px;background:#def2fc;"></div>
<div style="position:absolute;left:656.26px;top:406.72px;font-size:5.7px;line-height:6.55px;color:#2a2a2a;white-space:nowrap;transform:scaleX(0.8849);transform-origin:0 50%;">16</div>
<div style="position:absolute;left:656.74px;top:413.61px;font-size:5.2px;line-height:5.98px;color:#222;white-space:nowrap;transform:scaleX(0.9500);transform-origin:0 50%;">W</div>
<div style="position:absolute;left:654.06px;top:422.10px;width:10.20px;height:2.90px;background:#cadeea;"></div>
<div style="position:absolute;left:668.18px;top:400.80px;width:18.62px;height:30.35px;background:#c8dce8;"></div>
<div style="position:absolute;left:674.88px;top:409.72px;font-size:5.7px;line-height:6.55px;color:#2a2a2a;white-space:nowrap;transform:scaleX(0.8849);transform-origin:0 50%;">17</div>
<div style="position:absolute;left:675.36px;top:416.81px;font-size:5.2px;line-height:5.98px;color:#222;white-space:nowrap;transform:scaleX(0.9500);transform-origin:0 50%;">W</div>
<div style="position:absolute;left:686.80px;top:400.80px;width:18.62px;height:30.35px;background:#c8dce8;"></div>
<div style="position:absolute;left:693.50px;top:409.72px;font-size:5.7px;line-height:6.55px;color:#f43b2a;white-space:nowrap;transform:scaleX(0.8849);transform-origin:0 50%;">18</div>
<div style="position:absolute;left:693.98px;top:416.81px;font-size:5.2px;line-height:5.98px;color:#222;white-space:nowrap;transform:scaleX(0.9500);transform-origin:0 50%;">W</div>
<div style="position:absolute;left:705.42px;top:400.80px;width:18.62px;height:30.35px;background:#def2fc;"></div>
<div style="position:absolute;left:712.12px;top:406.72px;font-size:5.7px;line-height:6.55px;color:#2a2a2a;white-space:nowrap;transform:scaleX(0.8849);transform-origin:0 50%;">19</div>
<div style="position:absolute;left:712.60px;top:413.61px;font-size:5.2px;line-height:5.98px;color:#222;white-space:nowrap;transform:scaleX(0.9500);transform-origin:0 50%;">W</div>
<div style="position:absolute;left:709.92px;top:422.10px;width:10.20px;height:2.90px;background:#cadeea;"></div>
<div style="position:absolute;left:730.74px;top:406.72px;font-size:5.7px;line-height:6.55px;color:#2a2a2a;white-space:nowrap;transform:scaleX(0.8849);transform-origin:0 50%;">20</div>
<div style="position:absolute;left:731.90px;top:413.61px;font-size:5.2px;line-height:5.98px;color:#222;white-space:nowrap;transform:scaleX(0.9500);transform-origin:0 50%;">P</div>
<div style="position:absolute;left:727.94px;top:422.10px;width:11.80px;height:2.90px;background:#d9d9d9;"></div>
<div style="position:absolute;left:734.54px;top:422.10px;width:5.20px;height:2.90px;background:#f5382a;"></div>
<div style="position:absolute;left:749.36px;top:406.72px;font-size:5.7px;line-height:6.55px;color:#2a2a2a;white-space:nowrap;transform:scaleX(0.8849);transform-origin:0 50%;">21</div>
<div style="position:absolute;left:750.52px;top:413.61px;font-size:5.2px;line-height:5.98px;color:#222;white-space:nowrap;transform:scaleX(0.9500);transform-origin:0 50%;">P</div>
<div style="position:absolute;left:746.56px;top:422.10px;width:11.80px;height:2.90px;background:#d9d9d9;"></div>
<div style="position:absolute;left:746.56px;top:422.10px;width:5.40px;height:2.90px;background:#3a9a3c;"></div>
<div style="position:absolute;left:756.46px;top:422.10px;width:1.90px;height:2.90px;background:#3a9a3c;"></div>
<div style="position:absolute;left:767.98px;top:406.72px;font-size:5.7px;line-height:6.55px;color:#2a2a2a;white-space:nowrap;transform:scaleX(0.8849);transform-origin:0 50%;">22</div>
<div style="position:absolute;left:769.14px;top:413.61px;font-size:5.2px;line-height:5.98px;color:#222;white-space:nowrap;transform:scaleX(0.9500);transform-origin:0 50%;">P</div>
<div style="position:absolute;left:765.18px;top:422.10px;width:11.80px;height:2.90px;background:#d9d9d9;"></div>
<div style="position:absolute;left:765.18px;top:422.10px;width:5.40px;height:2.90px;background:#3a9a3c;"></div>
<div style="position:absolute;left:775.08px;top:422.10px;width:1.90px;height:2.90px;background:#3a9a3c;"></div>
<div style="position:absolute;left:786.60px;top:406.72px;font-size:5.7px;line-height:6.55px;color:#2a2a2a;white-space:nowrap;transform:scaleX(0.8849);transform-origin:0 50%;">23</div>
<div style="position:absolute;left:787.76px;top:413.61px;font-size:5.2px;line-height:5.98px;color:#222;white-space:nowrap;transform:scaleX(0.9500);transform-origin:0 50%;">P</div>
<div style="position:absolute;left:783.80px;top:422.10px;width:11.80px;height:2.90px;background:#d9d9d9;"></div>
<div style="position:absolute;left:783.80px;top:422.10px;width:5.40px;height:2.90px;background:#3a9a3c;"></div>
<div style="position:absolute;left:793.70px;top:422.10px;width:1.90px;height:2.90px;background:#3a9a3c;"></div>
<div style="position:absolute;left:798.52px;top:400.80px;width:18.62px;height:30.35px;background:#c8dce8;"></div>
<div style="position:absolute;left:805.22px;top:409.72px;font-size:5.7px;line-height:6.55px;color:#2a2a2a;white-space:nowrap;transform:scaleX(0.8849);transform-origin:0 50%;">24</div>
<div style="position:absolute;left:805.70px;top:416.81px;font-size:5.2px;line-height:5.98px;color:#222;white-space:nowrap;transform:scaleX(0.9500);transform-origin:0 50%;">W</div>
<div style="position:absolute;left:291.70px;top:442.81px;font-size:6.5px;line-height:7.47px;color:#2a2a2a;white-space:nowrap;transform:scaleX(0.8300);transform-origin:0 50%;">Paź</div>
<div style="position:absolute;left:407.50px;top:431.15px;width:18.62px;height:30.35px;background:#c8dce8;"></div>
<div style="position:absolute;left:415.61px;top:440.07px;font-size:5.7px;line-height:6.55px;color:#2a2a2a;white-space:nowrap;transform:scaleX(0.8849);transform-origin:0 50%;">1</div>
<div style="position:absolute;left:414.68px;top:447.16px;font-size:5.2px;line-height:5.98px;color:#222;white-space:nowrap;transform:scaleX(0.9500);transform-origin:0 50%;">W</div>
<div style="position:absolute;left:426.12px;top:431.15px;width:18.62px;height:30.35px;background:#c8dce8;"></div>
<div style="position:absolute;left:434.23px;top:440.07px;font-size:5.7px;line-height:6.55px;color:#f43b2a;white-space:nowrap;transform:scaleX(0.8849);transform-origin:0 50%;">2</div>
<div style="position:absolute;left:433.30px;top:447.16px;font-size:5.2px;line-height:5.98px;color:#222;white-space:nowrap;transform:scaleX(0.9500);transform-origin:0 50%;">W</div>
<div style="position:absolute;left:452.85px;top:437.07px;font-size:5.7px;line-height:6.55px;color:#2a2a2a;white-space:nowrap;transform:scaleX(0.8849);transform-origin:0 50%;">3</div>
<div style="position:absolute;left:452.60px;top:443.96px;font-size:5.2px;line-height:5.98px;color:#222;white-space:nowrap;transform:scaleX(0.9500);transform-origin:0 50%;">P</div>
<div style="position:absolute;left:448.64px;top:452.45px;width:11.80px;height:2.90px;background:#d9d9d9;"></div>
<div style="position:absolute;left:448.64px;top:452.45px;width:5.40px;height:2.90px;background:#3a9a3c;"></div>
<div style="position:absolute;left:458.54px;top:452.45px;width:1.90px;height:2.90px;background:#3a9a3c;"></div>
<div style="position:absolute;left:471.47px;top:437.07px;font-size:5.7px;line-height:6.55px;color:#2a2a2a;white-space:nowrap;transform:scaleX(0.8849);transform-origin:0 50%;">4</div>
<div style="position:absolute;left:471.22px;top:443.96px;font-size:5.2px;line-height:5.98px;color:#222;white-space:nowrap;transform:scaleX(0.9500);transform-origin:0 50%;">P</div>
<div style="position:absolute;left:467.26px;top:452.45px;width:11.80px;height:2.90px;background:#d9d9d9;"></div>
<div style="position:absolute;left:467.26px;top:452.45px;width:5.40px;height:2.90px;background:#3a9a3c;"></div>
<div style="position:absolute;left:477.16px;top:452.45px;width:1.90px;height:2.90px;background:#3a9a3c;"></div>
<div style="position:absolute;left:490.09px;top:437.07px;font-size:5.7px;line-height:6.55px;color:#2a2a2a;white-space:nowrap;transform:scaleX(0.8849);transform-origin:0 50%;">5</div>
<div style="position:absolute;left:489.84px;top:443.96px;font-size:5.2px;line-height:5.98px;color:#222;white-space:nowrap;transform:scaleX(0.9500);transform-origin:0 50%;">P</div>
<div style="position:absolute;left:485.88px;top:452.45px;width:11.80px;height:2.90px;background:#d9d9d9;"></div>
<div style="position:absolute;left:485.88px;top:452.45px;width:5.40px;height:2.90px;background:#3a9a3c;"></div>
<div style="position:absolute;left:495.78px;top:452.45px;width:1.90px;height:2.90px;background:#3a9a3c;"></div>
<div style="position:absolute;left:508.71px;top:437.07px;font-size:5.7px;line-height:6.55px;color:#2a2a2a;white-space:nowrap;transform:scaleX(0.8849);transform-origin:0 50%;">6</div>
<div style="position:absolute;left:508.46px;top:443.96px;font-size:5.2px;line-height:5.98px;color:#222;white-space:nowrap;transform:scaleX(0.9500);transform-origin:0 50%;">P</div>
<div style="position:absolute;left:504.50px;top:452.45px;width:11.80px;height:2.90px;background:#d9d9d9;"></div>
<div style="position:absolute;left:504.50px;top:452.45px;width:5.40px;height:2.90px;background:#3a9a3c;"></div>
<div style="position:absolute;left:514.40px;top:452.45px;width:1.90px;height:2.90px;background:#3a9a3c;"></div>
<div style="position:absolute;left:527.33px;top:437.07px;font-size:5.7px;line-height:6.55px;color:#2a2a2a;white-space:nowrap;transform:scaleX(0.8849);transform-origin:0 50%;">7</div>
<div style="position:absolute;left:527.08px;top:443.96px;font-size:5.2px;line-height:5.98px;color:#222;white-space:nowrap;transform:scaleX(0.9500);transform-origin:0 50%;">P</div>
<div style="position:absolute;left:523.12px;top:452.45px;width:11.80px;height:2.90px;background:#d9d9d9;"></div>
<div style="position:absolute;left:523.12px;top:452.45px;width:5.40px;height:2.90px;background:#3a9a3c;"></div>
<div style="position:absolute;left:533.02px;top:452.45px;width:1.90px;height:2.90px;background:#3a9a3c;"></div>
<div style="position:absolute;left:537.84px;top:431.15px;width:18.62px;height:30.35px;background:#c8dce8;"></div>
<div style="position:absolute;left:545.95px;top:440.07px;font-size:5.7px;line-height:6.55px;color:#2a2a2a;white-space:nowrap;transform:scaleX(0.8849);transform-origin:0 50%;">8</div>
<div style="position:absolute;left:545.02px;top:447.16px;font-size:5.2px;line-height:5.98px;color:#222;white-space:nowrap;transform:scaleX(0.9500);transform-origin:0 50%;">W</div>
<div style="position:absolute;left:556.46px;top:431.15px;width:18.62px;height:30.35px;background:#c8dce8;"></div>
<div style="position:absolute;left:564.57px;top:440.07px;font-size:5.7px;line-height:6.55px;color:#f43b2a;white-space:nowrap;transform:scaleX(0.8849);transform-origin:0 50%;">9</div>
<div style="position:absolute;left:563.64px;top:447.16px;font-size:5.2px;line-height:5.98px;color:#222;white-space:nowrap;transform:scaleX(0.9500);transform-origin:0 50%;">W</div>
<div style="position:absolute;left:581.78px;top:437.07px;font-size:5.7px;line-height:6.55px;color:#2a2a2a;white-space:nowrap;transform:scaleX(0.8849);transform-origin:0 50%;">10</div>
<div style="position:absolute;left:582.94px;top:443.96px;font-size:5.2px;line-height:5.98px;color:#222;white-space:nowrap;transform:scaleX(0.9500);transform-origin:0 50%;">P</div>
<div style="position:absolute;left:578.98px;top:452.45px;width:11.80px;height:2.90px;background:#d9d9d9;"></div>
<div style="position:absolute;left:581.98px;top:452.45px;width:7.20px;height:2.90px;background:#3a9a3c;"></div>
<div style="position:absolute;left:600.59px;top:437.07px;font-size:5.7px;line-height:6.55px;color:#2a2a2a;white-space:nowrap;transform:scaleX(0.8849);transform-origin:0 50%;">11</div>
<div style="position:absolute;left:601.56px;top:443.96px;font-size:5.2px;line-height:5.98px;color:#222;white-space:nowrap;transform:scaleX(0.9500);transform-origin:0 50%;">P</div>
<div style="position:absolute;left:597.60px;top:452.45px;width:11.80px;height:2.90px;background:#d9d9d9;"></div>
<div style="position:absolute;left:597.60px;top:452.45px;width:5.40px;height:2.90px;background:#3a9a3c;"></div>
<div style="position:absolute;left:607.50px;top:452.45px;width:1.90px;height:2.90px;background:#3a9a3c;"></div>
<div style="position:absolute;left:619.02px;top:437.07px;font-size:5.7px;line-height:6.55px;color:#2a2a2a;white-space:nowrap;transform:scaleX(0.8849);transform-origin:0 50%;">12</div>
<div style="position:absolute;left:620.18px;top:443.96px;font-size:5.2px;line-height:5.98px;color:#222;white-space:nowrap;transform:scaleX(0.9500);transform-origin:0 50%;">P</div>
<div style="position:absolute;left:616.22px;top:452.45px;width:11.80px;height:2.90px;background:#d9d9d9;"></div>
<div style="position:absolute;left:616.22px;top:452.45px;width:5.40px;height:2.90px;background:#3a9a3c;"></div>
<div style="position:absolute;left:626.12px;top:452.45px;width:1.90px;height:2.90px;background:#3a9a3c;"></div>
<div style="position:absolute;left:637.64px;top:437.07px;font-size:5.7px;line-height:6.55px;color:#2a2a2a;white-space:nowrap;transform:scaleX(0.8849);transform-origin:0 50%;">13</div>
<div style="position:absolute;left:638.80px;top:443.96px;font-size:5.2px;line-height:5.98px;color:#222;white-space:nowrap;transform:scaleX(0.9500);transform-origin:0 50%;">P</div>
<div style="position:absolute;left:634.84px;top:452.45px;width:11.80px;height:2.90px;background:#d9d9d9;"></div>
<div style="position:absolute;left:637.84px;top:452.45px;width:7.20px;height:2.90px;background:#3a9a3c;"></div>
<div style="position:absolute;left:656.26px;top:437.07px;font-size:5.7px;line-height:6.55px;color:#2a2a2a;white-space:nowrap;transform:scaleX(0.8849);transform-origin:0 50%;">14</div>
<div style="position:absolute;left:657.42px;top:443.96px;font-size:5.2px;line-height:5.98px;color:#222;white-space:nowrap;transform:scaleX(0.9500);transform-origin:0 50%;">P</div>
<div style="position:absolute;left:653.46px;top:452.45px;width:11.80px;height:2.90px;background:#d9d9d9;"></div>
<div style="position:absolute;left:653.46px;top:452.45px;width:5.40px;height:2.90px;background:#3a9a3c;"></div>
<div style="position:absolute;left:663.36px;top:452.45px;width:1.90px;height:2.90px;background:#3a9a3c;"></div>
<div style="position:absolute;left:668.18px;top:431.15px;width:18.62px;height:30.35px;background:#c8dce8;"></div>
<div style="position:absolute;left:674.88px;top:440.07px;font-size:5.7px;line-height:6.55px;color:#2a2a2a;white-space:nowrap;transform:scaleX(0.8849);transform-origin:0 50%;">15</div>
<div style="position:absolute;left:675.36px;top:447.16px;font-size:5.2px;line-height:5.98px;color:#222;white-space:nowrap;transform:scaleX(0.9500);transform-origin:0 50%;">W</div>
<div style="position:absolute;left:686.80px;top:431.15px;width:18.62px;height:30.35px;background:#c8dce8;"></div>
<div style="position:absolute;left:693.50px;top:440.07px;font-size:5.7px;line-height:6.55px;color:#f43b2a;white-space:nowrap;transform:scaleX(0.8849);transform-origin:0 50%;">16</div>
<div style="position:absolute;left:693.98px;top:447.16px;font-size:5.2px;line-height:5.98px;color:#222;white-space:nowrap;transform:scaleX(0.9500);transform-origin:0 50%;">W</div>
<div style="position:absolute;left:712.12px;top:437.07px;font-size:5.7px;line-height:6.55px;color:#2a2a2a;white-space:nowrap;transform:scaleX(0.8849);transform-origin:0 50%;">17</div>
<div style="position:absolute;left:713.28px;top:443.96px;font-size:5.2px;line-height:5.98px;color:#222;white-space:nowrap;transform:scaleX(0.9500);transform-origin:0 50%;">P</div>
<div style="position:absolute;left:709.32px;top:452.45px;width:11.80px;height:2.90px;background:#d9d9d9;"></div>
<div style="position:absolute;left:709.32px;top:452.45px;width:5.40px;height:2.90px;background:#3a9a3c;"></div>
<div style="position:absolute;left:719.22px;top:452.45px;width:1.90px;height:2.90px;background:#3a9a3c;"></div>
<div style="position:absolute;left:730.74px;top:437.07px;font-size:5.7px;line-height:6.55px;color:#2a2a2a;white-space:nowrap;transform:scaleX(0.8849);transform-origin:0 50%;">18</div>
<div style="position:absolute;left:731.90px;top:443.96px;font-size:5.2px;line-height:5.98px;color:#222;white-space:nowrap;transform:scaleX(0.9500);transform-origin:0 50%;">P</div>
<div style="position:absolute;left:727.94px;top:452.45px;width:11.80px;height:2.90px;background:#d9d9d9;"></div>
<div style="position:absolute;left:730.94px;top:452.45px;width:7.20px;height:2.90px;background:#3a9a3c;"></div>
<div style="position:absolute;left:749.36px;top:437.07px;font-size:5.7px;line-height:6.55px;color:#2a2a2a;white-space:nowrap;transform:scaleX(0.8849);transform-origin:0 50%;">19</div>
<div style="position:absolute;left:750.52px;top:443.96px;font-size:5.2px;line-height:5.98px;color:#222;white-space:nowrap;transform:scaleX(0.9500);transform-origin:0 50%;">P</div>
<div style="position:absolute;left:746.56px;top:452.45px;width:11.80px;height:2.90px;background:#d9d9d9;"></div>
<div style="position:absolute;left:746.56px;top:452.45px;width:5.40px;height:2.90px;background:#3a9a3c;"></div>
<div style="position:absolute;left:756.46px;top:452.45px;width:1.90px;height:2.90px;background:#3a9a3c;"></div>
<div style="position:absolute;left:767.98px;top:437.07px;font-size:5.7px;line-height:6.55px;color:#2a2a2a;white-space:nowrap;transform:scaleX(0.8849);transform-origin:0 50%;">20</div>
<div style="position:absolute;left:769.14px;top:443.96px;font-size:5.2px;line-height:5.98px;color:#222;white-space:nowrap;transform:scaleX(0.9500);transform-origin:0 50%;">P</div>
<div style="position:absolute;left:765.18px;top:452.45px;width:11.80px;height:2.90px;background:#d9d9d9;"></div>
<div style="position:absolute;left:765.18px;top:452.45px;width:5.40px;height:2.90px;background:#3a9a3c;"></div>
<div style="position:absolute;left:775.08px;top:452.45px;width:1.90px;height:2.90px;background:#3a9a3c;"></div>
<div style="position:absolute;left:786.60px;top:437.07px;font-size:5.7px;line-height:6.55px;color:#2a2a2a;white-space:nowrap;transform:scaleX(0.8849);transform-origin:0 50%;">21</div>
<div style="position:absolute;left:787.76px;top:443.96px;font-size:5.2px;line-height:5.98px;color:#222;white-space:nowrap;transform:scaleX(0.9500);transform-origin:0 50%;">P</div>
<div style="position:absolute;left:783.80px;top:452.45px;width:11.80px;height:2.90px;background:#d9d9d9;"></div>
<div style="position:absolute;left:786.80px;top:452.45px;width:7.20px;height:2.90px;background:#3a9a3c;"></div>
<div style="position:absolute;left:798.52px;top:431.15px;width:18.62px;height:30.35px;background:#c8dce8;"></div>
<div style="position:absolute;left:805.22px;top:440.07px;font-size:5.7px;line-height:6.55px;color:#2a2a2a;white-space:nowrap;transform:scaleX(0.8849);transform-origin:0 50%;">22</div>
<div style="position:absolute;left:805.70px;top:447.16px;font-size:5.2px;line-height:5.98px;color:#222;white-space:nowrap;transform:scaleX(0.9500);transform-origin:0 50%;">W</div>
<div style="position:absolute;left:291.70px;top:473.16px;font-size:6.5px;line-height:7.47px;color:#2a2a2a;white-space:nowrap;transform:scaleX(0.8300);transform-origin:0 50%;">Lis</div>
<div style="position:absolute;left:341.13px;top:467.42px;font-size:5.7px;line-height:6.55px;color:#2a2a2a;white-space:nowrap;transform:scaleX(0.8849);transform-origin:0 50%;">1</div>
<div style="position:absolute;left:340.88px;top:474.31px;font-size:5.2px;line-height:5.98px;color:#222;white-space:nowrap;transform:scaleX(0.9500);transform-origin:0 50%;">P</div>
<div style="position:absolute;left:336.92px;top:482.80px;width:11.80px;height:2.90px;background:#d9d9d9;"></div>
<div style="position:absolute;left:336.92px;top:482.80px;width:5.40px;height:2.90px;background:#3a9a3c;"></div>
<div style="position:absolute;left:346.82px;top:482.80px;width:1.90px;height:2.90px;background:#3a9a3c;"></div>
<div style="position:absolute;left:359.75px;top:467.42px;font-size:5.7px;line-height:6.55px;color:#2a2a2a;white-space:nowrap;transform:scaleX(0.8849);transform-origin:0 50%;">2</div>
<div style="position:absolute;left:359.50px;top:474.31px;font-size:5.2px;line-height:5.98px;color:#222;white-space:nowrap;transform:scaleX(0.9500);transform-origin:0 50%;">P</div>
<div style="position:absolute;left:355.54px;top:482.80px;width:11.80px;height:2.90px;background:#d9d9d9;"></div>
<div style="position:absolute;left:355.54px;top:482.80px;width:5.40px;height:2.90px;background:#3a9a3c;"></div>
<div style="position:absolute;left:365.44px;top:482.80px;width:1.90px;height:2.90px;background:#3a9a3c;"></div>
<div style="position:absolute;left:378.37px;top:467.42px;font-size:5.7px;line-height:6.55px;color:#2a2a2a;white-space:nowrap;transform:scaleX(0.8849);transform-origin:0 50%;">3</div>
<div style="position:absolute;left:378.12px;top:474.31px;font-size:5.2px;line-height:5.98px;color:#222;white-space:nowrap;transform:scaleX(0.9500);transform-origin:0 50%;">P</div>
<div style="position:absolute;left:374.16px;top:482.80px;width:11.80px;height:2.90px;background:#d9d9d9;"></div>
<div style="position:absolute;left:374.16px;top:482.80px;width:5.40px;height:2.90px;background:#3a9a3c;"></div>
<div style="position:absolute;left:384.06px;top:482.80px;width:1.90px;height:2.90px;background:#3a9a3c;"></div>
<div style="position:absolute;left:396.99px;top:467.42px;font-size:5.7px;line-height:6.55px;color:#2a2a2a;white-space:nowrap;transform:scaleX(0.8849);transform-origin:0 50%;">4</div>
<div style="position:absolute;left:396.74px;top:474.31px;font-size:5.2px;line-height:5.98px;color:#222;white-space:nowrap;transform:scaleX(0.9500);transform-origin:0 50%;">P</div>
<div style="position:absolute;left:392.78px;top:482.80px;width:11.80px;height:2.90px;background:#d9d9d9;"></div>
<div style="position:absolute;left:392.78px;top:482.80px;width:5.40px;height:2.90px;background:#3a9a3c;"></div>
<div style="position:absolute;left:402.68px;top:482.80px;width:1.90px;height:2.90px;background:#3a9a3c;"></div>
<div style="position:absolute;left:407.50px;top:461.50px;width:18.62px;height:30.35px;background:#c8dce8;"></div>
<div style="position:absolute;left:415.61px;top:470.42px;font-size:5.7px;line-height:6.55px;color:#2a2a2a;white-space:nowrap;transform:scaleX(0.8849);transform-origin:0 50%;">5</div>
<div style="position:absolute;left:414.68px;top:477.51px;font-size:5.2px;line-height:5.98px;color:#222;white-space:nowrap;transform:scaleX(0.9500);transform-origin:0 50%;">W</div>
<div style="position:absolute;left:426.12px;top:461.50px;width:18.62px;height:30.35px;background:#c8dce8;"></div>
<div style="position:absolute;left:434.23px;top:470.42px;font-size:5.7px;line-height:6.55px;color:#f43b2a;white-space:nowrap;transform:scaleX(0.8849);transform-origin:0 50%;">6</div>
<div style="position:absolute;left:433.30px;top:477.51px;font-size:5.2px;line-height:5.98px;color:#222;white-space:nowrap;transform:scaleX(0.9500);transform-origin:0 50%;">W</div>
<div style="position:absolute;left:452.85px;top:467.42px;font-size:5.7px;line-height:6.55px;color:#2a2a2a;white-space:nowrap;transform:scaleX(0.8849);transform-origin:0 50%;">7</div>
<div style="position:absolute;left:452.60px;top:474.31px;font-size:5.2px;line-height:5.98px;color:#222;white-space:nowrap;transform:scaleX(0.9500);transform-origin:0 50%;">P</div>
<div style="position:absolute;left:448.64px;top:482.80px;width:11.80px;height:2.90px;background:#d9d9d9;"></div>
<div style="position:absolute;left:451.64px;top:482.80px;width:7.20px;height:2.90px;background:#3a9a3c;"></div>
<div style="position:absolute;left:471.47px;top:467.42px;font-size:5.7px;line-height:6.55px;color:#2a2a2a;white-space:nowrap;transform:scaleX(0.8849);transform-origin:0 50%;">8</div>
<div style="position:absolute;left:471.22px;top:474.31px;font-size:5.2px;line-height:5.98px;color:#222;white-space:nowrap;transform:scaleX(0.9500);transform-origin:0 50%;">P</div>
<div style="position:absolute;left:467.26px;top:482.80px;width:11.80px;height:2.90px;background:#d9d9d9;"></div>
<div style="position:absolute;left:467.26px;top:482.80px;width:5.40px;height:2.90px;background:#3a9a3c;"></div>
<div style="position:absolute;left:477.16px;top:482.80px;width:1.90px;height:2.90px;background:#3a9a3c;"></div>
<div style="position:absolute;left:490.09px;top:467.42px;font-size:5.7px;line-height:6.55px;color:#2a2a2a;white-space:nowrap;transform:scaleX(0.8849);transform-origin:0 50%;">9</div>
<div style="position:absolute;left:489.84px;top:474.31px;font-size:5.2px;line-height:5.98px;color:#222;white-space:nowrap;transform:scaleX(0.9500);transform-origin:0 50%;">P</div>
<div style="position:absolute;left:485.88px;top:482.80px;width:11.80px;height:2.90px;background:#d9d9d9;"></div>
<div style="position:absolute;left:485.88px;top:482.80px;width:5.40px;height:2.90px;background:#3a9a3c;"></div>
<div style="position:absolute;left:495.78px;top:482.80px;width:1.90px;height:2.90px;background:#3a9a3c;"></div>
<div style="position:absolute;left:507.30px;top:467.42px;font-size:5.7px;line-height:6.55px;color:#2a2a2a;white-space:nowrap;transform:scaleX(0.8849);transform-origin:0 50%;">10</div>
<div style="position:absolute;left:508.46px;top:474.31px;font-size:5.2px;line-height:5.98px;color:#222;white-space:nowrap;transform:scaleX(0.9500);transform-origin:0 50%;">P</div>
<div style="position:absolute;left:504.50px;top:482.80px;width:11.80px;height:2.90px;background:#d9d9d9;"></div>
<div style="position:absolute;left:507.50px;top:482.80px;width:7.20px;height:2.90px;background:#3a9a3c;"></div>
<div style="position:absolute;left:526.11px;top:467.42px;font-size:5.7px;line-height:6.55px;color:#2a2a2a;white-space:nowrap;transform:scaleX(0.8849);transform-origin:0 50%;">11</div>
<div style="position:absolute;left:527.08px;top:474.31px;font-size:5.2px;line-height:5.98px;color:#222;white-space:nowrap;transform:scaleX(0.9500);transform-origin:0 50%;">P</div>
<div style="position:absolute;left:523.12px;top:482.80px;width:11.80px;height:2.90px;background:#d9d9d9;"></div>
<div style="position:absolute;left:523.12px;top:482.80px;width:5.40px;height:2.90px;background:#3a9a3c;"></div>
<div style="position:absolute;left:533.02px;top:482.80px;width:1.90px;height:2.90px;background:#3a9a3c;"></div>
<div style="position:absolute;left:537.84px;top:461.50px;width:18.62px;height:30.35px;background:#c8dce8;"></div>
<div style="position:absolute;left:544.54px;top:470.42px;font-size:5.7px;line-height:6.55px;color:#2a2a2a;white-space:nowrap;transform:scaleX(0.8849);transform-origin:0 50%;">12</div>
<div style="position:absolute;left:545.02px;top:477.51px;font-size:5.2px;line-height:5.98px;color:#222;white-space:nowrap;transform:scaleX(0.9500);transform-origin:0 50%;">W</div>
<div style="position:absolute;left:556.46px;top:461.50px;width:18.62px;height:30.35px;background:#c8dce8;"></div>
<div style="position:absolute;left:563.16px;top:470.42px;font-size:5.7px;line-height:6.55px;color:#f43b2a;white-space:nowrap;transform:scaleX(0.8849);transform-origin:0 50%;">13</div>
<div style="position:absolute;left:563.64px;top:477.51px;font-size:5.2px;line-height:5.98px;color:#222;white-space:nowrap;transform:scaleX(0.9500);transform-origin:0 50%;">W</div>
<div style="position:absolute;left:581.78px;top:467.42px;font-size:5.7px;line-height:6.55px;color:#2a2a2a;white-space:nowrap;transform:scaleX(0.8849);transform-origin:0 50%;">14</div>
<div style="position:absolute;left:582.94px;top:474.31px;font-size:5.2px;line-height:5.98px;color:#222;white-space:nowrap;transform:scaleX(0.9500);transform-origin:0 50%;">P</div>
<div style="position:absolute;left:578.98px;top:482.80px;width:11.80px;height:2.90px;background:#d9d9d9;"></div>
<div style="position:absolute;left:578.98px;top:482.80px;width:5.40px;height:2.90px;background:#3a9a3c;"></div>
<div style="position:absolute;left:588.88px;top:482.80px;width:1.90px;height:2.90px;background:#3a9a3c;"></div>
<div style="position:absolute;left:600.40px;top:467.42px;font-size:5.7px;line-height:6.55px;color:#2a2a2a;white-space:nowrap;transform:scaleX(0.8849);transform-origin:0 50%;">15</div>
<div style="position:absolute;left:601.56px;top:474.31px;font-size:5.2px;line-height:5.98px;color:#222;white-space:nowrap;transform:scaleX(0.9500);transform-origin:0 50%;">P</div>
<div style="position:absolute;left:597.60px;top:482.80px;width:11.80px;height:2.90px;background:#d9d9d9;"></div>
<div style="position:absolute;left:597.60px;top:482.80px;width:5.40px;height:2.90px;background:#3a9a3c;"></div>
<div style="position:absolute;left:607.50px;top:482.80px;width:1.90px;height:2.90px;background:#3a9a3c;"></div>
<div style="position:absolute;left:619.02px;top:467.42px;font-size:5.7px;line-height:6.55px;color:#2a2a2a;white-space:nowrap;transform:scaleX(0.8849);transform-origin:0 50%;">16</div>
<div style="position:absolute;left:620.18px;top:474.31px;font-size:5.2px;line-height:5.98px;color:#222;white-space:nowrap;transform:scaleX(0.9500);transform-origin:0 50%;">P</div>
<div style="position:absolute;left:616.22px;top:482.80px;width:11.80px;height:2.90px;background:#d9d9d9;"></div>
<div style="position:absolute;left:616.22px;top:482.80px;width:5.40px;height:2.90px;background:#3a9a3c;"></div>
<div style="position:absolute;left:626.12px;top:482.80px;width:1.90px;height:2.90px;background:#3a9a3c;"></div>
<div style="position:absolute;left:637.64px;top:467.42px;font-size:5.7px;line-height:6.55px;color:#2a2a2a;white-space:nowrap;transform:scaleX(0.8849);transform-origin:0 50%;">17</div>
<div style="position:absolute;left:638.80px;top:474.31px;font-size:5.2px;line-height:5.98px;color:#222;white-space:nowrap;transform:scaleX(0.9500);transform-origin:0 50%;">P</div>
<div style="position:absolute;left:634.84px;top:482.80px;width:11.80px;height:2.90px;background:#d9d9d9;"></div>
<div style="position:absolute;left:634.84px;top:482.80px;width:5.40px;height:2.90px;background:#3a9a3c;"></div>
<div style="position:absolute;left:644.74px;top:482.80px;width:1.90px;height:2.90px;background:#3a9a3c;"></div>
<div style="position:absolute;left:656.26px;top:467.42px;font-size:5.7px;line-height:6.55px;color:#2a2a2a;white-space:nowrap;transform:scaleX(0.8849);transform-origin:0 50%;">18</div>
<div style="position:absolute;left:657.42px;top:474.31px;font-size:5.2px;line-height:5.98px;color:#222;white-space:nowrap;transform:scaleX(0.9500);transform-origin:0 50%;">P</div>
<div style="position:absolute;left:653.46px;top:482.80px;width:11.80px;height:2.90px;background:#d9d9d9;"></div>
<div style="position:absolute;left:653.46px;top:482.80px;width:5.40px;height:2.90px;background:#3a9a3c;"></div>
<div style="position:absolute;left:663.36px;top:482.80px;width:1.90px;height:2.90px;background:#3a9a3c;"></div>
<div style="position:absolute;left:668.18px;top:461.50px;width:18.62px;height:30.35px;background:#c8dce8;"></div>
<div style="position:absolute;left:674.88px;top:470.42px;font-size:5.7px;line-height:6.55px;color:#2a2a2a;white-space:nowrap;transform:scaleX(0.8849);transform-origin:0 50%;">19</div>
<div style="position:absolute;left:675.36px;top:477.51px;font-size:5.2px;line-height:5.98px;color:#222;white-space:nowrap;transform:scaleX(0.9500);transform-origin:0 50%;">W</div>
<div style="position:absolute;left:686.80px;top:461.50px;width:18.62px;height:30.35px;background:#c8dce8;"></div>
<div style="position:absolute;left:693.50px;top:470.42px;font-size:5.7px;line-height:6.55px;color:#f43b2a;white-space:nowrap;transform:scaleX(0.8849);transform-origin:0 50%;">20</div>
<div style="position:absolute;left:693.98px;top:477.51px;font-size:5.2px;line-height:5.98px;color:#222;white-space:nowrap;transform:scaleX(0.9500);transform-origin:0 50%;">W</div>
<div style="position:absolute;left:712.12px;top:467.42px;font-size:5.7px;line-height:6.55px;color:#2a2a2a;white-space:nowrap;transform:scaleX(0.8849);transform-origin:0 50%;">21</div>
<div style="position:absolute;left:713.28px;top:474.31px;font-size:5.2px;line-height:5.98px;color:#222;white-space:nowrap;transform:scaleX(0.9500);transform-origin:0 50%;">P</div>
<div style="position:absolute;left:709.32px;top:482.80px;width:11.80px;height:2.90px;background:#d9d9d9;"></div>
<div style="position:absolute;left:709.32px;top:482.80px;width:5.40px;height:2.90px;background:#3a9a3c;"></div>
<div style="position:absolute;left:719.22px;top:482.80px;width:1.90px;height:2.90px;background:#3a9a3c;"></div>
<div style="position:absolute;left:730.74px;top:467.42px;font-size:5.7px;line-height:6.55px;color:#2a2a2a;white-space:nowrap;transform:scaleX(0.8849);transform-origin:0 50%;">22</div>
<div style="position:absolute;left:731.90px;top:474.31px;font-size:5.2px;line-height:5.98px;color:#222;white-space:nowrap;transform:scaleX(0.9500);transform-origin:0 50%;">P</div>
<div style="position:absolute;left:727.94px;top:482.80px;width:11.80px;height:2.90px;background:#d9d9d9;"></div>
<div style="position:absolute;left:727.94px;top:482.80px;width:5.40px;height:2.90px;background:#3a9a3c;"></div>
<div style="position:absolute;left:737.84px;top:482.80px;width:1.90px;height:2.90px;background:#3a9a3c;"></div>
<div style="position:absolute;left:749.36px;top:467.42px;font-size:5.7px;line-height:6.55px;color:#2a2a2a;white-space:nowrap;transform:scaleX(0.8849);transform-origin:0 50%;">23</div>
<div style="position:absolute;left:750.52px;top:474.31px;font-size:5.2px;line-height:5.98px;color:#222;white-space:nowrap;transform:scaleX(0.9500);transform-origin:0 50%;">P</div>
<div style="position:absolute;left:746.56px;top:482.80px;width:11.80px;height:2.90px;background:#d9d9d9;"></div>
<div style="position:absolute;left:746.56px;top:482.80px;width:5.40px;height:2.90px;background:#3a9a3c;"></div>
<div style="position:absolute;left:756.46px;top:482.80px;width:1.90px;height:2.90px;background:#3a9a3c;"></div>
<div style="position:absolute;left:767.98px;top:467.42px;font-size:5.7px;line-height:6.55px;color:#2a2a2a;white-space:nowrap;transform:scaleX(0.8849);transform-origin:0 50%;">24</div>
<div style="position:absolute;left:769.14px;top:474.31px;font-size:5.2px;line-height:5.98px;color:#222;white-space:nowrap;transform:scaleX(0.9500);transform-origin:0 50%;">P</div>
<div style="position:absolute;left:765.18px;top:482.80px;width:11.80px;height:2.90px;background:#d9d9d9;"></div>
<div style="position:absolute;left:765.18px;top:482.80px;width:5.40px;height:2.90px;background:#3a9a3c;"></div>
<div style="position:absolute;left:775.08px;top:482.80px;width:1.90px;height:2.90px;background:#3a9a3c;"></div>
<div style="position:absolute;left:786.60px;top:467.42px;font-size:5.7px;line-height:6.55px;color:#2a2a2a;white-space:nowrap;transform:scaleX(0.8849);transform-origin:0 50%;">25</div>
<div style="position:absolute;left:787.76px;top:474.31px;font-size:5.2px;line-height:5.98px;color:#222;white-space:nowrap;transform:scaleX(0.9500);transform-origin:0 50%;">P</div>
<div style="position:absolute;left:783.80px;top:482.80px;width:11.80px;height:2.90px;background:#d9d9d9;"></div>
<div style="position:absolute;left:790.40px;top:482.80px;width:5.20px;height:2.90px;background:#f5382a;"></div>
<div style="position:absolute;left:798.52px;top:461.50px;width:18.62px;height:30.35px;background:#c8dce8;"></div>
<div style="position:absolute;left:805.22px;top:470.42px;font-size:5.7px;line-height:6.55px;color:#2a2a2a;white-space:nowrap;transform:scaleX(0.8849);transform-origin:0 50%;">26</div>
<div style="position:absolute;left:805.70px;top:477.51px;font-size:5.2px;line-height:5.98px;color:#222;white-space:nowrap;transform:scaleX(0.9500);transform-origin:0 50%;">W</div>
<div style="position:absolute;left:291.70px;top:503.51px;font-size:6.5px;line-height:7.47px;color:#2a2a2a;white-space:nowrap;transform:scaleX(0.8300);transform-origin:0 50%;">Gru</div>
<div style="position:absolute;left:378.37px;top:504.07px;font-size:5.7px;line-height:6.55px;color:#2a2a2a;white-space:nowrap;transform:scaleX(0.8849);transform-origin:0 50%;">1</div>
<div style="position:absolute;left:396.99px;top:504.07px;font-size:5.7px;line-height:6.55px;color:#2a2a2a;white-space:nowrap;transform:scaleX(0.8849);transform-origin:0 50%;">2</div>
<div style="position:absolute;left:407.50px;top:491.85px;width:18.62px;height:30.35px;background:rgba(0,0,0,0.058);"></div>
<div style="position:absolute;left:415.61px;top:504.07px;font-size:5.7px;line-height:6.55px;color:#2a2a2a;white-space:nowrap;transform:scaleX(0.8849);transform-origin:0 50%;">3</div>
<div style="position:absolute;left:426.12px;top:491.85px;width:18.62px;height:30.35px;background:rgba(0,0,0,0.058);"></div>
<div style="position:absolute;left:434.23px;top:504.07px;font-size:5.7px;line-height:6.55px;color:#f43b2a;white-space:nowrap;transform:scaleX(0.8849);transform-origin:0 50%;">4</div>
<div style="position:absolute;left:452.85px;top:504.07px;font-size:5.7px;line-height:6.55px;color:#2a2a2a;white-space:nowrap;transform:scaleX(0.8849);transform-origin:0 50%;">5</div>
<div style="position:absolute;left:471.47px;top:504.07px;font-size:5.7px;line-height:6.55px;color:#2a2a2a;white-space:nowrap;transform:scaleX(0.8849);transform-origin:0 50%;">6</div>
<div style="position:absolute;left:490.09px;top:504.07px;font-size:5.7px;line-height:6.55px;color:#2a2a2a;white-space:nowrap;transform:scaleX(0.8849);transform-origin:0 50%;">7</div>
<div style="position:absolute;left:508.71px;top:504.07px;font-size:5.7px;line-height:6.55px;color:#2a2a2a;white-space:nowrap;transform:scaleX(0.8849);transform-origin:0 50%;">8</div>
<div style="position:absolute;left:527.33px;top:504.07px;font-size:5.7px;line-height:6.55px;color:#2a2a2a;white-space:nowrap;transform:scaleX(0.8849);transform-origin:0 50%;">9</div>
<div style="position:absolute;left:537.84px;top:491.85px;width:18.62px;height:30.35px;background:rgba(0,0,0,0.058);"></div>
<div style="position:absolute;left:544.54px;top:504.07px;font-size:5.7px;line-height:6.55px;color:#2a2a2a;white-space:nowrap;transform:scaleX(0.8849);transform-origin:0 50%;">10</div>
<div style="position:absolute;left:556.46px;top:491.85px;width:18.62px;height:30.35px;background:rgba(0,0,0,0.058);"></div>
<div style="position:absolute;left:563.35px;top:504.07px;font-size:5.7px;line-height:6.55px;color:#f43b2a;white-space:nowrap;transform:scaleX(0.8849);transform-origin:0 50%;">11</div>
<div style="position:absolute;left:581.78px;top:504.07px;font-size:5.7px;line-height:6.55px;color:#2a2a2a;white-space:nowrap;transform:scaleX(0.8849);transform-origin:0 50%;">12</div>
<div style="position:absolute;left:600.40px;top:504.07px;font-size:5.7px;line-height:6.55px;color:#2a2a2a;white-space:nowrap;transform:scaleX(0.8849);transform-origin:0 50%;">13</div>
<div style="position:absolute;left:619.02px;top:504.07px;font-size:5.7px;line-height:6.55px;color:#2a2a2a;white-space:nowrap;transform:scaleX(0.8849);transform-origin:0 50%;">14</div>
<div style="position:absolute;left:637.64px;top:504.07px;font-size:5.7px;line-height:6.55px;color:#2a2a2a;white-space:nowrap;transform:scaleX(0.8849);transform-origin:0 50%;">15</div>
<div style="position:absolute;left:656.26px;top:504.07px;font-size:5.7px;line-height:6.55px;color:#2a2a2a;white-space:nowrap;transform:scaleX(0.8849);transform-origin:0 50%;">16</div>
<div style="position:absolute;left:668.18px;top:491.85px;width:18.62px;height:30.35px;background:rgba(0,0,0,0.058);"></div>
<div style="position:absolute;left:674.88px;top:504.07px;font-size:5.7px;line-height:6.55px;color:#2a2a2a;white-space:nowrap;transform:scaleX(0.8849);transform-origin:0 50%;">17</div>
<div style="position:absolute;left:686.80px;top:491.85px;width:18.62px;height:30.35px;background:rgba(0,0,0,0.058);"></div>
<div style="position:absolute;left:693.50px;top:504.07px;font-size:5.7px;line-height:6.55px;color:#f43b2a;white-space:nowrap;transform:scaleX(0.8849);transform-origin:0 50%;">18</div>
<div style="position:absolute;left:712.12px;top:504.07px;font-size:5.7px;line-height:6.55px;color:#2a2a2a;white-space:nowrap;transform:scaleX(0.8849);transform-origin:0 50%;">19</div>
<div style="position:absolute;left:730.74px;top:504.07px;font-size:5.7px;line-height:6.55px;color:#2a2a2a;white-space:nowrap;transform:scaleX(0.8849);transform-origin:0 50%;">20</div>
<div style="position:absolute;left:749.36px;top:504.07px;font-size:5.7px;line-height:6.55px;color:#2a2a2a;white-space:nowrap;transform:scaleX(0.8849);transform-origin:0 50%;">21</div>
<div style="position:absolute;left:767.98px;top:504.07px;font-size:5.7px;line-height:6.55px;color:#2a2a2a;white-space:nowrap;transform:scaleX(0.8849);transform-origin:0 50%;">22</div>
<div style="position:absolute;left:786.60px;top:504.07px;font-size:5.7px;line-height:6.55px;color:#2a2a2a;white-space:nowrap;transform:scaleX(0.8849);transform-origin:0 50%;">23</div>
<div style="position:absolute;left:798.52px;top:491.85px;width:18.62px;height:30.35px;background:rgba(0,0,0,0.058);"></div>
<div style="position:absolute;left:805.22px;top:504.07px;font-size:5.7px;line-height:6.55px;color:#2a2a2a;white-space:nowrap;transform:scaleX(0.8849);transform-origin:0 50%;">24</div>
<div style="position:absolute;left:313.95px;top:128.00px;width:0.90px;height:394.20px;background:rgba(0,0,0,0.02);"></div>
<div style="position:absolute;left:332.57px;top:128.00px;width:0.90px;height:394.20px;background:rgba(0,0,0,0.02);"></div>
<div style="position:absolute;left:351.19px;top:128.00px;width:0.90px;height:394.20px;background:rgba(0,0,0,0.02);"></div>
<div style="position:absolute;left:369.81px;top:128.00px;width:0.90px;height:394.20px;background:rgba(0,0,0,0.02);"></div>
<div style="position:absolute;left:388.43px;top:128.00px;width:0.90px;height:394.20px;background:rgba(0,0,0,0.02);"></div>
<div style="position:absolute;left:407.05px;top:128.00px;width:0.90px;height:394.20px;background:rgba(0,0,0,0.02);"></div>
<div style="position:absolute;left:425.67px;top:128.00px;width:0.90px;height:394.20px;background:rgba(0,0,0,0.02);"></div>
<div style="position:absolute;left:444.29px;top:128.00px;width:0.90px;height:394.20px;background:rgba(0,0,0,0.02);"></div>
<div style="position:absolute;left:462.91px;top:128.00px;width:0.90px;height:394.20px;background:rgba(0,0,0,0.02);"></div>
<div style="position:absolute;left:481.53px;top:128.00px;width:0.90px;height:394.20px;background:rgba(0,0,0,0.02);"></div>
<div style="position:absolute;left:500.15px;top:128.00px;width:0.90px;height:394.20px;background:rgba(0,0,0,0.02);"></div>
<div style="position:absolute;left:518.77px;top:128.00px;width:0.90px;height:394.20px;background:rgba(0,0,0,0.02);"></div>
<div style="position:absolute;left:537.39px;top:128.00px;width:0.90px;height:394.20px;background:rgba(0,0,0,0.02);"></div>
<div style="position:absolute;left:556.01px;top:128.00px;width:0.90px;height:394.20px;background:rgba(0,0,0,0.02);"></div>
<div style="position:absolute;left:574.63px;top:128.00px;width:0.90px;height:394.20px;background:rgba(0,0,0,0.02);"></div>
<div style="position:absolute;left:593.25px;top:128.00px;width:0.90px;height:394.20px;background:rgba(0,0,0,0.02);"></div>
<div style="position:absolute;left:611.87px;top:128.00px;width:0.90px;height:394.20px;background:rgba(0,0,0,0.02);"></div>
<div style="position:absolute;left:630.49px;top:128.00px;width:0.90px;height:394.20px;background:rgba(0,0,0,0.02);"></div>
<div style="position:absolute;left:649.11px;top:128.00px;width:0.90px;height:394.20px;background:rgba(0,0,0,0.02);"></div>
<div style="position:absolute;left:667.73px;top:128.00px;width:0.90px;height:394.20px;background:rgba(0,0,0,0.02);"></div>
<div style="position:absolute;left:686.35px;top:128.00px;width:0.90px;height:394.20px;background:rgba(0,0,0,0.02);"></div>
<div style="position:absolute;left:704.97px;top:128.00px;width:0.90px;height:394.20px;background:rgba(0,0,0,0.02);"></div>
<div style="position:absolute;left:723.59px;top:128.00px;width:0.90px;height:394.20px;background:rgba(0,0,0,0.02);"></div>
<div style="position:absolute;left:742.21px;top:128.00px;width:0.90px;height:394.20px;background:rgba(0,0,0,0.02);"></div>
<div style="position:absolute;left:760.83px;top:128.00px;width:0.90px;height:394.20px;background:rgba(0,0,0,0.02);"></div>
<div style="position:absolute;left:779.45px;top:128.00px;width:0.90px;height:394.20px;background:rgba(0,0,0,0.02);"></div>
<div style="position:absolute;left:798.07px;top:128.00px;width:0.90px;height:394.20px;background:rgba(0,0,0,0.02);"></div>
<div style="position:absolute;left:816.69px;top:128.00px;width:0.90px;height:394.20px;background:rgba(0,0,0,0.02);"></div>
<div style="position:absolute;left:284.40px;top:157.55px;width:515.60px;height:0.90px;background:rgba(0,0,0,0.02);"></div>
<div style="position:absolute;left:284.40px;top:187.90px;width:515.60px;height:0.90px;background:rgba(0,0,0,0.02);"></div>
<div style="position:absolute;left:284.40px;top:218.25px;width:515.60px;height:0.90px;background:rgba(0,0,0,0.02);"></div>
<div style="position:absolute;left:284.40px;top:248.60px;width:515.60px;height:0.90px;background:rgba(0,0,0,0.02);"></div>
<div style="position:absolute;left:284.40px;top:278.95px;width:515.60px;height:0.90px;background:rgba(0,0,0,0.02);"></div>
<div style="position:absolute;left:284.40px;top:309.30px;width:515.60px;height:0.90px;background:rgba(0,0,0,0.02);"></div>
<div style="position:absolute;left:284.40px;top:339.65px;width:515.60px;height:0.90px;background:rgba(0,0,0,0.02);"></div>
<div style="position:absolute;left:284.40px;top:370.00px;width:515.60px;height:0.90px;background:rgba(0,0,0,0.02);"></div>
<div style="position:absolute;left:284.40px;top:400.35px;width:515.60px;height:0.90px;background:rgba(0,0,0,0.02);"></div>
<div style="position:absolute;left:284.40px;top:430.70px;width:515.60px;height:0.90px;background:rgba(0,0,0,0.02);"></div>
<div style="position:absolute;left:284.40px;top:461.05px;width:515.60px;height:0.90px;background:rgba(0,0,0,0.02);"></div>
<div style="position:absolute;left:284.40px;top:491.40px;width:515.60px;height:0.90px;background:rgba(0,0,0,0.02);"></div>
<div style="position:absolute;left:284.40px;top:521.75px;width:515.60px;height:0.90px;background:rgba(0,0,0,0.02);"></div>
<div style="position:absolute;left:59.00px;top:43.00px;width:211.00px;height:1.00px;background:rgba(42,44,62,0.4);"></div>
<div style="position:absolute;left:274.00px;top:43.00px;width:292.00px;height:1.00px;background:rgba(42,44,62,0.4);"></div>
<div style="position:absolute;left:274.00px;top:44.00px;width:1.00px;height:494.00px;background:rgba(42,44,62,0.4);"></div>
<div style="position:absolute;left:59.00px;top:537.00px;width:211.00px;height:1.00px;background:rgba(42,44,62,0.35);"></div>
<div style="position:absolute;left:275.00px;top:537.00px;width:525.00px;height:1.00px;background:rgba(42,44,62,0.4);"></div>
</div></body></html>
